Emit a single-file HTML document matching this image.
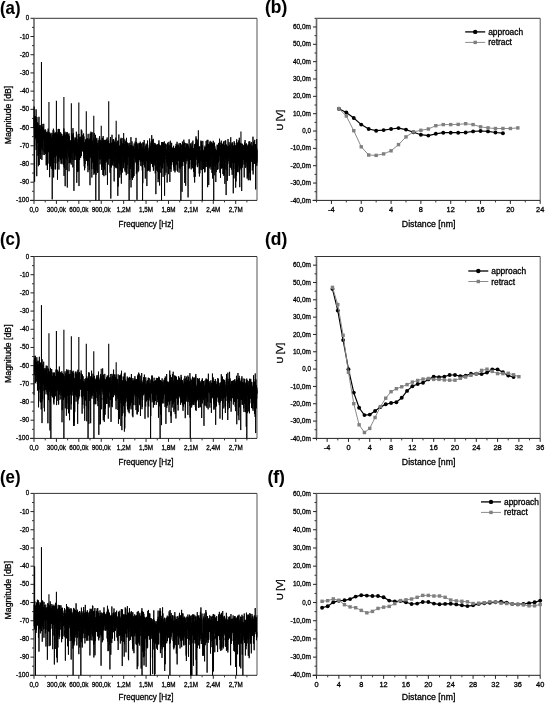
<!DOCTYPE html>
<html><head><meta charset="utf-8"><title>Figure</title>
<style>html,body{margin:0;padding:0;background:#fff;}svg{display:block;}text{fill:#000;stroke:#000;stroke-width:0.3px;}</style>
</head><body>
<svg width="545" height="703" viewBox="0 0 545 703" font-family="'Liberation Sans', Arial, sans-serif">
<rect width="545" height="703" fill="#fff"/>
<line x1="34" y1="18.3" x2="257" y2="18.3" stroke="#333" stroke-width="1"/>
<line x1="257" y1="18.3" x2="257" y2="200.4" stroke="#555" stroke-width="1"/>
<line x1="30" y1="200.4" x2="257" y2="200.4" stroke="#222" stroke-width="1"/>
<line x1="34" y1="18.3" x2="34" y2="200.4" stroke="#666" stroke-width="1.6"/>
<line x1="30.5" y1="200.4" x2="34" y2="200.4" stroke="#222" stroke-width="1"/>
<line x1="32" y1="191.3" x2="34" y2="191.3" stroke="#333" stroke-width="1"/>
<line x1="30.5" y1="182.19" x2="34" y2="182.19" stroke="#222" stroke-width="1"/>
<line x1="32" y1="173.09" x2="34" y2="173.09" stroke="#333" stroke-width="1"/>
<line x1="30.5" y1="163.98" x2="34" y2="163.98" stroke="#222" stroke-width="1"/>
<line x1="32" y1="154.88" x2="34" y2="154.88" stroke="#333" stroke-width="1"/>
<line x1="30.5" y1="145.77" x2="34" y2="145.77" stroke="#222" stroke-width="1"/>
<line x1="32" y1="136.67" x2="34" y2="136.67" stroke="#333" stroke-width="1"/>
<line x1="30.5" y1="127.56" x2="34" y2="127.56" stroke="#222" stroke-width="1"/>
<line x1="32" y1="118.46" x2="34" y2="118.46" stroke="#333" stroke-width="1"/>
<line x1="30.5" y1="109.35" x2="34" y2="109.35" stroke="#222" stroke-width="1"/>
<line x1="32" y1="100.25" x2="34" y2="100.25" stroke="#333" stroke-width="1"/>
<line x1="30.5" y1="91.14" x2="34" y2="91.14" stroke="#222" stroke-width="1"/>
<line x1="32" y1="82.04" x2="34" y2="82.04" stroke="#333" stroke-width="1"/>
<line x1="30.5" y1="72.93" x2="34" y2="72.93" stroke="#222" stroke-width="1"/>
<line x1="32" y1="63.83" x2="34" y2="63.83" stroke="#333" stroke-width="1"/>
<line x1="30.5" y1="54.72" x2="34" y2="54.72" stroke="#222" stroke-width="1"/>
<line x1="32" y1="45.62" x2="34" y2="45.62" stroke="#333" stroke-width="1"/>
<line x1="30.5" y1="36.51" x2="34" y2="36.51" stroke="#222" stroke-width="1"/>
<line x1="32" y1="27.41" x2="34" y2="27.41" stroke="#333" stroke-width="1"/>
<line x1="30.5" y1="18.3" x2="34" y2="18.3" stroke="#222" stroke-width="1"/>
<text x="29.2" y="20.3" font-size="7.2" text-anchor="end" textLength="3.4" lengthAdjust="spacingAndGlyphs">0</text>
<text x="29.2" y="38.51" font-size="7.2" text-anchor="end" textLength="9.4" lengthAdjust="spacingAndGlyphs">-10</text>
<text x="29.2" y="56.72" font-size="7.2" text-anchor="end" textLength="9.4" lengthAdjust="spacingAndGlyphs">-20</text>
<text x="29.2" y="74.93" font-size="7.2" text-anchor="end" textLength="9.4" lengthAdjust="spacingAndGlyphs">-30</text>
<text x="29.2" y="93.14" font-size="7.2" text-anchor="end" textLength="9.4" lengthAdjust="spacingAndGlyphs">-40</text>
<text x="29.2" y="111.35" font-size="7.2" text-anchor="end" textLength="9.4" lengthAdjust="spacingAndGlyphs">-50</text>
<text x="29.2" y="129.56" font-size="7.2" text-anchor="end" textLength="9.4" lengthAdjust="spacingAndGlyphs">-60</text>
<text x="29.2" y="147.77" font-size="7.2" text-anchor="end" textLength="9.4" lengthAdjust="spacingAndGlyphs">-70</text>
<text x="29.2" y="165.98" font-size="7.2" text-anchor="end" textLength="9.4" lengthAdjust="spacingAndGlyphs">-80</text>
<text x="29.2" y="184.19" font-size="7.2" text-anchor="end" textLength="9.4" lengthAdjust="spacingAndGlyphs">-90</text>
<text x="29.2" y="202.4" font-size="7.2" text-anchor="end" textLength="13.2" lengthAdjust="spacingAndGlyphs">-100</text>
<line x1="34" y1="200.4" x2="34" y2="203.9" stroke="#222" stroke-width="1"/>
<line x1="45.21" y1="200.4" x2="45.21" y2="202.4" stroke="#333" stroke-width="1"/>
<line x1="56.41" y1="200.4" x2="56.41" y2="203.9" stroke="#222" stroke-width="1"/>
<line x1="67.62" y1="200.4" x2="67.62" y2="202.4" stroke="#333" stroke-width="1"/>
<line x1="78.82" y1="200.4" x2="78.82" y2="203.9" stroke="#222" stroke-width="1"/>
<line x1="90.03" y1="200.4" x2="90.03" y2="202.4" stroke="#333" stroke-width="1"/>
<line x1="101.24" y1="200.4" x2="101.24" y2="203.9" stroke="#222" stroke-width="1"/>
<line x1="112.44" y1="200.4" x2="112.44" y2="202.4" stroke="#333" stroke-width="1"/>
<line x1="123.65" y1="200.4" x2="123.65" y2="203.9" stroke="#222" stroke-width="1"/>
<line x1="134.85" y1="200.4" x2="134.85" y2="202.4" stroke="#333" stroke-width="1"/>
<line x1="146.06" y1="200.4" x2="146.06" y2="203.9" stroke="#222" stroke-width="1"/>
<line x1="157.27" y1="200.4" x2="157.27" y2="202.4" stroke="#333" stroke-width="1"/>
<line x1="168.47" y1="200.4" x2="168.47" y2="203.9" stroke="#222" stroke-width="1"/>
<line x1="179.68" y1="200.4" x2="179.68" y2="202.4" stroke="#333" stroke-width="1"/>
<line x1="190.88" y1="200.4" x2="190.88" y2="203.9" stroke="#222" stroke-width="1"/>
<line x1="202.09" y1="200.4" x2="202.09" y2="202.4" stroke="#333" stroke-width="1"/>
<line x1="213.3" y1="200.4" x2="213.3" y2="203.9" stroke="#222" stroke-width="1"/>
<line x1="224.5" y1="200.4" x2="224.5" y2="202.4" stroke="#333" stroke-width="1"/>
<line x1="235.71" y1="200.4" x2="235.71" y2="203.9" stroke="#222" stroke-width="1"/>
<line x1="246.91" y1="200.4" x2="246.91" y2="202.4" stroke="#333" stroke-width="1"/>
<text x="34" y="212.2" font-size="7.2" text-anchor="middle" textLength="9" lengthAdjust="spacingAndGlyphs">0,0</text>
<text x="56.41" y="212.2" font-size="7.2" text-anchor="middle" textLength="19.2" lengthAdjust="spacingAndGlyphs">300,0k</text>
<text x="78.82" y="212.2" font-size="7.2" text-anchor="middle" textLength="19.2" lengthAdjust="spacingAndGlyphs">600,0k</text>
<text x="101.24" y="212.2" font-size="7.2" text-anchor="middle" textLength="19.2" lengthAdjust="spacingAndGlyphs">900,0k</text>
<text x="123.65" y="212.2" font-size="7.2" text-anchor="middle" textLength="14" lengthAdjust="spacingAndGlyphs">1,2M</text>
<text x="146.06" y="212.2" font-size="7.2" text-anchor="middle" textLength="14" lengthAdjust="spacingAndGlyphs">1,5M</text>
<text x="168.47" y="212.2" font-size="7.2" text-anchor="middle" textLength="14" lengthAdjust="spacingAndGlyphs">1,8M</text>
<text x="190.88" y="212.2" font-size="7.2" text-anchor="middle" textLength="14" lengthAdjust="spacingAndGlyphs">2,1M</text>
<text x="213.3" y="212.2" font-size="7.2" text-anchor="middle" textLength="14" lengthAdjust="spacingAndGlyphs">2,4M</text>
<text x="235.71" y="212.2" font-size="7.2" text-anchor="middle" textLength="14" lengthAdjust="spacingAndGlyphs">2,7M</text>
<text x="146" y="226.6" font-size="8.7" text-anchor="middle" textLength="55" lengthAdjust="spacingAndGlyphs">Frequency [Hz]</text>
<text x="10.6" y="115" font-size="8.7" text-anchor="middle" textLength="58.5" lengthAdjust="spacingAndGlyphs" transform="rotate(-90 10.6 115)">Magnitude [dB]</text>
<text x="0" y="13.9" font-size="17.8" font-weight="bold" textLength="20.5" lengthAdjust="spacingAndGlyphs" style="stroke-width:0.1px">(a)</text>
<polyline points="34,118.86 34.07,128.23 34.15,106.6 34.22,127.49 34.3,135.98 34.37,115.98 34.45,126.03 34.52,125.55 34.59,181.73 34.67,123.7 34.74,121.51 34.82,132.76 34.89,118.23 34.97,133.98 35.04,124.7 35.12,137.93 35.19,123.92 35.26,129.25 35.34,126.62 35.41,116.3 35.49,123.39 35.56,125.34 35.64,116.48 35.71,119.37 35.78,124 35.86,133.66 35.93,122.84 36.01,139.45 36.08,109.33 36.16,150.02 36.23,119.49 36.31,121.7 36.38,145.01 36.45,122.34 36.53,149.31 36.6,124.8 36.68,125.89 36.75,176.2 36.83,126.73 36.9,117.15 36.97,129.47 37.05,132.13 37.12,131.73 37.2,126.81 37.27,132.93 37.35,137.99 37.42,128.13 37.49,125.55 37.57,130.21 37.64,122.27 37.72,142.83 37.79,136.8 37.87,144.33 37.94,155.82 38.02,132.85 38.09,130.35 38.16,123.52 38.24,133.38 38.31,140.98 38.39,166.18 38.46,151.39 38.54,134.85 38.61,128.27 38.68,151.16 38.76,132.03 38.83,138.91 38.91,123.02 38.98,116.8 39.06,143.76 39.13,133.34 39.21,130.25 39.28,164.97 39.35,150.62 39.43,128.64 39.5,125.65 39.58,133.6 39.65,134.89 39.73,136.62 39.8,134.68 39.87,125.3 39.95,136.46 40.02,130.03 40.1,151.66 40.17,125.35 40.25,154.82 40.32,129.62 40.39,141.22 40.47,148.89 40.54,136.71 40.62,135.16 40.69,158.96 40.77,143.75 40.84,143.87 40.92,136.13 40.99,129.54 41.06,140.9 41.14,132.73 41.21,128.23 41.29,139.81 41.36,147.47 41.44,123.85 41.51,127 41.58,137.38 41.66,134.41 41.73,148.42 41.81,131.18 41.88,159.94 41.96,143.64 42.03,135.39 42.11,123.96 42.18,145.1 42.25,150.49 42.33,150.23 42.4,142.59 42.48,145.7 42.55,142.61 42.63,134.7 42.7,126.7 42.77,138.84 42.85,128.19 42.92,136.92 43,140.94 43.07,154.86 43.15,144.02 43.22,139.62 43.29,137.56 43.37,133.85 43.44,137.65 43.52,127.76 43.59,130.23 43.67,133.15 43.74,123.81 43.82,133.46 43.89,134.05 43.96,140.12 44.04,135.71 44.11,152.31 44.19,130.62 44.26,153.31 44.34,155.01 44.41,135.14 44.48,136.83 44.56,143.11 44.63,135.35 44.71,131.95 44.78,150.36 44.86,129.84 44.93,135.91 45.01,139.29 45.08,135.1 45.15,136.05 45.23,129.37 45.3,137.55 45.38,144.68 45.45,154.06 45.53,131.41 45.6,143.74 45.67,133.38 45.75,130.41 45.82,147.11 45.9,135.7 45.97,150.26 46.05,139.84 46.12,133.11 46.19,165.25 46.27,132.08 46.34,143.92 46.42,139.66 46.49,144.45 46.57,138.56 46.64,143.83 46.72,132.53 46.79,165.16 46.86,145 46.94,138.02 47.01,140.62 47.09,133.95 47.16,144.18 47.24,145.12 47.31,133.59 47.38,169.94 47.46,144.12 47.53,139.44 47.61,139.6 47.68,141.89 47.76,132.74 47.83,139.63 47.9,131.44 47.98,163.67 48.05,150.45 48.13,138.47 48.2,128.62 48.28,149.81 48.35,152.01 48.43,148.74 48.5,137.58 48.57,139.97 48.65,136.65 48.72,138.98 48.8,132.08 48.87,140.64 48.95,148.87 49.02,137.52 49.09,146.63 49.17,152.55 49.24,134.04 49.32,144.86 49.39,143.52 49.47,142.98 49.54,147.2 49.62,177.19 49.69,146.43 49.76,132.51 49.84,145.14 49.91,165.14 49.99,134.05 50.06,156.67 50.14,162.71 50.21,151.45 50.28,134.03 50.36,137.93 50.43,156.94 50.51,166.38 50.58,150.58 50.66,138.7 50.73,135.47 50.8,133.34 50.88,142.98 50.95,140.38 51.03,141.31 51.1,145.93 51.18,141.73 51.25,140.29 51.33,168.84 51.4,153.57 51.47,139.75 51.55,161.77 51.62,137.15 51.7,145.82 51.77,138.45 51.85,145.44 51.92,154.56 51.99,132.78 52.07,143.8 52.14,145.33 52.22,199.34 52.29,140.45 52.37,134.9 52.44,147.9 52.52,141.39 52.59,169.82 52.66,153.25 52.74,165 52.81,143.84 52.89,139.52 52.96,140.8 53.04,163.14 53.11,158.86 53.18,130 53.26,170.67 53.33,159.5 53.41,128.69 53.48,137.36 53.56,135.78 53.63,177.5 53.7,158.22 53.78,130.49 53.85,135.07 53.93,163.01 54,132.65 54.08,136.25 54.15,151.14 54.23,151.16 54.3,143.68 54.37,150.49 54.45,133.33 54.52,150.08 54.6,157.38 54.67,140.56 54.75,144.14 54.82,138.55 54.89,138.58 54.97,144.83 55.04,149.61 55.12,169.26 55.19,158.81 55.27,137.05 55.34,146.1 55.42,133.88 55.49,148.06 55.56,132.41 55.64,169.35 55.71,150.31 55.79,151.01 55.86,137.81 55.94,144.15 56.01,136.62 56.08,136.67 56.16,138.43 56.23,134.69 56.31,155.67 56.38,135.73 56.46,151.2 56.53,138.94 56.6,134.72 56.68,139.23 56.75,142.68 56.83,154.45 56.9,147.72 56.98,131.99 57.05,149.91 57.13,163.36 57.2,150.88 57.27,156.5 57.35,153.41 57.42,133.71 57.5,179.68 57.57,149.9 57.65,160.72 57.72,138.02 57.79,152.34 57.87,158.3 57.94,154.37 58.02,148 58.09,137.9 58.17,129.06 58.24,148.1 58.32,137.56 58.39,149.53 58.46,142.57 58.54,156.45 58.61,142.14 58.69,128.87 58.76,161.81 58.84,140.83 58.91,169.57 58.98,150.65 59.06,153.44 59.13,137.08 59.21,139.91 59.28,144.33 59.36,140.31 59.43,129.25 59.5,146.44 59.58,146.93 59.65,146.25 59.73,137.56 59.8,151.52 59.88,158.45 59.95,146.34 60.03,137.52 60.1,138.23 60.17,157.93 60.25,141.75 60.32,157.89 60.4,151.08 60.47,135.11 60.55,149.51 60.62,132.24 60.69,159.95 60.77,142.07 60.84,144.41 60.92,147.93 60.99,163.82 61.07,138.23 61.14,153.02 61.22,151.22 61.29,141.02 61.36,138.5 61.44,162.49 61.51,133.74 61.59,137.65 61.66,137.05 61.74,145.99 61.81,134.08 61.88,142.47 61.96,150.8 62.03,164.25 62.11,143.81 62.18,135.88 62.26,145.82 62.33,158.46 62.4,149.75 62.48,146.44 62.55,137.32 62.63,136.51 62.7,146.47 62.78,137.85 62.85,151.47 62.93,142.71 63,149.16 63.07,154.29 63.15,135.7 63.22,142.27 63.3,136.31 63.37,163.06 63.45,146.53 63.52,165.01 63.59,136.18 63.67,133.95 63.74,141.03 63.82,139.73 63.89,128.47 63.97,146.31 64.04,175.9 64.12,161.92 64.19,166.81 64.26,142.06 64.34,135.89 64.41,167.95 64.49,136.74 64.56,142.39 64.64,146.36 64.71,133.29 64.78,145.29 64.86,138.32 64.93,148.73 65.01,131.72 65.08,149.85 65.16,186.19 65.23,159 65.3,145.84 65.38,146.76 65.45,136.44 65.53,135.55 65.6,146.01 65.68,137.6 65.75,148.05 65.83,153.65 65.9,148.39 65.97,158.06 66.05,143.15 66.12,157.76 66.2,169.94 66.27,132.47 66.35,146.87 66.42,141.65 66.49,135 66.57,151.89 66.64,159.49 66.72,145.83 66.79,133.98 66.87,152.77 66.94,135.7 67.02,149.46 67.09,139.9 67.16,136.78 67.24,131.96 67.31,187.52 67.39,149 67.46,133.59 67.54,146.34 67.61,147.28 67.68,146.54 67.76,144.43 67.83,139.08 67.91,146.72 67.98,144.04 68.06,138.87 68.13,136.2 68.2,137.31 68.28,143.23 68.35,140.4 68.43,147.38 68.5,144.21 68.58,134.74 68.65,137.37 68.73,157.22 68.8,143.45 68.87,134.07 68.95,133.38 69.02,171.28 69.1,147.47 69.17,163.05 69.25,142.41 69.32,136.19 69.39,160.5 69.47,162.75 69.54,156.29 69.62,149.07 69.69,144.57 69.77,145.04 69.84,145.55 69.91,140.83 69.99,147.81 70.06,144.05 70.14,140.46 70.21,156.05 70.29,141.92 70.36,162.32 70.44,163.2 70.51,162.71 70.58,140.73 70.66,158.94 70.73,143.48 70.81,152.81 70.88,141.54 70.96,148.3 71.03,157.41 71.1,152.63 71.18,147.36 71.25,164.59 71.33,144.33 71.4,140.44 71.48,145.69 71.55,133.27 71.63,137.89 71.7,135.32 71.77,142.64 71.85,149.77 71.92,141.05 72,146.03 72.07,147.47 72.15,159.78 72.22,140.08 72.29,148.7 72.37,139.72 72.44,147.93 72.52,141.36 72.59,145.46 72.67,140.63 72.74,134.33 72.81,167.36 72.89,141.59 72.96,128.15 73.04,143.35 73.11,139.66 73.19,147.26 73.26,152.49 73.34,138.71 73.41,132.91 73.48,144.98 73.56,135.38 73.63,152.38 73.71,142.51 73.78,143.37 73.86,163.36 73.93,190.82 74,137.63 74.08,137.45 74.15,160.12 74.23,159.31 74.3,145.44 74.38,142.15 74.45,143.07 74.53,158.25 74.6,156.56 74.67,155.28 74.75,154.39 74.82,159.9 74.9,139.68 74.97,142.88 75.05,159.95 75.12,157.66 75.19,154.25 75.27,140.29 75.34,150.09 75.42,154.8 75.49,138.06 75.57,140.72 75.64,146.53 75.71,137.64 75.79,149.13 75.86,154.41 75.94,143.31 76.01,145.23 76.09,137.67 76.16,147.42 76.24,156.19 76.31,142.54 76.38,131.75 76.46,141.74 76.53,148.06 76.61,139.01 76.68,146.58 76.76,182.82 76.83,146.34 76.9,142.04 76.98,147.07 77.05,139.08 77.13,170.38 77.2,144.97 77.28,159.44 77.35,154.7 77.43,162.38 77.5,146.46 77.57,144.58 77.65,172.08 77.72,154.17 77.8,145.67 77.87,153.34 77.95,145.44 78.02,144.33 78.09,149.42 78.17,134.23 78.24,149.73 78.32,135.82 78.39,139.82 78.47,137.76 78.54,142.45 78.61,171.32 78.69,154.06 78.76,133.87 78.84,134.89 78.91,134.05 78.99,186.06 79.06,161.65 79.14,136.81 79.21,151.99 79.28,159.72 79.36,147.7 79.43,147.53 79.51,145.31 79.58,159.88 79.66,139.53 79.73,142.18 79.8,152.46 79.88,150.36 79.95,137.23 80.03,149.7 80.1,153.31 80.18,155.98 80.25,145.5 80.33,143.23 80.4,146.89 80.47,139.34 80.55,149.12 80.62,158.04 80.7,141.91 80.77,136.64 80.85,140.36 80.92,144.42 80.99,151.75 81.07,145.22 81.14,156.14 81.22,152.29 81.29,129.55 81.37,156.05 81.44,146.44 81.51,140.64 81.59,151.33 81.66,141.84 81.74,148.59 81.81,130.63 81.89,146.03 81.96,135.34 82.04,138.44 82.11,148.39 82.18,150.72 82.26,139.53 82.33,137.86 82.41,151.45 82.48,147.33 82.56,149.98 82.63,147.59 82.7,144.8 82.78,149.3 82.85,146.62 82.93,143.47 83,141.05 83.08,134.85 83.15,141.76 83.23,140.43 83.3,148.38 83.37,143.59 83.45,141.87 83.52,153.62 83.6,133.44 83.67,144.04 83.75,142.65 83.82,144.65 83.89,158.37 83.97,136.47 84.04,148.78 84.12,152.52 84.19,166.31 84.27,144.74 84.34,161.17 84.41,154.97 84.49,162.85 84.56,170.22 84.64,166.7 84.71,142.52 84.79,167.18 84.86,168.16 84.94,155.42 85.01,142.83 85.08,164.03 85.16,156.34 85.23,148.43 85.31,142.86 85.38,141.23 85.46,139.41 85.53,147.63 85.6,155.28 85.68,151.62 85.75,157.84 85.83,142.16 85.9,140.45 85.98,144.07 86.05,159.16 86.13,140.88 86.2,156.99 86.27,141.45 86.35,145.16 86.42,152.12 86.5,158.08 86.57,138.89 86.65,161.03 86.72,152.55 86.79,144.59 86.87,144.39 86.94,160.34 87.02,150.74 87.09,155.62 87.17,148.77 87.24,151.35 87.31,144.12 87.39,138.22 87.46,144.7 87.54,163.85 87.61,144.21 87.69,149.47 87.76,165.93 87.84,138.88 87.91,143.21 87.98,172.16 88.06,137.87 88.13,133.87 88.21,161.21 88.28,143.02 88.36,152.75 88.43,153.16 88.5,148.42 88.58,153.33 88.65,141.8 88.73,156.33 88.8,151.27 88.88,148.75 88.95,147.62 89.03,140.01 89.1,149.34 89.17,145.78 89.25,170.04 89.32,151.32 89.4,139.61 89.47,139.72 89.55,155.61 89.62,138.59 89.69,147.73 89.77,141.69 89.84,142.59 89.92,160.21 89.99,185.21 90.07,143.08 90.14,133.55 90.21,152.1 90.29,157.73 90.36,152.47 90.44,141.27 90.51,140.03 90.59,153.23 90.66,137.35 90.74,140.37 90.81,152.53 90.88,150.07 90.96,131.68 91.03,141.95 91.11,146.54 91.18,133.09 91.26,140.97 91.33,157.46 91.4,144.17 91.48,143.69 91.55,168.66 91.63,144.45 91.7,133.11 91.78,146.56 91.85,177.52 91.92,142.45 92,146.86 92.07,132.13 92.15,146.37 92.22,155.97 92.3,140.64 92.37,147.37 92.45,142.33 92.52,161.27 92.59,144.24 92.67,152.12 92.74,152.88 92.82,154.4 92.89,145.93 92.97,163.06 93.04,149.7 93.11,146.18 93.19,162.35 93.26,169.31 93.34,144.14 93.41,146 93.49,148.54 93.56,149.92 93.64,151.58 93.71,146.63 93.78,149.04 93.86,174.74 93.93,138.15 94.01,142.42 94.08,142.26 94.16,151.9 94.23,132.97 94.3,144.83 94.38,153.8 94.45,140.35 94.53,173.39 94.6,153.92 94.68,153.49 94.75,167.59 94.82,158.84 94.9,158.96 94.97,151.82 95.05,157.33 95.12,151.02 95.2,143.66 95.27,147.05 95.35,146.53 95.42,152.59 95.49,134.85 95.57,170.55 95.64,147.47 95.72,156.85 95.79,200.4 95.87,159.61 95.94,153.5 96.01,174.84 96.09,144.4 96.16,160.91 96.24,165.33 96.31,164.92 96.39,155.77 96.46,161.21 96.54,145.04 96.61,139.14 96.68,154.81 96.76,137.85 96.83,147.28 96.91,158.71 96.98,170.61 97.06,149.33 97.13,156.88 97.2,149.9 97.28,154.67 97.35,148.46 97.43,143.49 97.5,143.83 97.58,172.82 97.65,150.89 97.72,159.07 97.8,142.68 97.87,172.3 97.95,166.61 98.02,153.08 98.1,149.66 98.17,140.23 98.25,144.39 98.32,145.59 98.39,144.94 98.47,149.35 98.54,148.46 98.62,150.1 98.69,146.39 98.77,150.36 98.84,151.76 98.91,170.18 98.99,200.4 99.06,151.89 99.14,149.5 99.21,138.22 99.29,158.53 99.36,157.84 99.44,137.55 99.51,142.93 99.58,136.12 99.66,137.83 99.73,153.57 99.81,153.33 99.88,159.68 99.96,143.94 100.03,148.33 100.1,164.36 100.18,142 100.25,157 100.33,139.89 100.4,156.75 100.48,150.92 100.55,143.76 100.62,156.86 100.7,149.73 100.77,151.99 100.85,159.37 100.92,145.1 101,149.68 101.07,149.83 101.15,141.15 101.22,141.64 101.29,149.14 101.37,152.74 101.44,149.22 101.52,152.41 101.59,153.71 101.67,169.93 101.74,143.45 101.81,148.39 101.89,140.71 101.96,149.61 102.04,155.74 102.11,154.23 102.19,138.52 102.26,167.17 102.34,153.8 102.41,145.7 102.48,151.66 102.56,137.89 102.63,153.32 102.71,146.96 102.78,151.22 102.86,151.53 102.93,174.93 103,155.5 103.08,151.76 103.15,136.04 103.23,143.78 103.3,145.3 103.38,174.88 103.45,140.14 103.52,159.11 103.6,153.06 103.67,146.79 103.75,145.48 103.82,144.79 103.9,140.03 103.97,176.2 104.05,151.64 104.12,162.81 104.19,150.15 104.27,149.5 104.34,143.54 104.42,143.81 104.49,169.67 104.57,147.85 104.64,149.57 104.71,153.93 104.79,151.8 104.86,140.41 104.94,150.62 105.01,139.76 105.09,151.53 105.16,154.53 105.24,142.29 105.31,162.51 105.38,149.32 105.46,156.39 105.53,156.33 105.61,157.87 105.68,139.97 105.76,175.23 105.83,143.47 105.9,145.05 105.98,145.42 106.05,145.46 106.13,142.12 106.2,152.7 106.28,160.53 106.35,149.39 106.42,148.97 106.5,148.93 106.57,139.25 106.65,151.81 106.72,155.4 106.8,148.3 106.87,162.38 106.95,144.68 107.02,158.92 107.09,159.92 107.17,137.52 107.24,144.11 107.32,155.72 107.39,157.48 107.47,184.9 107.54,152 107.61,147.08 107.69,156.19 107.76,140.9 107.84,151.64 107.91,146.96 107.99,155.97 108.06,145.35 108.14,159.11 108.21,143.11 108.28,164.64 108.36,152.95 108.43,140.44 108.51,142.12 108.58,141.01 108.66,143.59 108.73,154.86 108.8,148.67 108.88,144.5 108.95,152.57 109.03,147.05 109.1,150.39 109.18,146.73 109.25,159.12 109.32,151.07 109.4,143.72 109.47,149.06 109.55,144.23 109.62,144.86 109.7,154.66 109.77,143.33 109.85,145.2 109.92,146.57 109.99,171.49 110.07,172.74 110.14,145.58 110.22,166.1 110.29,155.55 110.37,139.4 110.44,148.92 110.51,136.99 110.59,146.83 110.66,164 110.74,168.47 110.81,198.57 110.89,174.79 110.96,153.36 111.04,145.42 111.11,157.25 111.18,153.56 111.26,142.98 111.33,142.79 111.41,167.47 111.48,154.5 111.56,150.82 111.63,145.26 111.7,147.69 111.78,162.45 111.85,155.42 111.93,150.13 112,134.79 112.08,150.54 112.15,151.13 112.22,145.51 112.3,142.1 112.37,150.52 112.45,164.72 112.52,146.54 112.6,163.68 112.67,149.67 112.75,151.1 112.82,148.77 112.89,139.44 112.97,140.87 113.04,155.93 113.12,165.89 113.19,152.15 113.27,144.22 113.34,147.69 113.41,148.27 113.49,143.38 113.56,151.79 113.64,139.03 113.71,141.76 113.79,139.92 113.86,150.02 113.93,147.38 114.01,161.91 114.08,147.37 114.16,181.42 114.23,141.53 114.31,152.01 114.38,160.96 114.46,151.27 114.53,166.38 114.6,154.66 114.68,158.6 114.75,141.83 114.83,144.26 114.9,156.42 114.98,149.43 115.05,151.61 115.12,144.81 115.2,144.3 115.27,158.62 115.35,159.6 115.42,165.48 115.5,167.5 115.57,144.21 115.65,145.67 115.72,150.73 115.79,137.69 115.87,157.26 115.94,149.84 116.02,148.26 116.09,154.84 116.17,147.45 116.24,142.62 116.31,168.25 116.39,151.76 116.46,151.52 116.54,152.48 116.61,161.65 116.69,154.26 116.76,146.63 116.83,165.72 116.91,156.56 116.98,147.98 117.06,152.59 117.13,161.4 117.21,151.32 117.28,163.76 117.36,167.53 117.43,147.67 117.5,140.76 117.58,151.73 117.65,147.31 117.73,165.91 117.8,195.83 117.88,151.23 117.95,149.86 118.02,146.14 118.1,169.11 118.17,186.47 118.25,152.31 118.32,151.98 118.4,150.74 118.47,147.32 118.55,140.49 118.62,150.49 118.69,145.08 118.77,162.51 118.84,134.5 118.92,139.44 118.99,162.02 119.07,149.23 119.14,145.99 119.21,163.84 119.29,147.8 119.36,155.92 119.44,147.02 119.51,148.42 119.59,160.23 119.66,159.64 119.73,177.56 119.81,149.13 119.88,154.48 119.96,147.24 120.03,146.55 120.11,152.61 120.18,165.01 120.26,145.36 120.33,170.74 120.4,145.66 120.48,148.12 120.55,145.8 120.63,145.68 120.7,152.22 120.78,138.85 120.85,143.15 120.92,161.49 121,174.57 121.07,168.8 121.15,137.82 121.22,152.82 121.3,163.08 121.37,183.64 121.45,140.98 121.52,165.36 121.59,158.34 121.67,153.25 121.74,148.4 121.82,144.08 121.89,151.9 121.97,144.42 122.04,143.2 122.11,146.75 122.19,154.62 122.26,152.75 122.34,172.57 122.41,143.71 122.49,154.8 122.56,151.22 122.63,145.61 122.71,148.2 122.78,145.05 122.86,152.94 122.93,138.09 123.01,149.32 123.08,151.27 123.16,155.06 123.23,164.04 123.3,152.66 123.38,168.19 123.45,147.27 123.53,165.3 123.6,145.6 123.68,157.18 123.75,138.49 123.82,152.67 123.9,148.2 123.97,150.07 124.05,152.98 124.12,155.8 124.2,144.14 124.27,157.97 124.35,148.47 124.42,162.61 124.49,152.88 124.57,157.28 124.64,152.85 124.72,159.06 124.79,147.77 124.87,139.61 124.94,154.66 125.01,171.47 125.09,161 125.16,154.1 125.24,169.89 125.31,153.66 125.39,161.2 125.46,142.88 125.53,141.38 125.61,157.02 125.68,152.03 125.76,155.1 125.83,149.08 125.91,149.28 125.98,169.38 126.06,172.49 126.13,168.52 126.2,156.8 126.28,175.17 126.35,158.03 126.43,152.69 126.5,137.87 126.58,145.63 126.65,155.21 126.72,157.85 126.8,162.57 126.87,168.54 126.95,155.14 127.02,150.64 127.1,143.74 127.17,153.07 127.25,154.58 127.32,158.49 127.39,142.55 127.47,145.97 127.54,154 127.62,147.41 127.69,152.95 127.77,164.89 127.84,151.45 127.91,149.35 127.99,173.89 128.06,145.29 128.14,154.4 128.21,151.08 128.29,153.48 128.36,146.77 128.43,151.6 128.51,146.24 128.58,156.93 128.66,157.1 128.73,155.65 128.81,143.18 128.88,148.56 128.96,147.54 129.03,153.57 129.1,200.4 129.18,163.27 129.25,150.38 129.33,150.26 129.4,147.9 129.48,150.61 129.55,152.53 129.62,152.67 129.7,179.99 129.77,146.5 129.85,142.77 129.92,150.12 130,151.44 130.07,153.21 130.15,149.39 130.22,145.45 130.29,148 130.37,169.01 130.44,167.03 130.52,151.01 130.59,145.68 130.67,154.19 130.74,148.35 130.81,149.83 130.89,153.1 130.96,137.18 131.04,187.42 131.11,148.25 131.19,158.6 131.26,153.9 131.33,145.59 131.41,145.01 131.48,155.68 131.56,153.11 131.63,155.78 131.71,151.6 131.78,169.38 131.86,171.84 131.93,178.06 132,141.4 132.08,166.25 132.15,153.01 132.23,155.18 132.3,153.03 132.38,152.24 132.45,156.94 132.52,180.03 132.6,156.86 132.67,147.05 132.75,149.51 132.82,145.65 132.9,173.22 132.97,154.32 133.05,150.25 133.12,151.28 133.19,150.17 133.27,146.01 133.34,160.43 133.42,177.56 133.49,152.92 133.57,164.72 133.64,168.72 133.71,158.91 133.79,164.42 133.86,148.1 133.94,148.52 134.01,152.45 134.09,175.98 134.16,143.46 134.23,146.58 134.31,147.47 134.38,148.2 134.46,156.2 134.53,149.73 134.61,156.06 134.68,154.39 134.76,151.75 134.83,150.08 134.9,149.98 134.98,159.3 135.05,158.54 135.13,148.72 135.2,141.54 135.28,157.54 135.35,156.32 135.42,150.83 135.5,154.08 135.57,161.26 135.65,145.45 135.72,151.41 135.8,158.21 135.87,149.49 135.94,162.73 136.02,137.87 136.09,155.04 136.17,143.94 136.24,160.32 136.32,153.28 136.39,173.85 136.47,144.76 136.54,142.1 136.61,158.38 136.69,158.63 136.76,159.5 136.84,163.27 136.91,152.62 136.99,199.84 137.06,146.24 137.13,163.22 137.21,149.35 137.28,144.25 137.36,163.39 137.43,145.18 137.51,154.38 137.58,151.42 137.66,154.93 137.73,153.43 137.8,153.58 137.88,159.05 137.95,172.23 138.03,142.85 138.1,164.82 138.18,154.18 138.25,150.27 138.32,159.97 138.4,151.9 138.47,157.35 138.55,149.04 138.62,158.03 138.7,170.61 138.77,157.71 138.84,151.34 138.92,150.44 138.99,148.81 139.07,144.12 139.14,154.37 139.22,148.68 139.29,155.16 139.37,154.95 139.44,159.84 139.51,144.23 139.59,147.38 139.66,146.95 139.74,143.17 139.81,145.76 139.89,143.16 139.96,156.22 140.03,154.85 140.11,147.78 140.18,161.55 140.26,141.74 140.33,150.75 140.41,152.99 140.48,156.68 140.56,159.38 140.63,156.91 140.7,144.52 140.78,165.9 140.85,148.73 140.93,149.97 141,149.46 141.08,152.26 141.15,150.81 141.22,152.57 141.3,148.02 141.37,161.32 141.45,154.13 141.52,146.65 141.6,143.46 141.67,147.61 141.74,149.59 141.82,146.8 141.89,163.86 141.97,165.46 142.04,166.7 142.12,166.63 142.19,153.48 142.27,170.48 142.34,147.92 142.41,147.77 142.49,151.88 142.56,200.4 142.64,162.79 142.71,162.26 142.79,183.17 142.86,162.88 142.93,142.36 143.01,162.22 143.08,150.34 143.16,164.85 143.23,142.52 143.31,146.11 143.38,152.45 143.46,150.91 143.53,151.86 143.6,153.14 143.68,150.87 143.75,149.65 143.83,150.89 143.9,161.67 143.98,153.15 144.05,151.88 144.12,156.16 144.2,140.04 144.27,158.81 144.35,161.02 144.42,153.09 144.5,159.82 144.57,149.04 144.64,166.61 144.72,150.73 144.79,153.45 144.87,156.33 144.94,161.24 145.02,167.16 145.09,167.73 145.17,146.75 145.24,159.22 145.31,178.55 145.39,150.3 145.46,154.18 145.54,155.74 145.61,153 145.69,149.02 145.76,145.67 145.83,156.69 145.91,150.41 145.98,151.79 146.06,148.26 146.13,143.63 146.21,154.28 146.28,156.25 146.36,149.84 146.43,160.03 146.5,150.73 146.58,161.18 146.65,149.3 146.73,152.36 146.8,156 146.88,186.06 146.95,157.13 147.02,144.97 147.1,144.62 147.17,153.14 147.25,144.41 147.32,153.88 147.4,171.15 147.47,155.31 147.54,140.53 147.62,152.97 147.69,144.8 147.77,148.52 147.84,162.63 147.92,148.29 147.99,154.23 148.07,160.05 148.14,151.44 148.21,157.77 148.29,156.43 148.36,165.5 148.44,170.67 148.51,153.3 148.59,170.03 148.66,157.58 148.73,155.21 148.81,157.68 148.88,150.58 148.96,159.3 149.03,152.99 149.11,156.38 149.18,147.38 149.26,158.12 149.33,161.4 149.4,155.38 149.48,151.12 149.55,157.55 149.63,138.49 149.7,148.79 149.78,170.32 149.85,157.3 149.92,152.2 150,171.77 150.07,169.01 150.15,166.01 150.22,154.56 150.3,160.32 150.37,157.65 150.44,145.8 150.52,157.37 150.59,153.56 150.67,147.18 150.74,146.92 150.82,146.78 150.89,162.5 150.97,143.28 151.04,148.59 151.11,151.02 151.19,141.53 151.26,155.95 151.34,153.72 151.41,164.06 151.49,146.06 151.56,152.7 151.63,157.24 151.71,135.17 151.78,137 151.86,151.23 151.93,141.28 152.01,160.5 152.08,153.66 152.16,150.27 152.23,140.43 152.3,160.92 152.38,148.03 152.45,154.05 152.53,159.11 152.6,139.67 152.68,167.09 152.75,141.52 152.82,165.3 152.9,147.5 152.97,156.17 153.05,156.39 153.12,151.34 153.2,154.41 153.27,138.84 153.34,162.31 153.42,170.77 153.49,148.4 153.57,153.77 153.64,169.78 153.72,154.13 153.79,155.32 153.87,148 153.94,150.89 154.01,153.73 154.09,145.24 154.16,165.44 154.24,152.27 154.31,156.94 154.39,159.58 154.46,155.6 154.53,155.45 154.61,150.08 154.68,142.93 154.76,163.66 154.83,159.67 154.91,149.31 154.98,150.19 155.06,147.82 155.13,143.44 155.2,163.86 155.28,173.42 155.35,146.52 155.43,160.66 155.5,144.69 155.58,163.13 155.65,152.53 155.72,150.65 155.8,156.3 155.87,194.15 155.95,152.71 156.02,151.26 156.1,149.02 156.17,144.81 156.24,153.44 156.32,160.25 156.39,149.15 156.47,155.2 156.54,144.74 156.62,153.89 156.69,151.79 156.77,150.23 156.84,150.82 156.91,170.48 156.99,159.94 157.06,165.26 157.14,170.29 157.21,152.12 157.29,157.45 157.36,158.54 157.43,153.29 157.51,171.54 157.58,144.19 157.66,163.55 157.73,153.4 157.81,159.79 157.88,158.28 157.95,157.62 158.03,147.02 158.1,182.15 158.18,147.39 158.25,157.03 158.33,148.03 158.4,156.64 158.48,178.74 158.55,157.13 158.62,143.41 158.7,153.2 158.77,151.09 158.85,150.13 158.92,140.38 159,150.64 159.07,156.39 159.14,147.27 159.22,147.46 159.29,146.85 159.37,149.4 159.44,144.75 159.52,163.48 159.59,185.49 159.67,149.61 159.74,151.53 159.81,152.78 159.89,166.13 159.96,146.23 160.04,152.76 160.11,146.73 160.19,153.43 160.26,158.2 160.33,155.65 160.41,158.59 160.48,164.4 160.56,147.78 160.63,151.9 160.71,145.3 160.78,172.73 160.85,164.05 160.93,165.95 161,150.6 161.08,149.22 161.15,155.93 161.23,157.36 161.3,158.75 161.38,150.34 161.45,144.41 161.52,200.4 161.6,142.04 161.67,149.41 161.75,163.36 161.82,155.01 161.9,157.1 161.97,154.09 162.04,156.66 162.12,154.28 162.19,145.99 162.27,152.61 162.34,157.26 162.42,167.47 162.49,142.48 162.57,147.25 162.64,142.55 162.71,168.36 162.79,158.22 162.86,156.75 162.94,143.53 163.01,146.53 163.09,176.86 163.16,142.1 163.23,156.16 163.31,154.96 163.38,150.19 163.46,143.53 163.53,160.44 163.61,149 163.68,149.95 163.75,162.5 163.83,152.99 163.9,154.85 163.98,163.92 164.05,153.78 164.13,156.05 164.2,162.54 164.28,146.12 164.35,141.38 164.42,151.28 164.5,149.87 164.57,195.67 164.65,148.68 164.72,155.99 164.8,144.36 164.87,158.22 164.94,175.19 165.02,168.03 165.09,163.11 165.17,153.19 165.24,146.02 165.32,151.2 165.39,148.2 165.47,155.2 165.54,151.27 165.61,143.55 165.69,148.01 165.76,153.79 165.84,158.86 165.91,157.05 165.99,163.05 166.06,172.66 166.13,152.36 166.21,144.45 166.28,147.3 166.36,155.68 166.43,150.51 166.51,154.4 166.58,155.71 166.65,162.62 166.73,150.1 166.8,151.76 166.88,160.26 166.95,155.15 167.03,155.75 167.1,158.16 167.18,182.51 167.25,149.04 167.32,165.4 167.4,153.59 167.47,157.03 167.55,142.73 167.62,149.39 167.7,143.64 167.77,148.21 167.84,165.3 167.92,161.28 167.99,164.86 168.07,161.14 168.14,166.84 168.22,148.16 168.29,159.96 168.37,164.54 168.44,147.22 168.51,174.17 168.59,145.94 168.66,145.74 168.74,158.45 168.81,152.88 168.89,141.86 168.96,146.27 169.03,158.54 169.11,155.48 169.18,144.82 169.26,168.89 169.33,149.06 169.41,161.41 169.48,151.96 169.55,157.59 169.63,149.68 169.7,148.87 169.78,156.55 169.85,181.92 169.93,156.81 170,155.92 170.08,155.88 170.15,148.6 170.22,160.32 170.3,158.35 170.37,140.75 170.45,157.57 170.52,163.52 170.6,150.95 170.67,150.24 170.74,150.03 170.82,169.21 170.89,152.18 170.97,146.03 171.04,171.89 171.12,150.98 171.19,149.02 171.27,154.85 171.34,145.45 171.41,148.94 171.49,155.79 171.56,149.66 171.64,142.82 171.71,164.99 171.79,151.43 171.86,160.32 171.93,149.33 172.01,157.38 172.08,160.1 172.16,150.01 172.23,156.48 172.31,151.45 172.38,147.57 172.45,155.82 172.53,153.61 172.6,158.34 172.68,162.15 172.75,154.47 172.83,153.45 172.9,153.73 172.98,156.96 173.05,148.74 173.12,152.25 173.2,149.42 173.27,151.71 173.35,156.41 173.42,161.87 173.5,165.86 173.57,145.8 173.64,167.11 173.72,151.12 173.79,148.55 173.87,163.87 173.94,165.24 174.02,156.86 174.09,171.02 174.17,156.4 174.24,169.45 174.31,153.35 174.39,163.76 174.46,162.5 174.54,148.18 174.61,152.94 174.69,152.04 174.76,151.61 174.83,168.02 174.91,169.94 174.98,172.41 175.06,153.81 175.13,153.59 175.21,150.51 175.28,161.11 175.35,146.82 175.43,147 175.5,150.27 175.58,156.62 175.65,157.41 175.73,151.3 175.8,146.32 175.88,170.51 175.95,159.41 176.02,165.21 176.1,143.87 176.17,148.31 176.25,155.9 176.32,152.9 176.4,149.32 176.47,160.15 176.54,157.01 176.62,145.4 176.69,155.68 176.77,158.3 176.84,157.78 176.92,163.98 176.99,159.71 177.07,141.8 177.14,159.67 177.21,152.04 177.29,157.56 177.36,153.48 177.44,145.09 177.51,171.56 177.59,163.51 177.66,167.78 177.73,146.56 177.81,144.95 177.88,155.41 177.96,160.79 178.03,160.23 178.11,145.81 178.18,144.55 178.25,160.98 178.33,150.44 178.4,150.15 178.48,158 178.55,147.98 178.63,153.32 178.7,154.66 178.78,149.35 178.85,148.75 178.92,146.68 179,167.6 179.07,172.58 179.15,143.37 179.22,143.04 179.3,148.31 179.37,159.57 179.44,153.78 179.52,153.12 179.59,167.57 179.67,158.51 179.74,156.92 179.82,148.09 179.89,153.63 179.96,149.43 180.04,154.71 180.11,153.94 180.19,168.94 180.26,150.65 180.34,147.75 180.41,148.44 180.49,142.99 180.56,167.86 180.63,148.79 180.71,167.03 180.78,144.43 180.86,200.4 180.93,144.27 181.01,156.74 181.08,155.52 181.15,152.98 181.23,166.43 181.3,161.48 181.38,157.01 181.45,161.83 181.53,161.53 181.6,158.67 181.68,162.75 181.75,157.48 181.82,160.45 181.9,145.01 181.97,151.42 182.05,191.79 182.12,157.34 182.2,165.56 182.27,149.66 182.34,159.47 182.42,141.56 182.49,150.34 182.57,156.87 182.64,161.19 182.72,163.12 182.79,165.99 182.86,160.48 182.94,149.66 183.01,150.44 183.09,147.8 183.16,159.95 183.24,157.82 183.31,152.08 183.39,143.91 183.46,157.04 183.53,161.69 183.61,161.86 183.68,157.67 183.76,152.02 183.83,139.72 183.91,157.66 183.98,154.94 184.05,159.17 184.13,147.69 184.2,156.89 184.28,146.01 184.35,142.3 184.43,148.21 184.5,163 184.58,155.27 184.65,155.37 184.72,182.95 184.8,162.29 184.87,153.65 184.95,159.17 185.02,154.14 185.1,159.94 185.17,154.65 185.24,142.99 185.32,172.26 185.39,151.46 185.47,153.4 185.54,147.04 185.62,153 185.69,185.77 185.76,149.26 185.84,153.83 185.91,163.89 185.99,150.78 186.06,156.01 186.14,160.7 186.21,153.81 186.29,157.55 186.36,156.17 186.43,154.38 186.51,154.21 186.58,152.03 186.66,143.58 186.73,146.64 186.81,145.08 186.88,144.6 186.95,149.88 187.03,146.99 187.1,161.2 187.18,143.55 187.25,143.66 187.33,158.76 187.4,152.96 187.48,155.81 187.55,144.88 187.62,158.34 187.7,151.39 187.77,157 187.85,144.04 187.92,153.06 188,152.86 188.07,197.39 188.14,166.1 188.22,152.97 188.29,155.14 188.37,160.18 188.44,145.84 188.52,154.19 188.59,160 188.66,156.75 188.74,169.08 188.81,147.52 188.89,156.92 188.96,160.28 189.04,153.37 189.11,139.3 189.19,143.21 189.26,168.09 189.33,162.52 189.41,156.75 189.48,160.98 189.56,163.41 189.63,164.08 189.71,148.51 189.78,155.37 189.85,159.18 189.93,155.83 190,148.9 190.08,150.06 190.15,150.97 190.23,157.57 190.3,149.02 190.38,159.91 190.45,156.32 190.52,143.51 190.6,148.13 190.67,159.68 190.75,146.6 190.82,154.61 190.9,149.45 190.97,157.05 191.04,152.63 191.12,159.46 191.19,169.37 191.27,152.54 191.34,167.39 191.42,162.82 191.49,155.62 191.56,146.8 191.64,151.96 191.71,158.16 191.79,150.09 191.86,150.4 191.94,142.5 192.01,159.38 192.09,153.96 192.16,144.49 192.23,149.68 192.31,156.71 192.38,154.25 192.46,164.77 192.53,151.21 192.61,168.26 192.68,154.16 192.75,156.05 192.83,150.15 192.9,140.64 192.98,145.49 193.05,152.4 193.13,162.79 193.2,148.06 193.28,148.79 193.35,155.63 193.42,157.99 193.5,161.71 193.57,155.86 193.65,171.85 193.72,160.91 193.8,171.87 193.87,150.08 193.94,157.38 194.02,166.56 194.09,161.72 194.17,177.16 194.24,148.46 194.32,149.48 194.39,155.8 194.46,157.29 194.54,145.27 194.61,182.54 194.69,144.06 194.76,147.49 194.84,155.92 194.91,160.9 194.99,155.07 195.06,165.28 195.13,149.73 195.21,176.75 195.28,155.41 195.36,166.32 195.43,158.81 195.51,148.78 195.58,154.28 195.65,148.3 195.73,149.78 195.8,143.05 195.88,165.23 195.95,152.42 196.03,136.34 196.1,151 196.18,150.48 196.25,138.57 196.32,148.26 196.4,146.93 196.47,146.15 196.55,144.18 196.62,149.84 196.7,159.66 196.77,158.9 196.84,152.97 196.92,155.77 196.99,154.81 197.07,145.54 197.14,152.99 197.22,139.55 197.29,151.67 197.36,167.16 197.44,154.94 197.51,164.91 197.59,152.79 197.66,142.15 197.74,152.05 197.81,166.58 197.89,146.21 197.96,158.69 198.03,153.01 198.11,148.6 198.18,146.71 198.26,163.01 198.33,153.59 198.41,154.01 198.48,155.18 198.55,154.3 198.63,150.86 198.7,163.36 198.78,149.18 198.85,153.34 198.93,148.62 199,162.15 199.08,160.93 199.15,153.79 199.22,173.51 199.3,155.36 199.37,147.72 199.45,176.44 199.52,146.38 199.6,154.33 199.67,154.09 199.74,147.12 199.82,154.35 199.89,173.32 199.97,155.94 200.04,154.87 200.12,151.79 200.19,169.58 200.26,163.7 200.34,156.91 200.41,152.09 200.49,157.09 200.56,154.7 200.64,155.84 200.71,154.39 200.79,150.28 200.86,160.08 200.93,140.61 201.01,147.58 201.08,146.44 201.16,156.83 201.23,160.88 201.31,155.35 201.38,141.47 201.45,161.36 201.53,148.39 201.6,144.97 201.68,156.39 201.75,170.11 201.83,153.98 201.9,146.17 201.97,155.26 202.05,160.45 202.12,155.72 202.2,161.95 202.27,158.7 202.35,200.4 202.42,145.38 202.5,153.04 202.57,145.79 202.64,157.92 202.72,152.28 202.79,140.9 202.87,144.47 202.94,161.47 203.02,151.34 203.09,164.01 203.16,150.06 203.24,159.83 203.31,150.95 203.39,158.57 203.46,169.14 203.54,155.49 203.61,164.01 203.69,152.86 203.76,155.02 203.83,167.13 203.91,167.02 203.98,162.88 204.06,155.54 204.13,153.26 204.21,154.85 204.28,149.79 204.35,164.75 204.43,154.54 204.5,150.27 204.58,155.95 204.65,172.41 204.73,151.12 204.8,147.62 204.87,153.31 204.95,171.83 205.02,145.67 205.1,161.23 205.17,147.04 205.25,156.81 205.32,149.93 205.4,150.77 205.47,149.99 205.54,149.56 205.62,151.23 205.69,167.15 205.77,161.51 205.84,150.81 205.92,155.25 205.99,149.33 206.06,156.38 206.14,140.99 206.21,147.66 206.29,151.88 206.36,161.42 206.44,146.91 206.51,149.52 206.59,147.64 206.66,156.24 206.73,144.28 206.81,166.97 206.88,155.07 206.96,145.5 207.03,149.92 207.11,139.91 207.18,149.02 207.25,161.78 207.33,161.07 207.4,164.78 207.48,156.03 207.55,144.17 207.63,187.18 207.7,163.93 207.77,156.4 207.85,159.05 207.92,139.82 208,147.56 208.07,145.91 208.15,165.74 208.22,144.3 208.3,150.7 208.37,149.74 208.44,150.73 208.52,161.31 208.59,153.27 208.67,145.48 208.74,184.96 208.82,144.17 208.89,146.42 208.96,160.16 209.04,148.6 209.11,150.06 209.19,149.42 209.26,168.31 209.34,159.44 209.41,155.63 209.49,147.11 209.56,152.05 209.63,158.24 209.71,145.19 209.78,150.97 209.86,142.32 209.93,165.87 210.01,154.96 210.08,151.38 210.15,155.78 210.23,140.88 210.3,155.55 210.38,145.39 210.45,143.56 210.53,162.65 210.6,167.07 210.67,145.37 210.75,149.19 210.82,165.04 210.9,148.51 210.97,169.53 211.05,156.22 211.12,151.7 211.2,154.19 211.27,156.63 211.34,146.34 211.42,144.71 211.49,150.93 211.57,148.93 211.64,141.84 211.72,157.59 211.79,149.29 211.86,156.08 211.94,154.36 212.01,164.24 212.09,173.05 212.16,150.71 212.24,156.68 212.31,172.46 212.39,144.36 212.46,153.95 212.53,153.1 212.61,178.49 212.68,154.06 212.76,143.52 212.83,156.73 212.91,163.87 212.98,142.92 213.05,156.92 213.13,159.31 213.2,150.29 213.28,140.81 213.35,169.52 213.43,161.46 213.5,153.4 213.57,154.14 213.65,163.03 213.72,200.4 213.8,150.78 213.87,162.94 213.95,145.74 214.02,152.57 214.1,145.5 214.17,158.7 214.24,161.05 214.32,156.43 214.39,152.59 214.47,163.45 214.54,142.65 214.62,146.9 214.69,155.64 214.76,175.28 214.84,146.09 214.91,148.02 214.99,166.34 215.06,148.47 215.14,148.88 215.21,155.04 215.29,150.16 215.36,151.57 215.43,157.15 215.51,166.78 215.58,152.65 215.66,153.38 215.73,149.36 215.81,182.03 215.88,173.13 215.95,160.41 216.03,153.74 216.1,162.21 216.18,172 216.25,150.55 216.33,163.42 216.4,150.53 216.47,160.92 216.55,154.33 216.62,152.32 216.7,158.99 216.77,158.06 216.85,151.06 216.92,155 217,152.49 217.07,164.87 217.14,144.62 217.22,154.17 217.29,150.59 217.37,169.87 217.44,146.5 217.52,150.13 217.59,159.94 217.66,153.32 217.74,145.37 217.81,152.5 217.89,145.57 217.96,148.6 218.04,169.22 218.11,163.22 218.19,156.88 218.26,154.47 218.33,155.56 218.41,155.92 218.48,162.43 218.56,143.16 218.63,145.87 218.71,155.58 218.78,156.86 218.85,146.16 218.93,160.65 219,149.85 219.08,142.76 219.15,147.03 219.23,147.87 219.3,147.1 219.37,145.72 219.45,154.52 219.52,138.71 219.6,141.44 219.67,155.61 219.75,145.89 219.82,158.45 219.9,172.76 219.97,164.5 220.04,165.1 220.12,145.59 220.19,142.55 220.27,148.16 220.34,148.61 220.42,149.19 220.49,177.89 220.56,146.27 220.64,156 220.71,165.11 220.79,154.98 220.86,156.75 220.94,153.88 221.01,165.36 221.09,145.13 221.16,155.99 221.23,154.88 221.31,140.66 221.38,162.59 221.46,168.54 221.53,158.59 221.61,159.98 221.68,157.67 221.75,143.03 221.83,155.07 221.9,159.34 221.98,144.46 222.05,154.33 222.13,155.49 222.2,168.36 222.27,149.77 222.35,167.93 222.42,157.7 222.5,149.05 222.57,158.29 222.65,144.29 222.72,149.2 222.8,157.22 222.87,168.36 222.94,174.1 223.02,149.88 223.09,158.52 223.17,158.7 223.24,159.05 223.32,160.62 223.39,149.71 223.46,142.19 223.54,149.43 223.61,159.15 223.69,151.06 223.76,148.19 223.84,175.88 223.91,148.19 223.98,141.06 224.06,154.28 224.13,174.72 224.21,170.5 224.28,158.58 224.36,161.54 224.43,150.36 224.51,150.12 224.58,145.13 224.65,157.66 224.73,153.79 224.8,149.62 224.88,183.86 224.95,154.12 225.03,162.4 225.1,169.35 225.17,151.49 225.25,140.51 225.32,144.09 225.4,155.7 225.47,153.38 225.55,149.12 225.62,157.55 225.7,140.57 225.77,152.44 225.84,150.28 225.92,151.04 225.99,153.71 226.07,160.48 226.14,195.05 226.22,147.74 226.29,158.65 226.36,158.53 226.44,150.86 226.51,144.64 226.59,148.59 226.66,159.41 226.74,145.44 226.81,145.55 226.88,170.22 226.96,165.49 227.03,160.75 227.11,155.76 227.18,147.04 227.26,151.33 227.33,180.79 227.41,150.79 227.48,155.82 227.55,146.17 227.63,154.52 227.7,153.35 227.78,147.87 227.85,163.79 227.93,159.42 228,139.03 228.07,141.15 228.15,148.46 228.22,160.38 228.3,161.23 228.37,158.45 228.45,151.86 228.52,151.87 228.6,153.87 228.67,146.28 228.74,156.58 228.82,146.76 228.89,153.69 228.97,158.18 229.04,150.89 229.12,142.25 229.19,168.72 229.26,175.84 229.34,160.84 229.41,147.2 229.49,150.92 229.56,148.46 229.64,151.55 229.71,147.59 229.78,144.8 229.86,157.58 229.93,149.91 230.01,150.61 230.08,165.02 230.16,167.79 230.23,148.68 230.31,150.41 230.38,166.98 230.45,148.89 230.53,147.53 230.6,153.61 230.68,138.2 230.75,137.26 230.83,161.09 230.9,154.94 230.97,157.61 231.05,155.16 231.12,162.19 231.2,152.13 231.27,167.66 231.35,154.15 231.42,169.58 231.5,159.71 231.57,150.74 231.64,152.32 231.72,152.9 231.79,154.39 231.87,154.89 231.94,144.22 232.02,153.19 232.09,142.75 232.16,174.83 232.24,142.3 232.31,160.19 232.39,155.41 232.46,162.96 232.54,151.79 232.61,145.89 232.68,152.23 232.76,155.47 232.83,158.67 232.91,158.68 232.98,162.01 233.06,153.13 233.13,152.17 233.21,147.04 233.28,193.3 233.35,153.77 233.43,153.6 233.5,145.63 233.58,152.17 233.65,163.63 233.73,156.44 233.8,168.83 233.87,152.34 233.95,155.73 234.02,178.33 234.1,153.5 234.17,141.23 234.25,151.72 234.32,152.41 234.4,142.63 234.47,160.97 234.54,162.33 234.62,145.97 234.69,154.56 234.77,143.1 234.84,154.6 234.92,156.17 234.99,153.08 235.06,160.26 235.14,163.01 235.21,154.94 235.29,146.77 235.36,149.32 235.44,169.61 235.51,159.6 235.58,152.88 235.66,187.64 235.73,157.15 235.81,145.02 235.88,160.39 235.96,153.39 236.03,181.47 236.11,158.48 236.18,158.6 236.25,147.71 236.33,148.29 236.4,146.17 236.48,154.62 236.55,175.52 236.63,150.67 236.7,139.28 236.77,159.46 236.85,164.96 236.92,152.3 237,142.92 237.07,146.54 237.15,158.97 237.22,169.6 237.3,146.62 237.37,171.93 237.44,159.85 237.52,146 237.59,154.69 237.67,171.04 237.74,142.51 237.82,157.31 237.89,148.12 237.96,160.04 238.04,148.87 238.11,172.27 238.19,171.43 238.26,145.52 238.34,154.37 238.41,159.73 238.48,153.32 238.56,158.71 238.63,140.49 238.71,153.93 238.78,144.16 238.86,147.49 238.93,166.57 239.01,142 239.08,161.12 239.15,162.33 239.23,156.75 239.3,137.78 239.38,144.78 239.45,160.82 239.53,174.43 239.6,160.67 239.67,164.01 239.75,187.17 239.82,156.02 239.9,161.91 239.97,142.65 240.05,152.72 240.12,158.96 240.2,143.04 240.27,163.29 240.34,153.08 240.42,165.63 240.49,168.36 240.57,143.55 240.64,158.72 240.72,157.64 240.79,155.68 240.86,153.65 240.94,144.16 241.01,153.7 241.09,143.4 241.16,149.19 241.24,170.11 241.31,151.01 241.38,145.6 241.46,160.55 241.53,149.19 241.61,146.17 241.68,191.02 241.76,159.89 241.83,157.79 241.91,151.72 241.98,147.6 242.05,162.99 242.13,151.2 242.2,162.01 242.28,152.86 242.35,156.24 242.43,143.78 242.5,151.74 242.57,167.57 242.65,150.57 242.72,154.09 242.8,153 242.87,148.48 242.95,153.7 243.02,158.07 243.1,149.32 243.17,150.34 243.24,149.47 243.32,151.35 243.39,157.05 243.47,160.09 243.54,146.46 243.62,159.14 243.69,152.72 243.76,144.9 243.84,158.95 243.91,156.11 243.99,164.66 244.06,156.43 244.14,155.26 244.21,177.41 244.28,165.74 244.36,164.11 244.43,148.21 244.51,142.49 244.58,153.06 244.66,155.41 244.73,162.21 244.81,150.99 244.88,153.81 244.95,163.13 245.03,158.57 245.1,140 245.18,154.04 245.25,146.08 245.33,148.97 245.4,151.37 245.47,161.62 245.55,147.34 245.62,167.84 245.7,144.02 245.77,152.38 245.85,161.42 245.92,151.28 245.99,162.58 246.07,160.56 246.14,153.63 246.22,147.78 246.29,151.16 246.37,155.41 246.44,143.38 246.52,157.46 246.59,144.66 246.66,151.23 246.74,147.01 246.81,157.86 246.89,145.04 246.96,147.06 247.04,166.52 247.11,155.17 247.18,178.64 247.26,158.99 247.33,168.91 247.41,159.43 247.48,170.87 247.56,146.32 247.63,148.09 247.71,158.15 247.78,156.21 247.85,176.78 247.93,157.32 248,163.96 248.08,151 248.15,156.57 248.23,144.28 248.3,180.27 248.37,148.3 248.45,146.65 248.52,152.42 248.6,151.64 248.67,162 248.75,156.98 248.82,159.84 248.89,141.53 248.97,159.44 249.04,161.26 249.12,156.69 249.19,158.84 249.27,145.23 249.34,172.99 249.42,164.85 249.49,157.44 249.56,172.18 249.64,146.79 249.71,141.13 249.79,149.69 249.86,153.38 249.94,179.82 250.01,166.54 250.08,148.56 250.16,148.3 250.23,155.54 250.31,180.38 250.38,157.07 250.46,148.61 250.53,165.74 250.61,151.29 250.68,143.52 250.75,155.37 250.83,156.88 250.9,153.45 250.98,154.79 251.05,158.8 251.13,149.29 251.2,144.76 251.27,141.98 251.35,147.5 251.42,148.11 251.5,146.28 251.57,149.77 251.65,158.36 251.72,161.97 251.79,149.02 251.87,151.73 251.94,154.42 252.02,152.94 252.09,146.88 252.17,158.84 252.24,146.86 252.32,170.47 252.39,149.47 252.46,151.24 252.54,157.41 252.61,145.36 252.69,146.63 252.76,150.68 252.84,167.27 252.91,155.71 252.98,136.71 253.06,151.35 253.13,174.44 253.21,150.13 253.28,155.78 253.36,143.2 253.43,143.78 253.51,158.13 253.58,159.33 253.65,156.89 253.73,146.09 253.8,141.51 253.88,156.28 253.95,153.76 254.03,163.77 254.1,152.71 254.17,151.33 254.25,150.33 254.32,159.14 254.4,157.68 254.47,159.6 254.55,157.69 254.62,163.64 254.69,139.83 254.77,153.34 254.84,156.92 254.92,158.57 254.99,150.37 255.07,153.64 255.14,148.75 255.22,144.97 255.29,163.01 255.36,154.85 255.44,156.42 255.51,144.08 255.59,157.48 255.66,189.42 255.74,152.42 255.81,151.14 255.88,164.41 255.96,146.67 256.03,149.98 256.11,151.03 256.18,162.49 256.26,149.21 256.33,152.86 256.41,154.51 256.48,161.27 256.55,147.12 256.63,157.32 256.7,139.11 256.78,165.88 256.85,150.5 256.93,162.53 257,149.17" fill="none" stroke="#000" stroke-width="0.9" stroke-linejoin="miter"/>
<line x1="41.47" y1="62" x2="41.47" y2="145.77" stroke="#000" stroke-width="1.1"/>
<line x1="48.94" y1="102.07" x2="48.94" y2="149.41" stroke="#000" stroke-width="1.1"/>
<line x1="56.41" y1="100.79" x2="56.41" y2="149.41" stroke="#000" stroke-width="1.1"/>
<line x1="63.88" y1="96.97" x2="63.88" y2="149.41" stroke="#000" stroke-width="1.1"/>
<line x1="71.35" y1="103.16" x2="71.35" y2="149.41" stroke="#000" stroke-width="1.1"/>
<line x1="78.82" y1="102.43" x2="78.82" y2="149.41" stroke="#000" stroke-width="1.1"/>
<line x1="86.29" y1="111.17" x2="86.29" y2="149.41" stroke="#000" stroke-width="1.1"/>
<line x1="93.77" y1="115.72" x2="93.77" y2="149.41" stroke="#000" stroke-width="1.1"/>
<line x1="101.24" y1="125.74" x2="101.24" y2="149.41" stroke="#000" stroke-width="1.1"/>
<line x1="108.71" y1="101.16" x2="108.71" y2="149.41" stroke="#000" stroke-width="1.1"/>
<line x1="116.18" y1="120.82" x2="116.18" y2="149.41" stroke="#000" stroke-width="1.1"/>
<line x1="123.65" y1="133.02" x2="123.65" y2="149.41" stroke="#000" stroke-width="1.1"/>
<line x1="198.36" y1="130.29" x2="198.36" y2="149.41" stroke="#000" stroke-width="1.1"/>
<line x1="240.94" y1="131.57" x2="240.94" y2="149.41" stroke="#000" stroke-width="1.1"/>
<line x1="34" y1="256.5" x2="257" y2="256.5" stroke="#333" stroke-width="1"/>
<line x1="257" y1="256.5" x2="257" y2="438.4" stroke="#555" stroke-width="1"/>
<line x1="30" y1="438.4" x2="257" y2="438.4" stroke="#222" stroke-width="1"/>
<line x1="34" y1="256.5" x2="34" y2="438.4" stroke="#666" stroke-width="1.6"/>
<line x1="30.5" y1="438.4" x2="34" y2="438.4" stroke="#222" stroke-width="1"/>
<line x1="32" y1="429.3" x2="34" y2="429.3" stroke="#333" stroke-width="1"/>
<line x1="30.5" y1="420.21" x2="34" y2="420.21" stroke="#222" stroke-width="1"/>
<line x1="32" y1="411.12" x2="34" y2="411.12" stroke="#333" stroke-width="1"/>
<line x1="30.5" y1="402.02" x2="34" y2="402.02" stroke="#222" stroke-width="1"/>
<line x1="32" y1="392.92" x2="34" y2="392.92" stroke="#333" stroke-width="1"/>
<line x1="30.5" y1="383.83" x2="34" y2="383.83" stroke="#222" stroke-width="1"/>
<line x1="32" y1="374.74" x2="34" y2="374.74" stroke="#333" stroke-width="1"/>
<line x1="30.5" y1="365.64" x2="34" y2="365.64" stroke="#222" stroke-width="1"/>
<line x1="32" y1="356.54" x2="34" y2="356.54" stroke="#333" stroke-width="1"/>
<line x1="30.5" y1="347.45" x2="34" y2="347.45" stroke="#222" stroke-width="1"/>
<line x1="32" y1="338.35" x2="34" y2="338.35" stroke="#333" stroke-width="1"/>
<line x1="30.5" y1="329.26" x2="34" y2="329.26" stroke="#222" stroke-width="1"/>
<line x1="32" y1="320.16" x2="34" y2="320.16" stroke="#333" stroke-width="1"/>
<line x1="30.5" y1="311.07" x2="34" y2="311.07" stroke="#222" stroke-width="1"/>
<line x1="32" y1="301.98" x2="34" y2="301.98" stroke="#333" stroke-width="1"/>
<line x1="30.5" y1="292.88" x2="34" y2="292.88" stroke="#222" stroke-width="1"/>
<line x1="32" y1="283.78" x2="34" y2="283.78" stroke="#333" stroke-width="1"/>
<line x1="30.5" y1="274.69" x2="34" y2="274.69" stroke="#222" stroke-width="1"/>
<line x1="32" y1="265.6" x2="34" y2="265.6" stroke="#333" stroke-width="1"/>
<line x1="30.5" y1="256.5" x2="34" y2="256.5" stroke="#222" stroke-width="1"/>
<text x="29.2" y="258.5" font-size="7.2" text-anchor="end" textLength="3.4" lengthAdjust="spacingAndGlyphs">0</text>
<text x="29.2" y="276.69" font-size="7.2" text-anchor="end" textLength="9.4" lengthAdjust="spacingAndGlyphs">-10</text>
<text x="29.2" y="294.88" font-size="7.2" text-anchor="end" textLength="9.4" lengthAdjust="spacingAndGlyphs">-20</text>
<text x="29.2" y="313.07" font-size="7.2" text-anchor="end" textLength="9.4" lengthAdjust="spacingAndGlyphs">-30</text>
<text x="29.2" y="331.26" font-size="7.2" text-anchor="end" textLength="9.4" lengthAdjust="spacingAndGlyphs">-40</text>
<text x="29.2" y="349.45" font-size="7.2" text-anchor="end" textLength="9.4" lengthAdjust="spacingAndGlyphs">-50</text>
<text x="29.2" y="367.64" font-size="7.2" text-anchor="end" textLength="9.4" lengthAdjust="spacingAndGlyphs">-60</text>
<text x="29.2" y="385.83" font-size="7.2" text-anchor="end" textLength="9.4" lengthAdjust="spacingAndGlyphs">-70</text>
<text x="29.2" y="404.02" font-size="7.2" text-anchor="end" textLength="9.4" lengthAdjust="spacingAndGlyphs">-80</text>
<text x="29.2" y="422.21" font-size="7.2" text-anchor="end" textLength="9.4" lengthAdjust="spacingAndGlyphs">-90</text>
<text x="29.2" y="440.4" font-size="7.2" text-anchor="end" textLength="13.2" lengthAdjust="spacingAndGlyphs">-100</text>
<line x1="34" y1="438.4" x2="34" y2="441.9" stroke="#222" stroke-width="1"/>
<line x1="45.21" y1="438.4" x2="45.21" y2="440.4" stroke="#333" stroke-width="1"/>
<line x1="56.41" y1="438.4" x2="56.41" y2="441.9" stroke="#222" stroke-width="1"/>
<line x1="67.62" y1="438.4" x2="67.62" y2="440.4" stroke="#333" stroke-width="1"/>
<line x1="78.82" y1="438.4" x2="78.82" y2="441.9" stroke="#222" stroke-width="1"/>
<line x1="90.03" y1="438.4" x2="90.03" y2="440.4" stroke="#333" stroke-width="1"/>
<line x1="101.24" y1="438.4" x2="101.24" y2="441.9" stroke="#222" stroke-width="1"/>
<line x1="112.44" y1="438.4" x2="112.44" y2="440.4" stroke="#333" stroke-width="1"/>
<line x1="123.65" y1="438.4" x2="123.65" y2="441.9" stroke="#222" stroke-width="1"/>
<line x1="134.85" y1="438.4" x2="134.85" y2="440.4" stroke="#333" stroke-width="1"/>
<line x1="146.06" y1="438.4" x2="146.06" y2="441.9" stroke="#222" stroke-width="1"/>
<line x1="157.27" y1="438.4" x2="157.27" y2="440.4" stroke="#333" stroke-width="1"/>
<line x1="168.47" y1="438.4" x2="168.47" y2="441.9" stroke="#222" stroke-width="1"/>
<line x1="179.68" y1="438.4" x2="179.68" y2="440.4" stroke="#333" stroke-width="1"/>
<line x1="190.88" y1="438.4" x2="190.88" y2="441.9" stroke="#222" stroke-width="1"/>
<line x1="202.09" y1="438.4" x2="202.09" y2="440.4" stroke="#333" stroke-width="1"/>
<line x1="213.3" y1="438.4" x2="213.3" y2="441.9" stroke="#222" stroke-width="1"/>
<line x1="224.5" y1="438.4" x2="224.5" y2="440.4" stroke="#333" stroke-width="1"/>
<line x1="235.71" y1="438.4" x2="235.71" y2="441.9" stroke="#222" stroke-width="1"/>
<line x1="246.91" y1="438.4" x2="246.91" y2="440.4" stroke="#333" stroke-width="1"/>
<text x="34" y="450.2" font-size="7.2" text-anchor="middle" textLength="9" lengthAdjust="spacingAndGlyphs">0,0</text>
<text x="56.41" y="450.2" font-size="7.2" text-anchor="middle" textLength="19.2" lengthAdjust="spacingAndGlyphs">300,0k</text>
<text x="78.82" y="450.2" font-size="7.2" text-anchor="middle" textLength="19.2" lengthAdjust="spacingAndGlyphs">600,0k</text>
<text x="101.24" y="450.2" font-size="7.2" text-anchor="middle" textLength="19.2" lengthAdjust="spacingAndGlyphs">900,0k</text>
<text x="123.65" y="450.2" font-size="7.2" text-anchor="middle" textLength="14" lengthAdjust="spacingAndGlyphs">1,2M</text>
<text x="146.06" y="450.2" font-size="7.2" text-anchor="middle" textLength="14" lengthAdjust="spacingAndGlyphs">1,5M</text>
<text x="168.47" y="450.2" font-size="7.2" text-anchor="middle" textLength="14" lengthAdjust="spacingAndGlyphs">1,8M</text>
<text x="190.88" y="450.2" font-size="7.2" text-anchor="middle" textLength="14" lengthAdjust="spacingAndGlyphs">2,1M</text>
<text x="213.3" y="450.2" font-size="7.2" text-anchor="middle" textLength="14" lengthAdjust="spacingAndGlyphs">2,4M</text>
<text x="235.71" y="450.2" font-size="7.2" text-anchor="middle" textLength="14" lengthAdjust="spacingAndGlyphs">2,7M</text>
<text x="146" y="464.6" font-size="8.7" text-anchor="middle" textLength="55" lengthAdjust="spacingAndGlyphs">Frequency [Hz]</text>
<text x="10.6" y="353.7" font-size="8.7" text-anchor="middle" textLength="58.5" lengthAdjust="spacingAndGlyphs" transform="rotate(-90 10.6 353.7)">Magnitude [dB]</text>
<text x="0" y="245.1" font-size="17.8" font-weight="bold" textLength="20.5" lengthAdjust="spacingAndGlyphs" style="stroke-width:0.1px">(c)</text>
<polyline points="34,394.99 34.07,372.33 34.15,366.44 34.22,364.34 34.3,360.34 34.37,359.74 34.45,372.38 34.52,375.06 34.59,367.65 34.67,366.91 34.74,358.1 34.82,370.69 34.89,363.91 34.97,362.97 35.04,369.7 35.12,355.76 35.19,360.07 35.26,356 35.34,383.24 35.41,378.21 35.49,382.43 35.56,368.53 35.64,360.3 35.71,361.93 35.78,367.4 35.86,364.87 35.93,366.07 36.01,364.93 36.08,370.63 36.16,371.49 36.23,377.76 36.31,381.65 36.38,364.12 36.45,368.09 36.53,361.77 36.6,369.51 36.68,374.37 36.75,366.67 36.83,357.27 36.9,367.67 36.97,367.06 37.05,376.43 37.12,371.64 37.2,362.2 37.27,378.93 37.35,383.99 37.42,366.41 37.49,390.51 37.57,377.96 37.64,386.57 37.72,369.88 37.79,370.73 37.87,369.21 37.94,360.62 38.02,375.4 38.09,364.04 38.16,376.54 38.24,365.29 38.31,378.36 38.39,374.8 38.46,377.2 38.54,407.33 38.61,371.01 38.68,373.05 38.76,392.58 38.83,366.34 38.91,375.94 38.98,361 39.06,367.57 39.13,382.39 39.21,373.29 39.28,368.3 39.35,356.81 39.43,363.19 39.5,373.99 39.58,372.47 39.65,363.43 39.73,371.17 39.8,363.21 39.87,389.61 39.95,386.16 40.02,385.23 40.1,368.01 40.17,362.57 40.25,401 40.32,376.65 40.39,402.41 40.47,374.63 40.54,388.01 40.62,383.33 40.69,362.79 40.77,374.67 40.84,378.32 40.92,391.03 40.99,370.47 41.06,382.44 41.14,374.9 41.21,409.35 41.29,372.96 41.36,373.48 41.44,371.95 41.51,368.54 41.58,363.72 41.66,375.82 41.73,380.81 41.81,367.91 41.88,402.17 41.96,388.35 42.03,423.07 42.11,359.27 42.18,383.8 42.25,378.35 42.33,370.06 42.4,371.98 42.48,372.69 42.55,370.34 42.63,364.85 42.7,399.24 42.77,370.56 42.85,382.77 42.92,383.79 43,379.22 43.07,370.91 43.15,384.38 43.22,383.47 43.29,374.05 43.37,370.22 43.44,371.19 43.52,372.25 43.59,373.35 43.67,361.73 43.74,381.57 43.82,368.64 43.89,391.01 43.96,368.09 44.04,373.65 44.11,371.38 44.19,407.86 44.26,374.02 44.34,380.9 44.41,396.12 44.48,411.39 44.56,373.67 44.63,378.14 44.71,380.28 44.78,379.26 44.86,378.4 44.93,372 45.01,379.34 45.08,370.66 45.15,368.31 45.23,384.52 45.3,370.87 45.38,374.51 45.45,374 45.53,389.9 45.6,370.03 45.67,369 45.75,384.25 45.82,376.02 45.9,381.85 45.97,386.53 46.05,394.31 46.12,376.86 46.19,365.62 46.27,369.45 46.34,382.33 46.42,370.56 46.49,367.81 46.57,387.8 46.64,386.85 46.72,377.02 46.79,391.56 46.86,390.69 46.94,373.3 47.01,390.16 47.09,375.68 47.16,365.85 47.24,373.52 47.31,376.06 47.38,379.73 47.46,382.71 47.53,382.3 47.61,395.02 47.68,392.99 47.76,379.78 47.83,374.3 47.9,423.29 47.98,368.27 48.05,370.13 48.13,382.09 48.2,380.28 48.28,395.29 48.35,383.94 48.43,393.33 48.5,375.17 48.57,400.08 48.65,369.12 48.72,377.76 48.8,373.53 48.87,373.38 48.95,391.5 49.02,382.17 49.09,382.02 49.17,390.62 49.24,387.09 49.32,385.59 49.39,371.96 49.47,372.68 49.54,387.27 49.62,378.77 49.69,378.38 49.76,374.63 49.84,371.26 49.91,429.54 49.99,430.47 50.06,380.32 50.14,377.74 50.21,383.38 50.28,402.19 50.36,382.22 50.43,380.93 50.51,367.92 50.58,388.92 50.66,385.7 50.73,378.39 50.8,404.91 50.88,438.4 50.95,388.52 51.03,387 51.1,395.94 51.18,388.77 51.25,390.97 51.33,371.58 51.4,384.77 51.47,393.02 51.55,372.94 51.62,374.81 51.7,369.01 51.77,373.6 51.85,378.4 51.92,381.56 51.99,383.61 52.07,379.15 52.14,378.5 52.22,391.04 52.29,396.07 52.37,392.69 52.44,397.38 52.52,388.69 52.59,380.55 52.66,376.46 52.74,390.04 52.81,390.12 52.89,385.87 52.96,372.44 53.04,396.47 53.11,376.11 53.18,389.46 53.26,376.21 53.33,378.96 53.41,390.17 53.48,388.85 53.56,402.38 53.63,373.76 53.7,379.24 53.78,399.41 53.85,386.85 53.93,404.5 54,383.71 54.08,376.54 54.15,372.35 54.23,382.94 54.3,372.99 54.37,398.41 54.45,392.41 54.52,399.01 54.6,388.88 54.67,389.83 54.75,380.77 54.82,378.58 54.89,375.98 54.97,390.54 55.04,380.29 55.12,380.87 55.19,391.7 55.27,382.21 55.34,376.2 55.42,396.25 55.49,385.04 55.56,381.62 55.64,384.9 55.71,386.81 55.79,385.56 55.86,384.38 55.94,389.13 56.01,369.59 56.08,386.23 56.16,391.05 56.23,376.33 56.31,378.02 56.38,383.23 56.46,379.99 56.53,373.6 56.6,405.08 56.68,386.8 56.75,374.59 56.83,389.27 56.9,382.92 56.98,387.65 57.05,380.48 57.13,379.88 57.2,387.06 57.27,383.81 57.35,379.19 57.42,390.89 57.5,372.18 57.57,370.71 57.65,369.76 57.72,388.68 57.79,379.89 57.87,391.07 57.94,400.92 58.02,382.61 58.09,372.53 58.17,380.69 58.24,377.09 58.32,373.42 58.39,377.73 58.46,379.05 58.54,378.5 58.61,404.62 58.69,371.55 58.76,382.99 58.84,395.22 58.91,382.24 58.98,399.96 59.06,371.84 59.13,389.7 59.21,393.62 59.28,394.18 59.36,366.51 59.43,380.75 59.5,390.37 59.58,381.1 59.65,382.56 59.73,384.35 59.8,388.32 59.88,374.23 59.95,388.11 60.03,382.61 60.1,379.55 60.17,371.89 60.25,390.68 60.32,385.85 60.4,373.78 60.47,379.23 60.55,392.21 60.62,374.87 60.69,374.48 60.77,375.98 60.84,399.43 60.92,375.33 60.99,372.74 61.07,395.22 61.14,381.29 61.22,378.82 61.29,386.2 61.36,387.57 61.44,379.26 61.51,375.38 61.59,376.45 61.66,373.78 61.74,386.03 61.81,371.29 61.88,374.37 61.96,379.37 62.03,422.23 62.11,382.36 62.18,410.1 62.26,378.42 62.33,393.21 62.4,387 62.48,373.11 62.55,383.38 62.63,384.55 62.7,381.91 62.78,380.58 62.85,396.15 62.93,375.33 63,385.47 63.07,385.7 63.15,386.79 63.22,381.96 63.3,389.27 63.37,374.27 63.45,399.66 63.52,385.45 63.59,390.28 63.67,392.96 63.74,389.23 63.82,380.37 63.89,438.4 63.97,403.43 64.04,390.26 64.12,385.56 64.19,379.1 64.26,375.84 64.34,390.11 64.41,396.48 64.49,381.29 64.56,391.29 64.64,397.46 64.71,394.91 64.78,380.47 64.86,384.89 64.93,391.48 65.01,390.04 65.08,371.4 65.16,380.51 65.23,388.04 65.3,408.33 65.38,379.29 65.45,373.55 65.53,373.71 65.6,394.06 65.68,397.04 65.75,381.38 65.83,378.08 65.9,376.04 65.97,388.9 66.05,399.11 66.12,385.08 66.2,404.41 66.27,397.21 66.35,383.37 66.42,415.75 66.49,376.68 66.57,383.45 66.64,383.54 66.72,369.33 66.79,377.8 66.87,382.64 66.94,378.5 67.02,370.47 67.09,375.44 67.16,377.77 67.24,376.34 67.31,394.97 67.39,381.99 67.46,378.6 67.54,381.94 67.61,375.95 67.68,396.03 67.76,384.76 67.83,381.28 67.91,371.12 67.98,409.16 68.06,377.08 68.13,369.71 68.2,403.2 68.28,402.45 68.35,377.57 68.43,375.14 68.5,413.28 68.58,379.49 68.65,381.75 68.73,385.56 68.8,387.57 68.87,386.78 68.95,376.23 69.02,373.81 69.1,384.18 69.17,375.66 69.25,374.29 69.32,390.47 69.39,385.57 69.47,377.77 69.54,420.23 69.62,377.6 69.69,390.87 69.77,391.64 69.84,374.32 69.91,376.93 69.99,374.12 70.06,395.18 70.14,370.03 70.21,378.48 70.29,394.62 70.36,380.85 70.44,377.21 70.51,390.33 70.58,379.8 70.66,384.45 70.73,392.98 70.81,380.44 70.88,376.5 70.96,396.65 71.03,409.58 71.1,395.81 71.18,385.6 71.25,373.78 71.33,404.17 71.4,391.18 71.48,384.24 71.55,393.13 71.63,384.41 71.7,382.46 71.77,395.61 71.85,371.13 71.92,388.33 72,377.11 72.07,395.34 72.15,376.01 72.22,377.23 72.29,379.95 72.37,391.41 72.44,388.9 72.52,387.04 72.59,383.84 72.67,372.17 72.74,390.94 72.81,373.49 72.89,379.54 72.96,384.58 73.04,385.75 73.11,370.76 73.19,371.61 73.26,374.59 73.34,380.31 73.41,382.79 73.48,387.96 73.56,375.51 73.63,425.97 73.71,384.99 73.78,373.36 73.86,388.77 73.93,380.25 74,388.68 74.08,422.06 74.15,382.14 74.23,425.8 74.3,378.01 74.38,396.14 74.45,382.55 74.53,385.76 74.6,389.25 74.67,386.66 74.75,411.93 74.82,387.01 74.9,383.17 74.97,394.73 75.05,381.9 75.12,385.54 75.19,395.17 75.27,376.82 75.34,371.55 75.42,380.6 75.49,387.97 75.57,381.07 75.64,391.29 75.71,378.5 75.79,372.03 75.86,378.3 75.94,384.35 76.01,379.92 76.09,401.59 76.16,374.15 76.24,396.41 76.31,395.29 76.38,379.48 76.46,391.38 76.53,396.43 76.61,383.85 76.68,373.4 76.76,394.33 76.83,374.86 76.9,386.97 76.98,396.87 77.05,384.4 77.13,382.08 77.2,371.42 77.28,396.26 77.35,382.7 77.43,385.99 77.5,386.01 77.57,381.84 77.65,423.85 77.72,388.77 77.8,404.04 77.87,387.8 77.95,369.66 78.02,373.67 78.09,391.08 78.17,400.31 78.24,379.68 78.32,375.85 78.39,377.52 78.47,376.84 78.54,373.41 78.61,375.67 78.69,382.85 78.76,388.85 78.84,398.47 78.91,390.32 78.99,382.18 79.06,386.23 79.14,386.42 79.21,377.73 79.28,383.24 79.36,386.22 79.43,372.02 79.51,382.85 79.58,376.15 79.66,396.33 79.73,373.28 79.8,386.1 79.88,381.58 79.95,379.82 80.03,380.01 80.1,379.77 80.18,379.32 80.25,388.52 80.33,384.09 80.4,389.6 80.47,384.07 80.55,379.9 80.62,386.99 80.7,383.38 80.77,382.7 80.85,381.1 80.92,389.61 80.99,382.18 81.07,379.74 81.14,370.47 81.22,383.27 81.29,382.14 81.37,373.13 81.44,373.77 81.51,383.24 81.59,379.51 81.66,382.26 81.74,396.22 81.81,377.41 81.89,397.34 81.96,374.94 82.04,384.03 82.11,413.62 82.18,386.93 82.26,396.66 82.33,384.73 82.41,374.4 82.48,380.78 82.56,385.58 82.63,379.26 82.7,393.01 82.78,404.85 82.85,386.54 82.93,393.18 83,389.86 83.08,377.84 83.15,376.29 83.23,396.59 83.3,393.16 83.37,392.43 83.45,381.34 83.52,383.78 83.6,392.95 83.67,393.04 83.75,392.83 83.82,383.44 83.89,382.3 83.97,381.1 84.04,397.84 84.12,399.14 84.19,398.05 84.27,408.56 84.34,383.25 84.41,386.37 84.49,394.11 84.56,385.78 84.64,389.58 84.71,420.69 84.79,395.6 84.86,378.92 84.94,400.25 85.01,386.98 85.08,386.51 85.16,391.09 85.23,392.87 85.31,383.11 85.38,395.65 85.46,398.85 85.53,393.5 85.6,400.34 85.68,379.07 85.75,378.3 85.83,385.67 85.9,399.56 85.98,391.58 86.05,384.66 86.13,380.97 86.2,385.41 86.27,406.12 86.35,389.43 86.42,393.98 86.5,387.12 86.57,384.33 86.65,377.69 86.72,381.96 86.79,421.3 86.87,376.34 86.94,385.19 87.02,389.97 87.09,378.73 87.17,378.63 87.24,389.91 87.31,383.31 87.39,382.23 87.46,389.42 87.54,390.85 87.61,385.98 87.69,382 87.76,381.13 87.84,389.39 87.91,378.39 87.98,386.62 88.06,438.4 88.13,389.21 88.21,387.69 88.28,391.4 88.36,409.46 88.43,389.56 88.5,377.19 88.58,409.85 88.65,386.45 88.73,372.22 88.8,383.12 88.88,423.8 88.95,384.58 89.03,391.01 89.1,389.35 89.17,393.73 89.25,372.82 89.32,378.49 89.4,388.18 89.47,385.74 89.55,380.72 89.62,388.12 89.69,382.75 89.77,400.9 89.84,396.02 89.92,391.44 89.99,379.23 90.07,379.66 90.14,391.11 90.21,381.15 90.29,388.4 90.36,385.96 90.44,378.44 90.51,384.84 90.59,393.98 90.66,423.2 90.74,376.4 90.81,390.32 90.88,396.76 90.96,386.22 91.03,380.08 91.11,376.44 91.18,386.81 91.26,379.09 91.33,393.41 91.4,396.46 91.48,383.21 91.55,370.69 91.63,378.49 91.7,386.12 91.78,382.24 91.85,387.63 91.92,398.68 92,379.55 92.07,376.72 92.15,387.93 92.22,382.44 92.3,395.11 92.37,391.43 92.45,385.36 92.52,391.84 92.59,378.35 92.67,382.66 92.74,381.04 92.82,395.75 92.89,393.23 92.97,373.67 93.04,377.55 93.11,392.63 93.19,390.25 93.26,380.19 93.34,389.3 93.41,380.41 93.49,378.26 93.56,383.88 93.64,380.11 93.71,391.68 93.78,385.74 93.86,417.14 93.93,438.4 94.01,394.07 94.08,383.29 94.16,382.91 94.23,404.29 94.3,375.82 94.38,389.9 94.45,385.63 94.53,382.86 94.6,384.56 94.68,398.32 94.75,379.61 94.82,385.67 94.9,387.8 94.97,385.19 95.05,378.81 95.12,385.62 95.2,387.58 95.27,379.86 95.35,381.77 95.42,388.61 95.49,380.34 95.57,403.6 95.64,391.15 95.72,391.87 95.79,404.29 95.87,388.09 95.94,387.12 96.01,381.27 96.09,384.34 96.16,381.6 96.24,384.07 96.31,380.67 96.39,377.72 96.46,389.2 96.54,379.99 96.61,392.04 96.68,387.22 96.76,375.38 96.83,387.12 96.91,398.04 96.98,379.26 97.06,385.5 97.13,386.55 97.2,388.11 97.28,381.94 97.35,388.23 97.43,380.64 97.5,389.11 97.58,379.97 97.65,399.42 97.72,400.81 97.8,384.02 97.87,377.15 97.95,406.16 98.02,375.08 98.1,383.02 98.17,388.56 98.25,382.4 98.32,385.84 98.39,383.53 98.47,371.62 98.54,387.2 98.62,382.26 98.69,379.84 98.77,386 98.84,434.84 98.91,381.15 98.99,389.05 99.06,386.1 99.14,380.42 99.21,380.4 99.29,394.65 99.36,390.33 99.44,379.71 99.51,379.59 99.58,388.32 99.66,383.88 99.73,390.09 99.81,381.37 99.88,384.52 99.96,424.47 100.03,388.75 100.1,386.24 100.18,377.51 100.25,389.01 100.33,387.88 100.4,375.11 100.48,423.82 100.55,375.98 100.62,384.81 100.7,379.16 100.77,373.97 100.85,379.83 100.92,381.24 101,387.62 101.07,376.4 101.15,376.95 101.22,376.25 101.29,389.04 101.37,386.91 101.44,383.69 101.52,385.97 101.59,388.35 101.67,409.24 101.74,398.25 101.81,398.17 101.89,399.47 101.96,387.89 102.04,383.85 102.11,381.45 102.19,391.64 102.26,385.98 102.34,380.34 102.41,383.41 102.48,388.03 102.56,388.27 102.63,368.4 102.71,383.86 102.78,382.39 102.86,379.53 102.93,385.7 103,377.98 103.08,394.48 103.15,388.24 103.23,391.11 103.3,420.19 103.38,383.59 103.45,378.07 103.52,374.64 103.6,393.57 103.67,386.84 103.75,388.77 103.82,382.51 103.9,401.36 103.97,378.05 104.05,383.85 104.12,378.93 104.19,390.75 104.27,421.85 104.34,393.14 104.42,416.88 104.49,399.74 104.57,383.47 104.64,382.9 104.71,399.8 104.79,373.89 104.86,384.19 104.94,382.57 105.01,383.33 105.09,414.77 105.16,408.13 105.24,384.76 105.31,408.57 105.38,379.36 105.46,389.72 105.53,390.67 105.61,400.11 105.68,380.76 105.76,398.52 105.83,401.97 105.9,379.81 105.98,382.38 106.05,383.79 106.13,386.09 106.2,385.26 106.28,381.41 106.35,394.88 106.42,403.99 106.5,387.66 106.57,392.17 106.65,377.25 106.72,384.41 106.8,378.44 106.87,380.36 106.95,381.72 107.02,386.04 107.09,383.22 107.17,403.84 107.24,375.51 107.32,393.34 107.39,382.4 107.47,385.43 107.54,376.62 107.61,392.92 107.69,396.29 107.76,392.41 107.84,390.41 107.91,390.91 107.99,380.15 108.06,398.31 108.14,386.15 108.21,385.05 108.28,418.68 108.36,377.77 108.43,384.78 108.51,394.21 108.58,374.8 108.66,388.76 108.73,390.94 108.8,388.42 108.88,387.96 108.95,405.86 109.03,396.9 109.1,396.78 109.18,407.38 109.25,383.35 109.32,392.65 109.4,385.61 109.47,390.92 109.55,382.36 109.62,378.04 109.7,380.33 109.77,383.19 109.85,379.14 109.92,383.67 109.99,377.16 110.07,382.26 110.14,388.21 110.22,391.21 110.29,399.24 110.37,384.35 110.44,398.72 110.51,399.9 110.59,398.03 110.66,387.52 110.74,398.9 110.81,374.01 110.89,383.34 110.96,382.43 111.04,421.9 111.11,380.52 111.18,389.17 111.26,395.3 111.33,381.55 111.41,406.34 111.48,385.98 111.56,393.57 111.63,388.87 111.7,392.96 111.78,393.59 111.85,393.83 111.93,387.21 112,373.87 112.08,402.75 112.15,377.35 112.22,407.2 112.3,390.83 112.37,384.47 112.45,387.76 112.52,386.42 112.6,380.73 112.67,389 112.75,375.98 112.82,375.55 112.89,389.77 112.97,381.35 113.04,386.77 113.12,386.97 113.19,392.61 113.27,386.22 113.34,382.62 113.41,397.17 113.49,389.44 113.56,369.62 113.64,384.28 113.71,386.76 113.79,390.58 113.86,391.72 113.93,375.03 114.01,384.58 114.08,395.09 114.16,378.16 114.23,383.07 114.31,390.23 114.38,374.39 114.46,393.57 114.53,378.86 114.6,392.1 114.68,388.91 114.75,388.71 114.83,378.03 114.9,385.16 114.98,380.13 115.05,386.52 115.12,390.27 115.2,395.55 115.27,379.17 115.35,377.19 115.42,390.18 115.5,381.26 115.57,381.05 115.65,388.13 115.72,393.57 115.79,388.98 115.87,388.18 115.94,400.8 116.02,374.29 116.09,409.21 116.17,383.37 116.24,377.71 116.31,386.42 116.39,377.89 116.46,392.45 116.54,385.74 116.61,382.88 116.69,388.3 116.76,378.83 116.83,394.21 116.91,391.2 116.98,395.6 117.06,392.33 117.13,391.02 117.21,384.26 117.28,398.7 117.36,383.81 117.43,379.37 117.5,383.49 117.58,384.52 117.65,385.73 117.73,379.35 117.8,380.24 117.88,380.07 117.95,410.01 118.02,384.52 118.1,379.76 118.17,374.44 118.25,378.32 118.32,381.58 118.4,393 118.47,423.8 118.55,394.64 118.62,390.99 118.69,396.06 118.77,394.59 118.84,393.36 118.92,391.1 118.99,391.26 119.07,383.8 119.14,390.66 119.21,396.51 119.29,387.83 119.36,380.45 119.44,375.67 119.51,419.13 119.59,382.34 119.66,391.04 119.73,380.84 119.81,375.33 119.88,388.8 119.96,403.33 120.03,380.46 120.11,400.39 120.18,375.77 120.26,396.99 120.33,393.33 120.4,381.24 120.48,386.89 120.55,390.59 120.63,397.14 120.7,375.19 120.78,384.53 120.85,386.92 120.92,425.96 121,398.74 121.07,377.23 121.15,373.58 121.22,383.44 121.3,378.01 121.37,407.83 121.45,391.5 121.52,370.74 121.59,382.61 121.67,381.68 121.74,376.37 121.82,389.97 121.89,430.13 121.97,388.51 122.04,415.96 122.11,395.47 122.19,380.88 122.26,399.67 122.34,389.16 122.41,385.4 122.49,391.04 122.56,384.56 122.63,391.73 122.71,385.01 122.78,383.67 122.86,380.24 122.93,413.27 123.01,388.39 123.08,384.21 123.16,388.39 123.23,402.69 123.3,385.32 123.38,376.58 123.45,382.21 123.53,397.3 123.6,383.43 123.68,406.1 123.75,402.19 123.82,380.9 123.9,394.16 123.97,385.69 124.05,389.09 124.12,391.96 124.2,391.24 124.27,373.55 124.35,376.3 124.42,431.6 124.49,403.7 124.57,386.38 124.64,384.72 124.72,391.01 124.79,428.48 124.87,389.94 124.94,416.52 125.01,372.62 125.09,373.09 125.16,388.03 125.24,385 125.31,396.24 125.39,403.06 125.46,398.18 125.53,390.33 125.61,379.64 125.68,398.74 125.76,383.22 125.83,389.47 125.91,381.48 125.98,395.01 126.06,397.49 126.13,383.35 126.2,381.52 126.28,392.53 126.35,392.68 126.43,397.75 126.5,393.62 126.58,394.5 126.65,384.91 126.72,384.6 126.8,389.53 126.87,393.45 126.95,401.63 127.02,381.54 127.1,398.45 127.17,381.74 127.25,376.54 127.32,406.33 127.39,397.29 127.47,409.41 127.54,388.62 127.62,383.32 127.69,388.69 127.77,378 127.84,388.68 127.91,386.69 127.99,379.2 128.06,400.2 128.14,382.48 128.21,396.14 128.29,411.72 128.36,383.27 128.43,379.92 128.51,388.1 128.58,386.67 128.66,379.18 128.73,394.31 128.81,377.7 128.88,393.14 128.96,409.16 129.03,384.79 129.1,379.11 129.18,413.31 129.25,390.43 129.33,394.3 129.4,402.89 129.48,396.48 129.55,390.61 129.62,376.92 129.7,407.62 129.77,382.96 129.85,382.81 129.92,383.21 130,382.04 130.07,393.17 130.15,383.34 130.22,405.51 130.29,384.86 130.37,387.59 130.44,404.99 130.52,396.65 130.59,382.21 130.67,382.79 130.74,378.26 130.81,384.43 130.89,380.24 130.96,377.69 131.04,409.34 131.11,390.28 131.19,398.06 131.26,378.06 131.33,385.8 131.41,374.06 131.48,388.86 131.56,402.85 131.63,396.01 131.71,394.27 131.78,378.16 131.86,383.39 131.93,388.46 132,383.77 132.08,386.01 132.15,395.08 132.23,398.61 132.3,401.04 132.38,415.63 132.45,392.38 132.52,398.39 132.6,381.77 132.67,392.29 132.75,380.39 132.82,391.58 132.9,417.21 132.97,378.22 133.05,387.42 133.12,399.84 133.19,385.48 133.27,383.99 133.34,385.22 133.42,396.36 133.49,392.76 133.57,387.79 133.64,380.93 133.71,405.1 133.79,385.89 133.86,396.58 133.94,392.02 134.01,384.43 134.09,380.03 134.16,387.1 134.23,394.54 134.31,381.95 134.38,384.78 134.46,379.86 134.53,392.33 134.61,388.4 134.68,391.13 134.76,382.64 134.83,388.28 134.9,376.17 134.98,386.38 135.05,378.65 135.13,387.2 135.2,405.22 135.28,388.18 135.35,389.59 135.42,380.13 135.5,383.67 135.57,383.65 135.65,380.02 135.72,394.2 135.8,382.22 135.87,384.07 135.94,382.93 136.02,410.08 136.09,393.04 136.17,389.51 136.24,396.83 136.32,383.95 136.39,380.12 136.47,383.09 136.54,379.35 136.61,381.75 136.69,391.13 136.76,383.61 136.84,380.6 136.91,393.84 136.99,379.07 137.06,383.13 137.13,414.52 137.21,380.18 137.28,413.74 137.36,399.15 137.43,381.13 137.51,398.32 137.58,386.87 137.66,398.11 137.73,376.21 137.8,387.81 137.88,399.13 137.95,374.61 138.03,382.61 138.1,403.8 138.18,411.93 138.25,411.64 138.32,375.8 138.4,395.59 138.47,396.5 138.55,382.93 138.62,396.61 138.7,372.61 138.77,383.25 138.84,386.63 138.92,384.43 138.99,381.78 139.07,382.33 139.14,373.9 139.22,376.21 139.29,392.04 139.37,388.71 139.44,391.38 139.51,393.9 139.59,404.48 139.66,380.99 139.74,397.27 139.81,394.29 139.89,393.87 139.96,395.17 140.03,405.21 140.11,382.07 140.18,375.68 140.26,378.8 140.33,380.15 140.41,386.86 140.48,415.97 140.56,384.88 140.63,394.88 140.7,400.29 140.78,388.63 140.85,385.14 140.93,395.1 141,380.3 141.08,383.72 141.15,386.34 141.22,390.14 141.3,387.91 141.37,391.64 141.45,391.57 141.52,393.61 141.6,393.81 141.67,373.02 141.74,382.44 141.82,390.66 141.89,392.36 141.97,409.23 142.04,383.16 142.12,398.55 142.19,391.07 142.27,403.04 142.34,406.76 142.41,397.93 142.49,396.16 142.56,387.6 142.64,399.97 142.71,385.06 142.79,387.95 142.86,383.34 142.93,381.73 143.01,389.06 143.08,393.53 143.16,391.45 143.23,380.36 143.31,383.34 143.38,395.28 143.46,392.74 143.53,389.44 143.6,377.24 143.68,393.44 143.75,391.36 143.83,392.6 143.9,390.82 143.98,383.56 144.05,382.99 144.12,391.12 144.2,387.53 144.27,385.61 144.35,393.68 144.42,374.63 144.5,389.56 144.57,389.78 144.64,388.49 144.72,379.22 144.79,378.69 144.87,384.47 144.94,415.13 145.02,418.78 145.09,403.5 145.17,386.61 145.24,394.37 145.31,395.27 145.39,391.36 145.46,390.9 145.54,398.53 145.61,386.9 145.69,406.54 145.76,377.35 145.83,379.28 145.91,395.89 145.98,401.81 146.06,396.94 146.13,383.73 146.21,392.66 146.28,383.9 146.36,385.55 146.43,389.44 146.5,400.6 146.58,384.84 146.65,393.13 146.73,386.81 146.8,399.09 146.88,383.9 146.95,386.13 147.02,382.99 147.1,381.14 147.17,388.98 147.25,400.17 147.32,380.76 147.4,386.57 147.47,390.37 147.54,383.7 147.62,395.16 147.69,390.06 147.77,380.21 147.84,393.55 147.92,388.53 147.99,401.86 148.07,417.45 148.14,385.85 148.21,394.98 148.29,377.66 148.36,405.51 148.44,405.62 148.51,383.48 148.59,395.05 148.66,388.87 148.73,406.59 148.81,385.95 148.88,386.66 148.96,382.66 149.03,387.5 149.11,393.72 149.18,387.62 149.26,378.07 149.33,381.91 149.4,389.61 149.48,390.05 149.55,397.72 149.63,388.87 149.7,385.43 149.78,390.77 149.85,390.08 149.92,394.66 150,400.53 150.07,390.4 150.15,388.27 150.22,388.56 150.3,384.16 150.37,397.22 150.44,385.38 150.52,393.31 150.59,438.4 150.67,383.64 150.74,415.95 150.82,393.3 150.89,385.36 150.97,379.4 151.04,388 151.11,384.16 151.19,380.4 151.26,393.81 151.34,381.35 151.41,389.48 151.49,390.81 151.56,386.9 151.63,379.06 151.71,390.76 151.78,375.58 151.86,387.84 151.93,390.89 152.01,387.08 152.08,384.46 152.16,402.26 152.23,389.63 152.3,375.62 152.38,388.6 152.45,380.3 152.53,387.19 152.6,382.27 152.68,388.31 152.75,399.54 152.82,386.59 152.9,391.51 152.97,395.69 153.05,384.64 153.12,389.15 153.2,399.63 153.27,385.54 153.34,407.54 153.42,404.15 153.49,400.03 153.57,399.66 153.64,381.67 153.72,384.9 153.79,387.32 153.87,398.03 153.94,387 154.01,387.57 154.09,377.71 154.16,399.67 154.24,380.91 154.31,404.95 154.39,400.01 154.46,383.95 154.53,401.82 154.61,396.66 154.68,386.07 154.76,391.65 154.83,393.33 154.91,381.49 154.98,392.94 155.06,392.07 155.13,391.75 155.2,387.22 155.28,392.41 155.35,388.81 155.43,396.78 155.5,400.98 155.58,391.85 155.65,395.63 155.72,383.24 155.8,380.22 155.87,391.44 155.95,380.7 156.02,389.15 156.1,381.14 156.17,396.64 156.24,404.91 156.32,401.14 156.39,377.9 156.47,383.62 156.54,391.76 156.62,394.19 156.69,394.56 156.77,388.64 156.84,386.88 156.91,383.11 156.99,383.62 157.06,388.51 157.14,383.4 157.21,392.91 157.29,382.94 157.36,386.72 157.43,392.09 157.51,399.88 157.58,378.07 157.66,394.4 157.73,388.93 157.81,402.16 157.88,390.45 157.95,388.11 158.03,393.22 158.1,390.9 158.18,390.13 158.25,384.55 158.33,378.74 158.4,382.55 158.48,417.66 158.55,404.85 158.62,381.15 158.7,389.32 158.77,376.63 158.85,386.68 158.92,386.49 159,397.22 159.07,378.42 159.14,385.74 159.22,379.12 159.29,379.87 159.37,380.38 159.44,377.54 159.52,403.49 159.59,402.01 159.67,390.13 159.74,395.21 159.81,406.27 159.89,385.7 159.96,389.03 160.04,392.47 160.11,438.4 160.19,380.62 160.26,390.94 160.33,397.63 160.41,406.69 160.48,387.35 160.56,414.61 160.63,380.04 160.71,387.66 160.78,396.51 160.85,405.59 160.93,386.82 161,387.5 161.08,399.7 161.15,388.56 161.23,385.6 161.3,382.16 161.38,381.54 161.45,388.76 161.52,425.12 161.6,397.18 161.67,382.76 161.75,380.89 161.82,391.44 161.9,394.25 161.97,383.6 162.04,381.95 162.12,378.39 162.19,385.71 162.27,385.78 162.34,391.31 162.42,388.22 162.49,392.13 162.57,403.38 162.64,382.06 162.71,393.11 162.79,390.38 162.86,391.09 162.94,382 163.01,397.68 163.09,388.28 163.16,398.73 163.23,396.87 163.31,394.16 163.38,388.57 163.46,390.45 163.53,388.96 163.61,389.03 163.68,386.05 163.75,394.89 163.83,403.35 163.9,387.94 163.98,379.73 164.05,388.86 164.13,392.93 164.2,380.76 164.28,394.5 164.35,387.24 164.42,390.77 164.5,393.42 164.57,387.79 164.65,385.07 164.72,388.04 164.8,386.91 164.87,378.12 164.94,388.93 165.02,391.79 165.09,406.99 165.17,397.33 165.24,391.87 165.32,376.54 165.39,390.31 165.47,393.62 165.54,380.82 165.61,382.49 165.69,381.75 165.76,404.1 165.84,388.87 165.91,423.87 165.99,381.31 166.06,380.96 166.13,396.93 166.21,392.61 166.28,394.32 166.36,400.32 166.43,402.85 166.51,384.4 166.58,395.4 166.65,374.05 166.73,381.81 166.8,407.8 166.88,395.27 166.95,381.48 167.03,390.43 167.1,392.18 167.18,387.49 167.25,383.44 167.32,387.71 167.4,405.6 167.47,391.65 167.55,381.73 167.62,398.21 167.7,391.71 167.77,393.83 167.84,401.34 167.92,395.3 167.99,392.1 168.07,383.44 168.14,396.28 168.22,383.18 168.29,389.78 168.37,391.92 168.44,398.76 168.51,390.36 168.59,396.18 168.66,401.77 168.74,399.83 168.81,383.44 168.89,387.83 168.96,381.8 169.03,412.13 169.11,397.4 169.18,381.66 169.26,397.11 169.33,384.97 169.41,387.78 169.48,390.45 169.55,399.84 169.63,404.56 169.7,394.18 169.78,370.53 169.85,383.91 169.93,394.03 170,396.93 170.08,396.4 170.15,397.32 170.22,378.5 170.3,382.88 170.37,374.9 170.45,391.82 170.52,383.17 170.6,401.08 170.67,386.13 170.74,389.48 170.82,384.25 170.89,377.31 170.97,416.22 171.04,411.23 171.12,423.01 171.19,381.61 171.27,392.12 171.34,386.57 171.41,395.06 171.49,394.88 171.56,388.55 171.64,377.36 171.71,387.6 171.79,384.3 171.86,400.07 171.93,398.17 172.01,383.55 172.08,387.37 172.16,407.53 172.23,382.39 172.31,389.89 172.38,393.87 172.45,374.05 172.53,392.11 172.6,404.34 172.68,393.85 172.75,404.02 172.83,381.41 172.9,386.4 172.98,390.69 173.05,389.78 173.12,386.46 173.2,371.72 173.27,385.11 173.35,392.89 173.42,397.27 173.5,386.69 173.57,402.6 173.64,385.56 173.72,389.49 173.79,404.94 173.87,411.82 173.94,385.41 174.02,388.48 174.09,380.72 174.17,388.03 174.24,386.51 174.31,386.36 174.39,392.2 174.46,383.56 174.54,399.58 174.61,385.63 174.69,392.18 174.76,375.32 174.83,401.91 174.91,378.86 174.98,376.28 175.06,409.27 175.13,399.62 175.21,414.12 175.28,385.81 175.35,390.37 175.43,392.86 175.5,388.14 175.58,397.99 175.65,376.01 175.73,393.67 175.8,398.03 175.88,396.35 175.95,418.45 176.02,385.8 176.1,397.81 176.17,382.16 176.25,398.61 176.32,389.05 176.4,389.6 176.47,376.82 176.54,391.18 176.62,387.83 176.69,387.21 176.77,395.75 176.84,391.98 176.92,385.33 176.99,389.38 177.07,397.51 177.14,386.64 177.21,383.73 177.29,379.83 177.36,393.41 177.44,385.41 177.51,387.85 177.59,388.09 177.66,384.59 177.73,404.84 177.81,385.51 177.88,398.86 177.96,402.94 178.03,380.56 178.11,410.53 178.18,405.57 178.25,394.81 178.33,386.1 178.4,380.02 178.48,378.94 178.55,389.98 178.63,376.18 178.7,396.28 178.78,380.84 178.85,386.81 178.92,394.92 179,380.46 179.07,383.09 179.15,384.45 179.22,396.41 179.3,389.38 179.37,381.83 179.44,387.69 179.52,395.62 179.59,377.72 179.67,385.31 179.74,383.31 179.82,393.11 179.89,384.65 179.96,383.32 180.04,396.26 180.11,398.28 180.19,383.82 180.26,396.18 180.34,386.07 180.41,388.4 180.49,389.75 180.56,399.73 180.63,404.87 180.71,379.71 180.78,383.59 180.86,397.04 180.93,382.87 181.01,384.87 181.08,374.86 181.15,383.5 181.23,397.14 181.3,393.55 181.38,389.6 181.45,377.17 181.53,397.43 181.6,402.31 181.68,392.61 181.75,399.19 181.82,386.15 181.9,395.11 181.97,402.73 182.05,389.91 182.12,391.29 182.2,390.21 182.27,392.88 182.34,385.57 182.42,391.94 182.49,380.19 182.57,387.11 182.64,386.23 182.72,381.27 182.79,404.64 182.86,391.31 182.94,401.39 183.01,410.75 183.09,395.29 183.16,383.35 183.24,395.72 183.31,398.68 183.39,406.65 183.46,401.65 183.53,390.79 183.61,399.26 183.68,385.23 183.76,390.83 183.83,393.79 183.91,401.49 183.98,382.61 184.05,378.69 184.13,381.95 184.2,386.23 184.28,393.82 184.35,381.31 184.43,404.22 184.5,397.76 184.58,385.59 184.65,390.38 184.72,384.12 184.8,393.43 184.87,375.9 184.95,387.47 185.02,393.3 185.1,397.04 185.17,390.97 185.24,418.16 185.32,407.86 185.39,382.29 185.47,407.58 185.54,389.22 185.62,393.87 185.69,395.79 185.76,378.41 185.84,389.76 185.91,388.76 185.99,392.97 186.06,400.54 186.14,382.07 186.21,386.95 186.29,382.08 186.36,395.39 186.43,376.62 186.51,396.38 186.58,395.55 186.66,390.96 186.73,393.7 186.81,389.56 186.88,401.67 186.95,380.17 187.03,392.06 187.1,383.63 187.18,387.09 187.25,381.34 187.33,379.83 187.4,384.15 187.48,387.18 187.55,386.62 187.62,394.98 187.7,393.49 187.77,395.78 187.85,414.91 187.92,375.58 188,383.27 188.07,396.52 188.14,383.49 188.22,389.61 188.29,401.92 188.37,389.75 188.44,396.14 188.52,386.45 188.59,377 188.66,399.85 188.74,387.88 188.81,388.97 188.89,394.98 188.96,394.67 189.04,384.57 189.11,397.13 189.19,398.08 189.26,386.2 189.33,382.09 189.41,387.75 189.48,394.57 189.56,380.98 189.63,397.55 189.71,384.11 189.78,386.02 189.85,405.67 189.93,373.13 190,386.33 190.08,417.61 190.15,383.89 190.23,412.81 190.3,438.4 190.38,393.79 190.45,395.4 190.52,382.48 190.6,389.13 190.67,390.86 190.75,400.87 190.82,378.52 190.9,385.15 190.97,395.21 191.04,386.05 191.12,404.08 191.19,391.62 191.27,394.09 191.34,379.86 191.42,383.59 191.49,385.56 191.56,386.46 191.64,407.52 191.71,394.99 191.79,405.77 191.86,387.96 191.94,390.41 192.01,397.7 192.09,396.22 192.16,392.06 192.23,390.69 192.31,404.53 192.38,393.83 192.46,395.08 192.53,376.71 192.61,393.08 192.68,382.42 192.75,386.26 192.83,401.46 192.9,388.34 192.98,386.77 193.05,401.27 193.13,392.1 193.2,382.24 193.28,385.28 193.35,377.74 193.42,388.44 193.5,404.94 193.57,381.79 193.65,389.12 193.72,380.96 193.8,399.79 193.87,383.61 193.94,383.57 194.02,382.33 194.09,404.94 194.17,391.83 194.24,377.45 194.32,399.43 194.39,384.33 194.46,380.36 194.54,394.25 194.61,401.8 194.69,379.01 194.76,393.08 194.84,379.6 194.91,400.54 194.99,391.25 195.06,378.61 195.13,402.9 195.21,378.3 195.28,389.79 195.36,407.06 195.43,394.41 195.51,381.39 195.58,410.07 195.65,376.04 195.73,390.26 195.8,373.98 195.88,386.95 195.95,387.55 196.03,387.41 196.1,394.28 196.18,410.83 196.25,389.26 196.32,391.38 196.4,396.34 196.47,401.47 196.55,389.69 196.62,386.32 196.7,389.35 196.77,401.23 196.84,396.23 196.92,396.91 196.99,396.8 197.07,390.61 197.14,384.71 197.22,389.42 197.29,400.05 197.36,399.34 197.44,378.04 197.51,387.11 197.59,398.49 197.66,382.12 197.74,392.06 197.81,382.3 197.89,392.36 197.96,398.21 198.03,390.92 198.11,385.96 198.18,391.27 198.26,386.76 198.33,386.19 198.41,388.23 198.48,407.81 198.55,379.1 198.63,382.24 198.7,396.95 198.78,389.43 198.85,380.61 198.93,385.59 199,390.77 199.08,390.35 199.15,399.8 199.22,378.02 199.3,382.28 199.37,395.76 199.45,389.74 199.52,383.69 199.6,388.76 199.67,389.81 199.74,387.01 199.82,396.72 199.89,407.52 199.97,381.16 200.04,397.48 200.12,394.16 200.19,388.27 200.26,383.24 200.34,406.79 200.41,403.62 200.49,388.52 200.56,390.95 200.64,399.24 200.71,388.8 200.79,387.81 200.86,391.94 200.93,381.78 201.01,401.41 201.08,396.52 201.16,385.6 201.23,385.66 201.31,390.07 201.38,395.87 201.45,387.32 201.53,396.68 201.6,382.91 201.68,417.95 201.75,386.5 201.83,379.82 201.9,391.33 201.97,388.83 202.05,393.46 202.12,387.89 202.2,390.66 202.27,395.09 202.35,378.32 202.42,403.4 202.5,379.22 202.57,384.7 202.64,397.73 202.72,387.2 202.79,391.64 202.87,390.7 202.94,381.07 203.02,386.01 203.09,381.14 203.16,389.97 203.24,393.84 203.31,388.7 203.39,382.69 203.46,381.39 203.54,385.56 203.61,393.72 203.69,395.74 203.76,400.14 203.83,385.35 203.91,381.22 203.98,425.85 204.06,395.96 204.13,397.21 204.21,389.41 204.28,395.01 204.35,393.38 204.43,397.35 204.5,393.42 204.58,403.72 204.65,394.47 204.73,394.14 204.8,405.95 204.87,386.48 204.95,385.03 205.02,405.02 205.1,380.22 205.17,392.83 205.25,386.21 205.32,397.35 205.4,388.46 205.47,384.17 205.54,397.9 205.62,394.76 205.69,387.75 205.77,384.99 205.84,386.41 205.92,391.26 205.99,392.53 206.06,389.94 206.14,378.46 206.21,406.45 206.29,378.99 206.36,383.29 206.44,391.68 206.51,379 206.59,389.55 206.66,397.14 206.73,386.31 206.81,379.06 206.88,398.36 206.96,385.97 207.03,407.96 207.11,401.8 207.18,384.73 207.25,382.78 207.33,394.81 207.4,382.91 207.48,382.29 207.55,382.23 207.63,379.71 207.7,401.95 207.77,380.36 207.85,389.53 207.92,390.83 208,387.91 208.07,386.89 208.15,409.36 208.22,391.29 208.3,381.66 208.37,373.72 208.44,378.97 208.52,387.38 208.59,387.56 208.67,391.55 208.74,388.72 208.82,382.13 208.89,391.67 208.96,387.14 209.04,392.6 209.11,389.18 209.19,383.04 209.26,389.17 209.34,383.7 209.41,385.27 209.49,385.14 209.56,390.89 209.63,392.36 209.71,391.11 209.78,393.71 209.86,407.63 209.93,381.05 210.01,388.68 210.08,394.37 210.15,385.46 210.23,387.71 210.3,386.62 210.38,402.87 210.45,399.55 210.53,389.7 210.6,395.26 210.67,393.77 210.75,396.26 210.82,395.15 210.9,380.29 210.97,388.5 211.05,396.67 211.12,395.51 211.2,388.24 211.27,396.15 211.34,398.92 211.42,412.89 211.49,390.48 211.57,386.46 211.64,383.43 211.72,382.91 211.79,384.48 211.86,393.15 211.94,396.7 212.01,392.79 212.09,384.93 212.16,391.47 212.24,398.25 212.31,382.21 212.39,387.66 212.46,373.54 212.53,391.33 212.61,379.82 212.68,391.73 212.76,388.11 212.83,384.84 212.91,396.52 212.98,385.05 213.05,391.79 213.13,397.32 213.2,396.5 213.28,377.47 213.35,394.64 213.43,383.01 213.5,394.42 213.57,383.91 213.65,391.16 213.72,387.52 213.8,403.55 213.87,388.39 213.95,409.81 214.02,398.27 214.1,381.25 214.17,405.37 214.24,408.63 214.32,389.33 214.39,394.77 214.47,394.85 214.54,381.2 214.62,387.65 214.69,402.6 214.76,382.67 214.84,391.64 214.91,400.33 214.99,404.68 215.06,383.79 215.14,390.04 215.21,386.5 215.29,379.09 215.36,385.91 215.43,385.56 215.51,387.99 215.58,389.47 215.66,424.83 215.73,399.49 215.81,387.28 215.88,406.45 215.95,389.14 216.03,381.28 216.1,387.96 216.18,395.51 216.25,384.07 216.33,392.71 216.4,386.33 216.47,406.29 216.55,396.22 216.62,394.89 216.7,385.88 216.77,391.31 216.85,393.83 216.92,385.64 217,391.72 217.07,386.78 217.14,384.37 217.22,390.77 217.29,383.67 217.37,389.44 217.44,394.42 217.52,384.44 217.59,397.57 217.66,383.47 217.74,390.17 217.81,378.1 217.89,395.68 217.96,394.12 218.04,396.11 218.11,382.13 218.19,401.77 218.26,378.82 218.33,379.09 218.41,389.97 218.48,384.09 218.56,394.51 218.63,385.31 218.71,391.89 218.78,386.53 218.85,390.86 218.93,398.7 219,386.95 219.08,403.14 219.15,382.7 219.23,384.97 219.3,405.2 219.37,394.82 219.45,392.31 219.52,385.6 219.6,390.78 219.67,393.71 219.75,397.76 219.82,389.1 219.9,394.74 219.97,418.56 220.04,397.44 220.12,402.59 220.19,391.15 220.27,401.97 220.34,399.81 220.42,385.03 220.49,394.15 220.56,392.16 220.64,397.1 220.71,382.42 220.79,386.34 220.86,384.13 220.94,389.42 221.01,392.21 221.09,384.96 221.16,387.88 221.23,385.04 221.31,374.24 221.38,381.17 221.46,381.52 221.53,394.91 221.61,385.84 221.68,386.3 221.75,389.91 221.83,400.98 221.9,390.31 221.98,398.88 222.05,377.01 222.13,387.38 222.2,381.65 222.27,376.44 222.35,395.88 222.42,419.68 222.5,393.71 222.57,398.71 222.65,393.05 222.72,395.93 222.8,381.82 222.87,403.1 222.94,397.28 223.02,398.09 223.09,393.11 223.17,390.52 223.24,390.22 223.32,395.9 223.39,382.96 223.46,379.33 223.54,390.03 223.61,390.85 223.69,382.58 223.76,381.65 223.84,408.45 223.91,388.11 223.98,394.96 224.06,387.89 224.13,385.86 224.21,398.11 224.28,385.9 224.36,380.46 224.43,396.61 224.51,393.01 224.58,388.34 224.65,381.92 224.73,379.91 224.8,387.45 224.88,384.52 224.95,388.03 225.03,390.09 225.1,406.29 225.17,406.64 225.25,392.23 225.32,399.92 225.4,413.03 225.47,389.47 225.55,390.01 225.62,394.48 225.7,395.51 225.77,385.03 225.84,385.63 225.92,387.07 225.99,390.12 226.07,387.83 226.14,382 226.22,390.66 226.29,379.2 226.36,378.16 226.44,390.97 226.51,373.96 226.59,392.09 226.66,383.28 226.74,382.01 226.81,395.97 226.88,396.64 226.96,389.96 227.03,400.87 227.11,397.89 227.18,391.65 227.26,385.71 227.33,386.97 227.41,406.5 227.48,399.59 227.55,401.44 227.63,386.95 227.7,395.75 227.78,420 227.85,372.64 227.93,409.3 228,385.26 228.07,378.78 228.15,397.96 228.22,396.81 228.3,399.81 228.37,387.85 228.45,397.31 228.52,385.92 228.6,385.69 228.67,387.22 228.74,381.33 228.82,403.55 228.89,396.16 228.97,383.69 229.04,381.05 229.12,386.37 229.19,381.03 229.26,383.05 229.34,392.55 229.41,380.78 229.49,407.96 229.56,371.82 229.64,379.59 229.71,383.69 229.78,379.3 229.86,379.81 229.93,395.46 230.01,379.65 230.08,378.36 230.16,400.81 230.23,391 230.31,384.07 230.38,393.48 230.45,386.95 230.53,397.54 230.6,391.32 230.68,389.25 230.75,393.72 230.83,397.64 230.9,392.72 230.97,385.4 231.05,389.69 231.12,411.68 231.2,388.32 231.27,383.52 231.35,388.81 231.42,385.15 231.5,401.55 231.57,381.17 231.64,391.32 231.72,389.95 231.79,386.08 231.87,388.04 231.94,388.49 232.02,389.49 232.09,380.91 232.16,386.62 232.24,389.76 232.31,388.29 232.39,383.99 232.46,398.17 232.54,381.14 232.61,388.35 232.68,386.91 232.76,387.68 232.83,381.74 232.91,396.32 232.98,390.51 233.06,387.89 233.13,381.21 233.21,380.39 233.28,391.62 233.35,404.59 233.43,391.28 233.5,398.08 233.58,389.63 233.65,393.73 233.73,384.06 233.8,387.52 233.87,391.72 233.95,401.76 234.02,380.15 234.1,384.84 234.17,397.2 234.25,387.68 234.32,387.29 234.4,385.27 234.47,385.84 234.54,380.48 234.62,398.89 234.69,401.82 234.77,386.27 234.84,379.15 234.92,381.11 234.99,387.15 235.06,384.38 235.14,390.92 235.21,406.65 235.29,381.25 235.36,391 235.44,392.93 235.51,402.25 235.58,393.54 235.66,411.11 235.73,385.17 235.81,390.04 235.88,402.48 235.96,383.22 236.03,383.93 236.11,391.55 236.18,394.55 236.25,397.48 236.33,400.37 236.4,384.99 236.48,375.76 236.55,388.54 236.63,387.46 236.7,387.56 236.77,424.24 236.85,382.25 236.92,393.23 237,396.29 237.07,382.58 237.15,379.76 237.22,386.66 237.3,390.91 237.37,398.85 237.44,383.46 237.52,386.48 237.59,387.46 237.67,384.5 237.74,388.72 237.82,379.95 237.89,397.41 237.96,372.99 238.04,398.71 238.11,392.9 238.19,393.09 238.26,415.4 238.34,379.15 238.41,381.56 238.48,388.85 238.56,378.2 238.63,405.04 238.71,391.06 238.78,393.6 238.86,385.27 238.93,420.18 239.01,398.99 239.08,388.55 239.15,375.83 239.23,388.58 239.3,383.83 239.38,394.2 239.45,407.28 239.53,394.21 239.6,380.96 239.67,378.2 239.75,391.34 239.82,387.44 239.9,383.39 239.97,395.41 240.05,392.06 240.12,399.43 240.2,389.1 240.27,395.32 240.34,390.13 240.42,382.67 240.49,388.51 240.57,382.84 240.64,392.58 240.72,430.06 240.79,380.85 240.86,386.83 240.94,389.84 241.01,388.67 241.09,384.31 241.16,386.44 241.24,395.43 241.31,379.59 241.38,391.16 241.46,400 241.53,394.47 241.61,396.3 241.68,382.97 241.76,378.4 241.83,393.45 241.91,376.24 241.98,393.22 242.05,404.65 242.13,387.42 242.2,393.07 242.28,394.7 242.35,385.48 242.43,397.48 242.5,391.13 242.57,394.28 242.65,404.61 242.72,381.95 242.8,386.48 242.87,400.27 242.95,382.29 243.02,395.73 243.1,395.85 243.17,391.7 243.24,389.51 243.32,382.32 243.39,387.01 243.47,384.53 243.54,390.68 243.62,392.88 243.69,391.97 243.76,408.29 243.84,382.44 243.91,378.51 243.99,411.96 244.06,395.09 244.14,385.78 244.21,387.88 244.28,387.4 244.36,388.16 244.43,384.06 244.51,397.11 244.58,403.7 244.66,387.64 244.73,378.98 244.81,398.68 244.88,396.89 244.95,389.59 245.03,397.16 245.1,384.8 245.18,382.61 245.25,401.03 245.33,393.7 245.4,412.21 245.47,395.71 245.55,394.98 245.62,401.17 245.7,397.52 245.77,393.66 245.85,394.69 245.92,383.47 245.99,397.62 246.07,396.87 246.14,387.57 246.22,390.72 246.29,426.72 246.37,389.7 246.44,397.29 246.52,381.13 246.59,401.59 246.66,379.13 246.74,378.57 246.81,438.4 246.89,388.94 246.96,392.73 247.04,386.59 247.11,379.9 247.18,394.41 247.26,398.85 247.33,413.15 247.41,391.7 247.48,389.3 247.56,388.86 247.63,393.41 247.71,393.08 247.78,394.37 247.85,383.35 247.93,395.98 248,394.44 248.08,386.41 248.15,380.92 248.23,392.25 248.3,385.6 248.37,394.76 248.45,390.47 248.52,396.08 248.6,404.72 248.67,392.26 248.75,411.46 248.82,393.66 248.89,386.86 248.97,386.79 249.04,388.91 249.12,396.12 249.19,381.93 249.27,410.01 249.34,392.02 249.42,413.35 249.49,398.82 249.56,378.77 249.64,381.53 249.71,382.55 249.79,398.72 249.86,403.18 249.94,401.52 250.01,381.6 250.08,379.69 250.16,382.21 250.23,382.3 250.31,382.35 250.38,389.69 250.46,388.17 250.53,398.41 250.61,393.95 250.68,397 250.75,378.86 250.83,395.64 250.9,398.41 250.98,396.87 251.05,386.4 251.13,385.01 251.2,387.3 251.27,384.67 251.35,398.2 251.42,392.5 251.5,408.08 251.57,392.85 251.65,381.86 251.72,399.15 251.79,382.19 251.87,383.48 251.94,384.77 252.02,385.82 252.09,391.62 252.17,390.1 252.24,385.87 252.32,386.91 252.39,389.98 252.46,407.45 252.54,393.99 252.61,407.7 252.69,403.3 252.76,397.81 252.84,408.95 252.91,388.99 252.98,400.18 253.06,410.75 253.13,392.14 253.21,394.34 253.28,393.57 253.36,388.74 253.43,392.83 253.51,375.32 253.58,390.04 253.65,403.56 253.73,378.95 253.8,394.85 253.88,398.28 253.95,381.41 254.03,387.12 254.1,390.31 254.17,384.74 254.25,386.68 254.32,395.77 254.4,382.23 254.47,414 254.55,386.62 254.62,392.36 254.69,386.8 254.77,381.9 254.84,390.88 254.92,389.27 254.99,387.9 255.07,393.76 255.14,416.87 255.22,373.45 255.29,387.48 255.36,382.25 255.44,387.82 255.51,389.71 255.59,391.13 255.66,433.07 255.74,394.34 255.81,385.42 255.88,395.17 255.96,379.38 256.03,394.33 256.11,384.94 256.18,403.46 256.26,395.43 256.33,408.45 256.41,386.51 256.48,393.41 256.55,393 256.63,388.72 256.7,398.69 256.78,395.43 256.85,390.09 256.93,393.83 257,387.43" fill="none" stroke="#000" stroke-width="0.9" stroke-linejoin="miter"/>
<line x1="41.47" y1="305.07" x2="41.47" y2="383.83" stroke="#000" stroke-width="1.1"/>
<line x1="48.94" y1="333.26" x2="48.94" y2="387.47" stroke="#000" stroke-width="1.1"/>
<line x1="56.41" y1="331.08" x2="56.41" y2="387.47" stroke="#000" stroke-width="1.1"/>
<line x1="63.88" y1="329.81" x2="63.88" y2="387.47" stroke="#000" stroke-width="1.1"/>
<line x1="71.35" y1="336.35" x2="71.35" y2="387.47" stroke="#000" stroke-width="1.1"/>
<line x1="78.82" y1="337.08" x2="78.82" y2="387.47" stroke="#000" stroke-width="1.1"/>
<line x1="86.29" y1="343.63" x2="86.29" y2="387.47" stroke="#000" stroke-width="1.1"/>
<line x1="93.77" y1="351.27" x2="93.77" y2="387.47" stroke="#000" stroke-width="1.1"/>
<line x1="101.24" y1="368.73" x2="101.24" y2="387.47" stroke="#000" stroke-width="1.1"/>
<line x1="108.71" y1="343.63" x2="108.71" y2="387.47" stroke="#000" stroke-width="1.1"/>
<line x1="116.18" y1="362.37" x2="116.18" y2="387.47" stroke="#000" stroke-width="1.1"/>
<line x1="34" y1="493.4" x2="257" y2="493.4" stroke="#333" stroke-width="1"/>
<line x1="257" y1="493.4" x2="257" y2="675.3" stroke="#555" stroke-width="1"/>
<line x1="30" y1="675.3" x2="257" y2="675.3" stroke="#222" stroke-width="1"/>
<line x1="34" y1="493.4" x2="34" y2="675.3" stroke="#666" stroke-width="1.6"/>
<line x1="30.5" y1="675.3" x2="34" y2="675.3" stroke="#222" stroke-width="1"/>
<line x1="32" y1="666.2" x2="34" y2="666.2" stroke="#333" stroke-width="1"/>
<line x1="30.5" y1="657.11" x2="34" y2="657.11" stroke="#222" stroke-width="1"/>
<line x1="32" y1="648.01" x2="34" y2="648.01" stroke="#333" stroke-width="1"/>
<line x1="30.5" y1="638.92" x2="34" y2="638.92" stroke="#222" stroke-width="1"/>
<line x1="32" y1="629.82" x2="34" y2="629.82" stroke="#333" stroke-width="1"/>
<line x1="30.5" y1="620.73" x2="34" y2="620.73" stroke="#222" stroke-width="1"/>
<line x1="32" y1="611.63" x2="34" y2="611.63" stroke="#333" stroke-width="1"/>
<line x1="30.5" y1="602.54" x2="34" y2="602.54" stroke="#222" stroke-width="1"/>
<line x1="32" y1="593.44" x2="34" y2="593.44" stroke="#333" stroke-width="1"/>
<line x1="30.5" y1="584.35" x2="34" y2="584.35" stroke="#222" stroke-width="1"/>
<line x1="32" y1="575.25" x2="34" y2="575.25" stroke="#333" stroke-width="1"/>
<line x1="30.5" y1="566.16" x2="34" y2="566.16" stroke="#222" stroke-width="1"/>
<line x1="32" y1="557.06" x2="34" y2="557.06" stroke="#333" stroke-width="1"/>
<line x1="30.5" y1="547.97" x2="34" y2="547.97" stroke="#222" stroke-width="1"/>
<line x1="32" y1="538.88" x2="34" y2="538.88" stroke="#333" stroke-width="1"/>
<line x1="30.5" y1="529.78" x2="34" y2="529.78" stroke="#222" stroke-width="1"/>
<line x1="32" y1="520.68" x2="34" y2="520.68" stroke="#333" stroke-width="1"/>
<line x1="30.5" y1="511.59" x2="34" y2="511.59" stroke="#222" stroke-width="1"/>
<line x1="32" y1="502.5" x2="34" y2="502.5" stroke="#333" stroke-width="1"/>
<line x1="30.5" y1="493.4" x2="34" y2="493.4" stroke="#222" stroke-width="1"/>
<text x="29.2" y="495.4" font-size="7.2" text-anchor="end" textLength="3.4" lengthAdjust="spacingAndGlyphs">0</text>
<text x="29.2" y="513.59" font-size="7.2" text-anchor="end" textLength="9.4" lengthAdjust="spacingAndGlyphs">-10</text>
<text x="29.2" y="531.78" font-size="7.2" text-anchor="end" textLength="9.4" lengthAdjust="spacingAndGlyphs">-20</text>
<text x="29.2" y="549.97" font-size="7.2" text-anchor="end" textLength="9.4" lengthAdjust="spacingAndGlyphs">-30</text>
<text x="29.2" y="568.16" font-size="7.2" text-anchor="end" textLength="9.4" lengthAdjust="spacingAndGlyphs">-40</text>
<text x="29.2" y="586.35" font-size="7.2" text-anchor="end" textLength="9.4" lengthAdjust="spacingAndGlyphs">-50</text>
<text x="29.2" y="604.54" font-size="7.2" text-anchor="end" textLength="9.4" lengthAdjust="spacingAndGlyphs">-60</text>
<text x="29.2" y="622.73" font-size="7.2" text-anchor="end" textLength="9.4" lengthAdjust="spacingAndGlyphs">-70</text>
<text x="29.2" y="640.92" font-size="7.2" text-anchor="end" textLength="9.4" lengthAdjust="spacingAndGlyphs">-80</text>
<text x="29.2" y="659.11" font-size="7.2" text-anchor="end" textLength="9.4" lengthAdjust="spacingAndGlyphs">-90</text>
<text x="29.2" y="677.3" font-size="7.2" text-anchor="end" textLength="13.2" lengthAdjust="spacingAndGlyphs">-100</text>
<line x1="34" y1="675.3" x2="34" y2="678.8" stroke="#222" stroke-width="1"/>
<line x1="45.21" y1="675.3" x2="45.21" y2="677.3" stroke="#333" stroke-width="1"/>
<line x1="56.41" y1="675.3" x2="56.41" y2="678.8" stroke="#222" stroke-width="1"/>
<line x1="67.62" y1="675.3" x2="67.62" y2="677.3" stroke="#333" stroke-width="1"/>
<line x1="78.82" y1="675.3" x2="78.82" y2="678.8" stroke="#222" stroke-width="1"/>
<line x1="90.03" y1="675.3" x2="90.03" y2="677.3" stroke="#333" stroke-width="1"/>
<line x1="101.24" y1="675.3" x2="101.24" y2="678.8" stroke="#222" stroke-width="1"/>
<line x1="112.44" y1="675.3" x2="112.44" y2="677.3" stroke="#333" stroke-width="1"/>
<line x1="123.65" y1="675.3" x2="123.65" y2="678.8" stroke="#222" stroke-width="1"/>
<line x1="134.85" y1="675.3" x2="134.85" y2="677.3" stroke="#333" stroke-width="1"/>
<line x1="146.06" y1="675.3" x2="146.06" y2="678.8" stroke="#222" stroke-width="1"/>
<line x1="157.27" y1="675.3" x2="157.27" y2="677.3" stroke="#333" stroke-width="1"/>
<line x1="168.47" y1="675.3" x2="168.47" y2="678.8" stroke="#222" stroke-width="1"/>
<line x1="179.68" y1="675.3" x2="179.68" y2="677.3" stroke="#333" stroke-width="1"/>
<line x1="190.88" y1="675.3" x2="190.88" y2="678.8" stroke="#222" stroke-width="1"/>
<line x1="202.09" y1="675.3" x2="202.09" y2="677.3" stroke="#333" stroke-width="1"/>
<line x1="213.3" y1="675.3" x2="213.3" y2="678.8" stroke="#222" stroke-width="1"/>
<line x1="224.5" y1="675.3" x2="224.5" y2="677.3" stroke="#333" stroke-width="1"/>
<line x1="235.71" y1="675.3" x2="235.71" y2="678.8" stroke="#222" stroke-width="1"/>
<line x1="246.91" y1="675.3" x2="246.91" y2="677.3" stroke="#333" stroke-width="1"/>
<text x="34" y="687.1" font-size="7.2" text-anchor="middle" textLength="9" lengthAdjust="spacingAndGlyphs">0,0</text>
<text x="56.41" y="687.1" font-size="7.2" text-anchor="middle" textLength="19.2" lengthAdjust="spacingAndGlyphs">300,0k</text>
<text x="78.82" y="687.1" font-size="7.2" text-anchor="middle" textLength="19.2" lengthAdjust="spacingAndGlyphs">600,0k</text>
<text x="101.24" y="687.1" font-size="7.2" text-anchor="middle" textLength="19.2" lengthAdjust="spacingAndGlyphs">900,0k</text>
<text x="123.65" y="687.1" font-size="7.2" text-anchor="middle" textLength="14" lengthAdjust="spacingAndGlyphs">1,2M</text>
<text x="146.06" y="687.1" font-size="7.2" text-anchor="middle" textLength="14" lengthAdjust="spacingAndGlyphs">1,5M</text>
<text x="168.47" y="687.1" font-size="7.2" text-anchor="middle" textLength="14" lengthAdjust="spacingAndGlyphs">1,8M</text>
<text x="190.88" y="687.1" font-size="7.2" text-anchor="middle" textLength="14" lengthAdjust="spacingAndGlyphs">2,1M</text>
<text x="213.3" y="687.1" font-size="7.2" text-anchor="middle" textLength="14" lengthAdjust="spacingAndGlyphs">2,4M</text>
<text x="235.71" y="687.1" font-size="7.2" text-anchor="middle" textLength="14" lengthAdjust="spacingAndGlyphs">2,7M</text>
<text x="146" y="700.4" font-size="8.7" text-anchor="middle" textLength="55" lengthAdjust="spacingAndGlyphs">Frequency [Hz]</text>
<text x="10.6" y="590.2" font-size="8.7" text-anchor="middle" textLength="58.5" lengthAdjust="spacingAndGlyphs" transform="rotate(-90 10.6 590.2)">Magnitude [dB]</text>
<text x="0" y="483" font-size="17.8" font-weight="bold" textLength="20.5" lengthAdjust="spacingAndGlyphs" style="stroke-width:0.1px">(e)</text>
<polyline points="34,625.89 34.07,624.42 34.15,608.15 34.22,604.59 34.3,618.3 34.37,620.25 34.45,616.76 34.52,626.46 34.59,610.89 34.67,629.42 34.74,616.56 34.82,601.4 34.89,620.13 34.97,608.99 35.04,619.9 35.12,605.39 35.19,611.78 35.26,607.91 35.34,619.67 35.41,622.96 35.49,675.3 35.56,609.89 35.64,611.99 35.71,609.58 35.78,614.29 35.86,615.17 35.93,615.01 36.01,615.09 36.08,632.88 36.16,605.14 36.23,608.49 36.31,629.83 36.38,608.28 36.45,602.44 36.53,622.2 36.6,613.31 36.68,625.41 36.75,609.7 36.83,605.39 36.9,612.14 36.97,608.98 37.05,610.24 37.12,613.56 37.2,606.91 37.27,625.11 37.35,605.82 37.42,599.69 37.49,622.7 37.57,604.65 37.64,614.98 37.72,616.25 37.79,622.5 37.87,602.55 37.94,625.81 38.02,608.57 38.09,615.19 38.16,604.33 38.24,610.48 38.31,600.21 38.39,622.58 38.46,637.66 38.54,607.05 38.61,617.54 38.68,603.76 38.76,610.9 38.83,616.08 38.91,602.15 38.98,651.64 39.06,611.11 39.13,613.57 39.21,629.25 39.28,624.73 39.35,625.94 39.43,619.65 39.5,620.03 39.58,619.36 39.65,616.01 39.73,623.12 39.8,604.93 39.87,611.7 39.95,607.8 40.02,606.39 40.1,628.8 40.17,612.42 40.25,612.35 40.32,633.37 40.39,602.5 40.47,626.02 40.54,612.7 40.62,603.16 40.69,617.98 40.77,616.42 40.84,608.28 40.92,624.24 40.99,614.38 41.06,616.8 41.14,609.27 41.21,611.43 41.29,614 41.36,612.26 41.44,631.12 41.51,606.45 41.58,615.99 41.66,604.19 41.73,611.34 41.81,605.23 41.88,603.73 41.96,610.89 42.03,623.69 42.11,618.66 42.18,616.62 42.25,641.72 42.33,606.64 42.4,601.14 42.48,626.41 42.55,600.51 42.63,611.46 42.7,613.15 42.77,608.29 42.85,601.41 42.92,611.2 43,617.96 43.07,614.15 43.15,611.13 43.22,609.79 43.29,624.27 43.37,621.01 43.44,607.24 43.52,619 43.59,629.43 43.67,619.57 43.74,613.3 43.82,609.03 43.89,624.71 43.96,637.74 44.04,601.97 44.11,616.26 44.19,611.13 44.26,615.17 44.34,618.2 44.41,605.18 44.48,621.11 44.56,620.42 44.63,618.58 44.71,609.49 44.78,612.61 44.86,608.73 44.93,612.38 45.01,626.98 45.08,628.98 45.15,608.41 45.23,619.63 45.3,611.14 45.38,612.45 45.45,633.4 45.53,611.29 45.6,632.71 45.67,607.73 45.75,604.57 45.82,611.47 45.9,633.71 45.97,646.5 46.05,614.77 46.12,612.98 46.19,619.3 46.27,610.76 46.34,607.42 46.42,618.66 46.49,611.33 46.57,620.07 46.64,612.89 46.72,610.77 46.79,613.82 46.86,617.94 46.94,616 47.01,629.78 47.09,609.15 47.16,608.96 47.24,616.38 47.31,611.78 47.38,659.74 47.46,619.24 47.53,607.26 47.61,615.66 47.68,615.48 47.76,608.34 47.83,603.04 47.9,606.55 47.98,611.36 48.05,622.49 48.13,613.4 48.2,618.85 48.28,603.85 48.35,614.76 48.43,607.73 48.5,611.05 48.57,631.47 48.65,609.11 48.72,609.65 48.8,607.67 48.87,612.52 48.95,607.79 49.02,614.77 49.09,616.95 49.17,646.17 49.24,610.83 49.32,608.27 49.39,609.16 49.47,622.45 49.54,631.7 49.62,605.11 49.69,613.55 49.76,613.41 49.84,613.65 49.91,615.18 49.99,629.78 50.06,609.12 50.14,611.31 50.21,601.35 50.28,645.53 50.36,611.94 50.43,624.21 50.51,618.43 50.58,616.56 50.66,619.5 50.73,608.52 50.8,614.72 50.88,614.04 50.95,624.08 51.03,614.6 51.1,603.95 51.18,607.68 51.25,623.94 51.33,618.64 51.4,608.84 51.47,622.37 51.55,619.39 51.62,616.75 51.7,618.89 51.77,622.64 51.85,607.53 51.92,619 51.99,613.1 52.07,628.76 52.14,606.81 52.22,605.98 52.29,609.56 52.37,617.14 52.44,618.67 52.52,607.36 52.59,622.33 52.66,631.15 52.74,649.19 52.81,605.89 52.89,604.47 52.96,624.65 53.04,623.45 53.11,635.57 53.18,611.98 53.26,615.01 53.33,606.12 53.41,625.06 53.48,622.82 53.56,617.84 53.63,613.36 53.7,624.1 53.78,605.48 53.85,619.89 53.93,612.77 54,617.5 54.08,618.97 54.15,610.6 54.23,613.99 54.3,606.01 54.37,664.5 54.45,612.55 54.52,618.11 54.6,642.35 54.67,621.9 54.75,611.41 54.82,613.42 54.89,621.89 54.97,616 55.04,613.35 55.12,621.68 55.19,604.58 55.27,648.97 55.34,621.41 55.42,613.93 55.49,615.74 55.56,616.97 55.64,602.81 55.71,613.19 55.79,605.2 55.86,613.16 55.94,620.68 56.01,628.12 56.08,605.99 56.16,616.85 56.23,616.18 56.31,629.44 56.38,630.21 56.46,618.04 56.53,617.02 56.6,621.98 56.68,657.66 56.75,613.12 56.83,633.82 56.9,609.34 56.98,631.61 57.05,613.51 57.13,630.3 57.2,608.67 57.27,662.41 57.35,622.17 57.42,614.5 57.5,621.57 57.57,611.74 57.65,637.05 57.72,620.3 57.79,613.34 57.87,647.5 57.94,620.18 58.02,634.83 58.09,622.78 58.17,619.7 58.24,604.88 58.32,629.67 58.39,619.94 58.46,619.56 58.54,629.48 58.61,607.95 58.69,618.97 58.76,616.92 58.84,617.78 58.91,620.31 58.98,617.95 59.06,639.13 59.13,620.16 59.21,619.67 59.28,629.14 59.36,618.15 59.43,627.93 59.5,605.49 59.58,617.51 59.65,636.69 59.73,630.72 59.8,621.54 59.88,616.26 59.95,605.32 60.03,608.25 60.1,613.19 60.17,629.64 60.25,618.63 60.32,615.8 60.4,618.6 60.47,613.35 60.55,619.55 60.62,609.07 60.69,616.07 60.77,619.02 60.84,611.9 60.92,621.81 60.99,605.38 61.07,626.81 61.14,628.63 61.22,616.94 61.29,613.24 61.36,621.52 61.44,622.05 61.51,608.59 61.59,642.2 61.66,628.93 61.74,607.85 61.81,609.56 61.88,619.19 61.96,624.95 62.03,615.69 62.11,612.97 62.18,622.33 62.26,613.49 62.33,618.18 62.4,607.78 62.48,622.32 62.55,638.94 62.63,629.85 62.7,625.13 62.78,618.26 62.85,619.98 62.93,619.19 63,634.39 63.07,636.21 63.15,624.63 63.22,615.87 63.3,626.02 63.37,620.69 63.45,622.87 63.52,624.35 63.59,617.29 63.67,622.52 63.74,619.05 63.82,613 63.89,614.45 63.97,625.36 64.04,620.89 64.12,619.17 64.19,610.62 64.26,615.16 64.34,611.59 64.41,613.85 64.49,608.05 64.56,619.24 64.64,619.29 64.71,635.18 64.78,630.57 64.86,637.15 64.93,636.97 65.01,613.71 65.08,627.77 65.16,622.06 65.23,617.84 65.3,622.81 65.38,660.66 65.45,620.92 65.53,613.07 65.6,620.13 65.68,619.71 65.75,615.57 65.83,614.03 65.9,609.5 65.97,630.15 66.05,620.36 66.12,618.83 66.2,619.22 66.27,613.68 66.35,613.19 66.42,612.94 66.49,604.03 66.57,638.36 66.64,621.66 66.72,637.41 66.79,619.02 66.87,606.43 66.94,619.83 67.02,627.04 67.09,629.75 67.16,613.43 67.24,616.92 67.31,609.64 67.39,608.6 67.46,628.86 67.54,646.24 67.61,606.75 67.68,645.25 67.76,621.23 67.83,618.12 67.91,614.09 67.98,609.86 68.06,636.15 68.13,622.07 68.2,624.49 68.28,623.41 68.35,622.94 68.43,654.69 68.5,640.91 68.58,615.65 68.65,627.82 68.73,611.73 68.8,607.32 68.87,621.54 68.95,623.55 69.02,609.58 69.1,623.25 69.17,616.25 69.25,623.73 69.32,615.71 69.39,610.08 69.47,609.03 69.54,612.41 69.62,614.39 69.69,616.67 69.77,625.12 69.84,623.79 69.91,628.27 69.99,621.93 70.06,610.83 70.14,641.06 70.21,608.32 70.29,625.68 70.36,618.63 70.44,612.47 70.51,613.34 70.58,631.87 70.66,617.88 70.73,613.56 70.81,618.83 70.88,613.83 70.96,636.49 71.03,628.71 71.1,632.17 71.18,659.55 71.25,614.2 71.33,608.46 71.4,613.89 71.48,640.72 71.55,623.46 71.63,612.69 71.7,616.44 71.77,639.22 71.85,618.16 71.92,612.62 72,629.8 72.07,618.45 72.15,622.18 72.22,626.49 72.29,613.84 72.37,621.29 72.44,623.28 72.52,629.96 72.59,623.05 72.67,643.22 72.74,621.89 72.81,622.23 72.89,648.55 72.96,615.56 73.04,624.66 73.11,675.3 73.19,611.74 73.26,616.4 73.34,609.64 73.41,612.06 73.48,621.87 73.56,643 73.63,607.93 73.71,628.85 73.78,645.95 73.86,615.11 73.93,644.7 74,614.07 74.08,619.31 74.15,618.11 74.23,610.84 74.3,612.77 74.38,619.38 74.45,608.83 74.53,612.45 74.6,626.12 74.67,641.55 74.75,620.99 74.82,618.14 74.9,634.63 74.97,621.82 75.05,621.14 75.12,619.88 75.19,624.41 75.27,631.68 75.34,610.17 75.42,614.11 75.49,617.37 75.57,613.91 75.64,627.33 75.71,637.49 75.79,614.95 75.86,626.78 75.94,624.81 76.01,619.69 76.09,603.32 76.16,625.33 76.24,619.89 76.31,610.96 76.38,614.96 76.46,623.16 76.53,627.52 76.61,616.52 76.68,633.77 76.76,622.34 76.83,645.44 76.9,622.15 76.98,623.08 77.05,626.68 77.13,637.25 77.2,615.6 77.28,612.48 77.35,609.7 77.43,624.65 77.5,613.87 77.57,637.89 77.65,629.33 77.72,611.61 77.8,613.63 77.87,614.49 77.95,621.51 78.02,615.8 78.09,613.55 78.17,613.89 78.24,622.02 78.32,628 78.39,617.05 78.47,630.8 78.54,622.62 78.61,624.93 78.69,612.19 78.76,644.27 78.84,654.17 78.91,619.82 78.99,625.37 79.06,619.84 79.14,618.54 79.21,616.07 79.28,619.78 79.36,637.07 79.43,613.56 79.51,611 79.58,614.08 79.66,611.16 79.73,619.3 79.8,647.47 79.88,622 79.95,626.2 80.03,613.48 80.1,623.68 80.18,616.4 80.25,639.05 80.33,619.03 80.4,622.34 80.47,618.06 80.55,624.28 80.62,622.76 80.7,615.26 80.77,625.19 80.85,675.3 80.92,617.78 80.99,615.25 81.07,611.64 81.14,613.21 81.22,633.04 81.29,630.56 81.37,642.19 81.44,607.61 81.51,625.49 81.59,625.52 81.66,620.38 81.74,613.62 81.81,618.23 81.89,623.88 81.96,624.57 82.04,628.47 82.11,625.97 82.18,620.29 82.26,647.52 82.33,624.65 82.41,626.55 82.48,617.53 82.56,637.67 82.63,618 82.7,620.2 82.78,613.65 82.85,616.07 82.93,611.41 83,623.7 83.08,624.49 83.15,615.73 83.23,623.04 83.3,623.93 83.37,630.25 83.45,633.36 83.52,616.34 83.6,617.03 83.67,607.09 83.75,621.83 83.82,610.43 83.89,615.85 83.97,621.7 84.04,638.25 84.12,636.75 84.19,615.2 84.27,624.97 84.34,620.92 84.41,623.04 84.49,625.87 84.56,628.23 84.64,628.77 84.71,612.91 84.79,624.98 84.86,630.52 84.94,643.4 85.01,622.37 85.08,616.49 85.16,619.29 85.23,623.17 85.31,604.88 85.38,608.32 85.46,631.43 85.53,624.18 85.6,633.69 85.68,627.92 85.75,611.68 85.83,637.93 85.9,619.68 85.98,620.6 86.05,623.35 86.13,623.31 86.2,622.18 86.27,629.27 86.35,619.54 86.42,621.06 86.5,626.5 86.57,625.17 86.65,636.05 86.72,640.74 86.79,634.46 86.87,612 86.94,623.99 87.02,612.97 87.09,627.34 87.17,614.77 87.24,617.05 87.31,610.28 87.39,640.51 87.46,611.68 87.54,625.52 87.61,623.89 87.69,623.24 87.76,631.44 87.84,619.23 87.91,623.25 87.98,615.04 88.06,634.76 88.13,622.81 88.21,625.52 88.28,635.17 88.36,621.11 88.43,625.42 88.5,635.46 88.58,616.1 88.65,615.63 88.73,612.57 88.8,626.3 88.88,625.14 88.95,617.76 89.03,617.09 89.1,635.75 89.17,640.8 89.25,627.16 89.32,619.05 89.4,622.57 89.47,622.47 89.55,631.61 89.62,611.39 89.69,619.49 89.77,621.15 89.84,617.86 89.92,655.46 89.99,616.2 90.07,613.3 90.14,608.72 90.21,613.9 90.29,639.7 90.36,617.64 90.44,625.86 90.51,629.63 90.59,616.36 90.66,625 90.74,618.97 90.81,627.13 90.88,609.51 90.96,612.54 91.03,616.99 91.11,615.86 91.18,640.32 91.26,620.83 91.33,614.49 91.4,620.85 91.48,619.33 91.55,612.15 91.63,625.02 91.7,624.95 91.78,608.8 91.85,625.87 91.92,616.15 92,633.99 92.07,620.65 92.15,629.15 92.22,635.04 92.3,614.9 92.37,616.23 92.45,614.55 92.52,605.59 92.59,626.62 92.67,636.55 92.74,607.26 92.82,605.98 92.89,615.57 92.97,640.51 93.04,617.76 93.11,613.71 93.19,626.1 93.26,620.58 93.34,615.12 93.41,629.48 93.49,625.69 93.56,611.26 93.64,612.56 93.71,644.6 93.78,621.4 93.86,657.49 93.93,620.83 94.01,615.5 94.08,611.66 94.16,623.74 94.23,614.55 94.3,643.33 94.38,617.72 94.45,610.64 94.53,623.19 94.6,613.39 94.68,619.79 94.75,623.9 94.82,631.35 94.9,608.02 94.97,655.31 95.05,638.62 95.12,627.76 95.2,624.67 95.27,640.98 95.35,617.54 95.42,626.82 95.49,627.79 95.57,618.52 95.64,617.37 95.72,627.72 95.79,622.28 95.87,617.88 95.94,621.26 96.01,621.03 96.09,619.79 96.16,625.6 96.24,614.91 96.31,610.96 96.39,623.37 96.46,631.95 96.54,615.98 96.61,619.44 96.68,613.21 96.76,626.2 96.83,620.94 96.91,611.04 96.98,619.85 97.06,617.89 97.13,608.56 97.2,625.75 97.28,620.36 97.35,621.79 97.43,636.39 97.5,613.69 97.58,620.14 97.65,618.75 97.72,608.05 97.8,617.56 97.87,613.52 97.95,631.48 98.02,614.67 98.1,611.39 98.17,619.47 98.25,627.67 98.32,612.99 98.39,623.19 98.47,639.42 98.54,622.79 98.62,631.79 98.69,626.74 98.77,640.42 98.84,618.63 98.91,619.05 98.99,617.46 99.06,617.87 99.14,626.38 99.21,619.83 99.29,637.78 99.36,616.96 99.44,626.35 99.51,630.96 99.58,623.39 99.66,625.37 99.73,620.79 99.81,615.87 99.88,620.4 99.96,620.92 100.03,610.37 100.1,626.68 100.18,612.92 100.25,623.92 100.33,615.17 100.4,618.9 100.48,630.1 100.55,632.27 100.62,620.31 100.7,625.31 100.77,617.9 100.85,634.82 100.92,622.03 101,635.5 101.07,665.7 101.15,629.13 101.22,636.47 101.29,617.91 101.37,625.18 101.44,623.46 101.52,615.52 101.59,631.85 101.67,612.53 101.74,614.44 101.81,614.82 101.89,616.7 101.96,632.38 102.04,621.32 102.11,620.48 102.19,613.11 102.26,642.27 102.34,620.81 102.41,616.17 102.48,619.27 102.56,632.57 102.63,624.36 102.71,640.52 102.78,617.96 102.86,640.05 102.93,621.26 103,626.7 103.08,622.22 103.15,613.88 103.23,628.9 103.3,622.68 103.38,619.21 103.45,618.47 103.52,614.32 103.6,629.23 103.67,612.13 103.75,626.7 103.82,630.7 103.9,627.51 103.97,607.38 104.05,623.8 104.12,615.76 104.19,624.72 104.27,616.71 104.34,619.15 104.42,612.11 104.49,617.23 104.57,615.5 104.64,619.35 104.71,615.21 104.79,617 104.86,613.59 104.94,626.88 105.01,630.19 105.09,621.29 105.16,627 105.24,614.2 105.31,617.9 105.38,624.93 105.46,617.24 105.53,625.52 105.61,625.93 105.68,618.99 105.76,615.67 105.83,621.21 105.9,630.98 105.98,617.41 106.05,628.43 106.13,614.56 106.2,629.92 106.28,615.12 106.35,624.33 106.42,623.84 106.5,621.43 106.57,622.32 106.65,614.82 106.72,629.18 106.8,612.25 106.87,620.77 106.95,622.58 107.02,623.08 107.09,638.42 107.17,631.94 107.24,624.86 107.32,611.1 107.39,612.77 107.47,605.76 107.54,641.51 107.61,633.29 107.69,634.49 107.76,608.54 107.84,619.58 107.91,622.57 107.99,651.15 108.06,612.54 108.14,629.82 108.21,617.13 108.28,619.76 108.36,609.77 108.43,627.97 108.51,626.71 108.58,624.94 108.66,623.12 108.73,622.13 108.8,650.88 108.88,613.21 108.95,617.22 109.03,616.89 109.1,613.11 109.18,614.31 109.25,621.13 109.32,612.54 109.4,622.96 109.47,613.86 109.55,642.44 109.62,644.77 109.7,635.9 109.77,614.84 109.85,617.42 109.92,669.43 109.99,630.37 110.07,615.81 110.14,625.36 110.22,615.8 110.29,629.8 110.37,642.01 110.44,626.46 110.51,632.71 110.59,618.71 110.66,616.11 110.74,629.85 110.81,654.72 110.89,647.89 110.96,634.41 111.04,617.62 111.11,629.48 111.18,630.3 111.26,626.55 111.33,630.06 111.41,623.35 111.48,614.85 111.56,617.2 111.63,616.08 111.7,618.35 111.78,642.95 111.85,606.47 111.93,624.56 112,616.68 112.08,631.95 112.15,621.1 112.22,625.93 112.3,620.57 112.37,621.17 112.45,638.6 112.52,623.73 112.6,624.55 112.67,622.18 112.75,623.38 112.82,619.76 112.89,613.4 112.97,624.42 113.04,621.39 113.12,615.56 113.19,627.68 113.27,628.6 113.34,632.04 113.41,630.07 113.49,622.6 113.56,613.91 113.64,620.73 113.71,613.91 113.79,612.2 113.86,618.38 113.93,614.39 114.01,608.45 114.08,620.59 114.16,613.49 114.23,628.16 114.31,632.8 114.38,629.41 114.46,615.3 114.53,632.74 114.6,640.79 114.68,625.36 114.75,618.3 114.83,628.22 114.9,626.7 114.98,618.07 115.05,616.14 115.12,615.55 115.2,613.86 115.27,619.42 115.35,616.72 115.42,626.66 115.5,630.78 115.57,622.33 115.65,616.95 115.72,612.12 115.79,616.27 115.87,628.07 115.94,625.96 116.02,617.28 116.09,615.76 116.17,627.49 116.24,621.82 116.31,615.8 116.39,616.76 116.46,612.46 116.54,622.54 116.61,610.68 116.69,619.92 116.76,621.87 116.83,619.85 116.91,637.43 116.98,630.64 117.06,617.07 117.13,617.97 117.21,618.06 117.28,619.51 117.36,635.94 117.43,620.05 117.5,633.67 117.58,623.14 117.65,621.36 117.73,640.78 117.8,616.43 117.88,629.43 117.95,625.53 118.02,623.94 118.1,636.55 118.17,650.01 118.25,628.51 118.32,630.75 118.4,620.62 118.47,611.74 118.55,629.28 118.62,620.83 118.69,618.56 118.77,619.96 118.84,633.91 118.92,612.73 118.99,636 119.07,618.58 119.14,613.85 119.21,628.57 119.29,617.9 119.36,635.52 119.44,617.89 119.51,625.68 119.59,631.23 119.66,629.4 119.73,614.51 119.81,610.79 119.88,613.62 119.96,622.92 120.03,619.53 120.11,620.58 120.18,626.3 120.26,621.44 120.33,643.5 120.4,625.82 120.48,618.66 120.55,617.89 120.63,633.27 120.7,621.94 120.78,621 120.85,635.46 120.92,633.87 121,633.19 121.07,617.97 121.15,616.38 121.22,624.17 121.3,620.83 121.37,609.01 121.45,624.73 121.52,618.65 121.59,616.29 121.67,640.85 121.74,609.63 121.82,632.99 121.89,630.57 121.97,632.04 122.04,615.12 122.11,619.25 122.19,619.1 122.26,666.05 122.34,626.97 122.41,609.51 122.49,617.9 122.56,630.37 122.63,629.03 122.71,637.01 122.78,625.64 122.86,628.16 122.93,629.12 123.01,621.68 123.08,621.42 123.16,618.23 123.23,636.94 123.3,641.92 123.38,632.06 123.45,628.95 123.53,614.79 123.6,636.39 123.68,634.88 123.75,615.71 123.82,634.47 123.9,625.57 123.97,613.94 124.05,627.35 124.12,635.92 124.2,656.67 124.27,627.98 124.35,624.21 124.42,625.92 124.49,640.34 124.57,644.39 124.64,616.13 124.72,618.4 124.79,631.05 124.87,617.61 124.94,614.9 125.01,634.12 125.09,629.78 125.16,625.19 125.24,607.43 125.31,620.82 125.39,614.86 125.46,633.17 125.53,630.02 125.61,622.87 125.68,615.65 125.76,624.18 125.83,608.59 125.91,622.43 125.98,652.34 126.06,642.39 126.13,624.98 126.2,617.49 126.28,614.98 126.35,626.79 126.43,628.38 126.5,625.48 126.58,626.88 126.65,637.05 126.72,619.27 126.8,614.76 126.87,633.35 126.95,622.71 127.02,637.59 127.1,630.94 127.17,616.11 127.25,627.41 127.32,625.09 127.39,606.15 127.47,623.39 127.54,629.01 127.62,618.86 127.69,621.02 127.77,611.83 127.84,625.68 127.91,621.36 127.99,615.74 128.06,619.1 128.14,624.46 128.21,612.86 128.29,612.92 128.36,631.02 128.43,658.74 128.51,621.83 128.58,660.22 128.66,615.62 128.73,621.13 128.81,614.31 128.88,620.42 128.96,613.02 129.03,621.39 129.1,617.96 129.18,623.78 129.25,640.82 129.33,624.54 129.4,628.22 129.48,608.22 129.55,621.35 129.62,623.65 129.7,627.96 129.77,625.98 129.85,627.57 129.92,614.46 130,616.83 130.07,612.22 130.15,632.01 130.22,622.61 130.29,618.59 130.37,614.71 130.44,628.14 130.52,622.74 130.59,639.83 130.67,627.85 130.74,620.76 130.81,613.9 130.89,627.78 130.96,623.12 131.04,624.22 131.11,621.35 131.19,622.98 131.26,626.18 131.33,611.08 131.41,636.48 131.48,624.45 131.56,631.73 131.63,618.78 131.71,632.82 131.78,618.04 131.86,612.3 131.93,613.59 132,628.93 132.08,636 132.15,625.73 132.23,615.13 132.3,623.06 132.38,622.81 132.45,643.27 132.52,620.73 132.6,633.18 132.67,648.85 132.75,646.79 132.82,612.2 132.9,625.26 132.97,628.29 133.05,616.4 133.12,650.75 133.19,631.86 133.27,628.27 133.34,623.27 133.42,622.55 133.49,626.99 133.57,618.16 133.64,625.48 133.71,625.05 133.79,626.04 133.86,621.1 133.94,653.23 134.01,616.15 134.09,625.25 134.16,617.77 134.23,627.21 134.31,635.56 134.38,628.97 134.46,618.08 134.53,617.42 134.61,624.42 134.68,614.35 134.76,622.97 134.83,616.61 134.9,636.22 134.98,621.53 135.05,624.02 135.13,625.56 135.2,632.84 135.28,629.95 135.35,633.27 135.42,625.92 135.5,615.81 135.57,622.06 135.65,630.48 135.72,630.8 135.8,632.32 135.87,631.52 135.94,615.67 136.02,639.14 136.09,643.87 136.17,632.04 136.24,630.13 136.32,644.74 136.39,635.13 136.47,629.57 136.54,615.32 136.61,626.17 136.69,618.02 136.76,625.26 136.84,618.07 136.91,627.14 136.99,644.98 137.06,617.63 137.13,646.66 137.21,669.19 137.28,611.97 137.36,624.82 137.43,611.95 137.51,617.92 137.58,624.15 137.66,619.39 137.73,620.27 137.8,666.34 137.88,618.87 137.95,624.05 138.03,631.86 138.1,630.09 138.18,629.18 138.25,610.96 138.32,642.52 138.4,631.91 138.47,617.99 138.55,625.8 138.62,630.29 138.7,631.46 138.77,632.56 138.84,618.71 138.92,630.31 138.99,638.44 139.07,616.92 139.14,643.29 139.22,643.94 139.29,614.24 139.37,623.35 139.44,617.2 139.51,631.58 139.59,620.9 139.66,626.11 139.74,645.64 139.81,625.31 139.89,612.75 139.96,615.53 140.03,615.59 140.11,633.7 140.18,635.83 140.26,633.68 140.33,628.03 140.41,620.58 140.48,627.67 140.56,627.56 140.63,618.75 140.7,625.66 140.78,628.08 140.85,615.92 140.93,621.13 141,618.16 141.08,616.52 141.15,668.59 141.22,615.36 141.3,623.05 141.37,634.82 141.45,636.29 141.52,625.75 141.6,610.97 141.67,629.91 141.74,632.66 141.82,634 141.89,608.23 141.97,608.98 142.04,675.3 142.12,617.79 142.19,615.93 142.27,646.11 142.34,630.2 142.41,617.41 142.49,611.5 142.56,620.68 142.64,625.74 142.71,651.71 142.79,629.98 142.86,620.58 142.93,637.46 143.01,620.85 143.08,621.18 143.16,628.95 143.23,631.47 143.31,628.76 143.38,657.22 143.46,616.85 143.53,611.91 143.6,621.55 143.68,629.33 143.75,625.94 143.83,630.68 143.9,613.85 143.98,626.32 144.05,665.44 144.12,632.71 144.2,616.7 144.27,656.37 144.35,630.37 144.42,617.46 144.5,637.51 144.57,627.7 144.64,650.64 144.72,624.42 144.79,620.38 144.87,634.16 144.94,620.33 145.02,628.01 145.09,618.09 145.17,639.31 145.24,617.94 145.31,636.6 145.39,620.79 145.46,620.68 145.54,637.37 145.61,624.26 145.69,628.82 145.76,626.84 145.83,637.94 145.91,620.12 145.98,617.43 146.06,662.75 146.13,666.83 146.21,619.49 146.28,633.88 146.36,617.49 146.43,625.91 146.5,624.63 146.58,629.91 146.65,642.84 146.73,619.75 146.8,631.83 146.88,616.72 146.95,647.85 147.02,648.41 147.1,623.45 147.17,625.12 147.25,633.48 147.32,625.57 147.4,622.31 147.47,627.54 147.54,636.04 147.62,647.75 147.69,634.02 147.77,610.97 147.84,615.19 147.92,623.51 147.99,633.85 148.07,625.31 148.14,620.44 148.21,613.36 148.29,636.14 148.36,631.24 148.44,609.94 148.51,623.03 148.59,617.18 148.66,631.7 148.73,619.13 148.81,628.44 148.88,621.48 148.96,615.32 149.03,619.87 149.11,628.44 149.18,634.98 149.26,627.33 149.33,633.72 149.4,639.7 149.48,620.16 149.55,630.97 149.63,613.25 149.7,625.92 149.78,613.72 149.85,629.81 149.92,630.4 150,623.39 150.07,626.7 150.15,631.05 150.22,618.04 150.3,626.14 150.37,621.41 150.44,675.3 150.52,621.6 150.59,629.92 150.67,627.93 150.74,628.57 150.82,622.74 150.89,638.63 150.97,626.7 151.04,621.08 151.11,634.68 151.19,628.19 151.26,619.15 151.34,624.54 151.41,622.36 151.49,618.34 151.56,619.13 151.63,628.88 151.71,626.49 151.78,625.2 151.86,626.1 151.93,621.15 152.01,639.05 152.08,633.78 152.16,637.66 152.23,629.01 152.3,632.95 152.38,622.99 152.45,657.79 152.53,626.32 152.6,625.51 152.68,673.96 152.75,619.63 152.82,620.51 152.9,619.28 152.97,627.98 153.05,621.8 153.12,631.12 153.2,642.31 153.27,629.66 153.34,628.07 153.42,623.73 153.49,640.26 153.57,634.11 153.64,618.37 153.72,641.28 153.79,610.33 153.87,649.43 153.94,637.79 154.01,635.42 154.09,630.84 154.16,625.5 154.24,623.74 154.31,642.31 154.39,621.97 154.46,620.45 154.53,622.35 154.61,675.3 154.68,644.81 154.76,626.1 154.83,624.32 154.91,674.01 154.98,639.19 155.06,634.67 155.13,631.08 155.2,623.17 155.28,628.86 155.35,641.3 155.43,624.55 155.5,625.22 155.58,640.53 155.65,642.64 155.72,638.17 155.8,621.21 155.87,644.12 155.95,630.44 156.02,623.79 156.1,640 156.17,631.75 156.24,625.66 156.32,641.64 156.39,636.31 156.47,624.84 156.54,639.17 156.62,648.56 156.69,644.78 156.77,624.37 156.84,621.49 156.91,621.24 156.99,642.75 157.06,643.52 157.14,629.13 157.21,628.7 157.29,638.23 157.36,630.54 157.43,619.34 157.51,649.95 157.58,628.61 157.66,625.55 157.73,621.09 157.81,627.57 157.88,634.76 157.95,627.44 158.03,619.79 158.1,610.61 158.18,623.59 158.25,616.84 158.33,633.71 158.4,634.15 158.48,644.27 158.55,624.45 158.62,627.74 158.7,624.25 158.77,644.34 158.85,621.96 158.92,618.46 159,633.18 159.07,618.36 159.14,628.62 159.22,626.98 159.29,617.67 159.37,616.77 159.44,629.32 159.52,610.87 159.59,629.61 159.67,630.77 159.74,627.23 159.81,629.97 159.89,616.31 159.96,616.43 160.04,617.91 160.11,608.21 160.19,632.16 160.26,627.06 160.33,642.95 160.41,653.15 160.48,635.32 160.56,614.02 160.63,610.88 160.71,616.78 160.78,626.88 160.85,625.95 160.93,617.96 161,621.14 161.08,622.06 161.15,635.89 161.23,618.64 161.3,620.77 161.38,634.91 161.45,636.59 161.52,635.97 161.6,646.3 161.67,621.93 161.75,629.25 161.82,625.86 161.9,616.01 161.97,657.89 162.04,623.16 162.12,649.21 162.19,619.64 162.27,636.22 162.34,615.22 162.42,619 162.49,620.93 162.57,607.34 162.64,628.67 162.71,638.96 162.79,629.37 162.86,622.27 162.94,613.42 163.01,633.92 163.09,624.78 163.16,627.9 163.23,643.55 163.31,630.79 163.38,647.13 163.46,636.77 163.53,642.3 163.61,634.14 163.68,636.84 163.75,621.93 163.83,621.73 163.9,624.44 163.98,619.16 164.05,635.69 164.13,629.84 164.2,635.58 164.28,618.56 164.35,636.48 164.42,628.39 164.5,618.57 164.57,632.6 164.65,617.67 164.72,670.99 164.8,627.21 164.87,644.2 164.94,633.46 165.02,626.78 165.09,634.11 165.17,636.22 165.24,664.22 165.32,632.98 165.39,650.99 165.47,624.12 165.54,622.94 165.61,636.49 165.69,622.26 165.76,632.78 165.84,636.75 165.91,621.71 165.99,630.04 166.06,618.26 166.13,624.01 166.21,619.38 166.28,634.27 166.36,624.95 166.43,625.97 166.51,635.64 166.58,621.83 166.65,617.6 166.73,643.32 166.8,625.13 166.88,626.3 166.95,620.1 167.03,621.83 167.1,618.65 167.18,628.91 167.25,615.66 167.32,626.93 167.4,618.36 167.47,641.13 167.55,619.3 167.62,625.61 167.7,637.71 167.77,636.97 167.84,635.13 167.92,636.58 167.99,617.03 168.07,619.57 168.14,638.13 168.22,619.84 168.29,620.47 168.37,617.91 168.44,620.05 168.51,624.6 168.59,617.49 168.66,622.43 168.74,628.84 168.81,616.48 168.89,636.86 168.96,623.99 169.03,630.47 169.11,611.45 169.18,613.21 169.26,634.98 169.33,629.28 169.41,623.03 169.48,613.67 169.55,631.05 169.63,625.96 169.7,643.75 169.78,623.21 169.85,626.85 169.93,675.3 170,645.12 170.08,610.03 170.15,624.1 170.22,616.24 170.3,630.97 170.37,642.94 170.45,617.64 170.52,616.66 170.6,639.51 170.67,618.54 170.74,620.67 170.82,639.56 170.89,629.87 170.97,637.26 171.04,633.69 171.12,636.07 171.19,613.06 171.27,622.53 171.34,622.13 171.41,627.5 171.49,625.99 171.56,619.38 171.64,631.25 171.71,623.21 171.79,633.57 171.86,633.23 171.93,628.71 172.01,624.68 172.08,627.35 172.16,623.77 172.23,630.32 172.31,619.77 172.38,616.71 172.45,626.19 172.53,615.23 172.6,619.7 172.68,619.99 172.75,617.95 172.83,623.13 172.9,632.62 172.98,627.27 173.05,641.08 173.12,625.64 173.2,626.72 173.27,620.44 173.35,624.67 173.42,647.24 173.5,625.85 173.57,635.36 173.64,646.98 173.72,623.48 173.79,649.34 173.87,630.29 173.94,615.57 174.02,619.53 174.09,647.84 174.17,622.86 174.24,645.47 174.31,634.1 174.39,628.35 174.46,633.02 174.54,627.85 174.61,630.08 174.69,624.38 174.76,622.41 174.83,612.18 174.91,625.28 174.98,624.62 175.06,621.5 175.13,629.39 175.21,645.11 175.28,640.06 175.35,620.47 175.43,624.27 175.5,621.28 175.58,633.23 175.65,619.73 175.73,625.08 175.8,636.11 175.88,638.72 175.95,616.53 176.02,631.9 176.1,627.61 176.17,639.8 176.25,625.79 176.32,653.56 176.4,629.24 176.47,620.99 176.54,619.15 176.62,634.26 176.69,628.44 176.77,624.68 176.84,622.87 176.92,621.04 176.99,628.74 177.07,625.71 177.14,664.43 177.21,638.37 177.29,621.32 177.36,632.62 177.44,622.74 177.51,621.55 177.59,621.03 177.66,636.08 177.73,622.4 177.81,615.99 177.88,631.71 177.96,631 178.03,632.12 178.11,635.38 178.18,617.59 178.25,636.02 178.33,630.43 178.4,627.8 178.48,644.71 178.55,627.24 178.63,630.41 178.7,630.06 178.78,628.84 178.85,620.62 178.92,628.62 179,621.1 179.07,638.27 179.15,624.37 179.22,634.12 179.3,630.43 179.37,614.64 179.44,634.11 179.52,612.83 179.59,628.27 179.67,635.59 179.74,634.23 179.82,625.57 179.89,632.68 179.96,622.59 180.04,648.45 180.11,637.07 180.19,615.23 180.26,635.35 180.34,619.08 180.41,624.07 180.49,624.9 180.56,627.66 180.63,615.78 180.71,640.85 180.78,620.16 180.86,627.85 180.93,627.65 181.01,618.67 181.08,629.95 181.15,620.13 181.23,619.89 181.3,622.43 181.38,630.45 181.45,635.93 181.53,645.59 181.6,609.85 181.68,647.2 181.75,624.72 181.82,622.21 181.9,631.64 181.97,628.84 182.05,615.3 182.12,613.14 182.2,631 182.27,635.39 182.34,628.18 182.42,629.88 182.49,630.98 182.57,637.74 182.64,623.89 182.72,640.45 182.79,618.66 182.86,627.59 182.94,614.93 183.01,613.52 183.09,619.07 183.16,617.98 183.24,634.94 183.31,637.34 183.39,624.3 183.46,622.29 183.53,628.89 183.61,631 183.68,644.71 183.76,636.26 183.83,628.63 183.91,645.56 183.98,616.74 184.05,620.63 184.13,632.01 184.2,626.17 184.28,619.17 184.35,630.36 184.43,630.85 184.5,619.49 184.58,622.17 184.65,616.72 184.72,622.56 184.8,626.56 184.87,622.25 184.95,637.56 185.02,620.14 185.1,635.49 185.17,626.63 185.24,622.61 185.32,621.33 185.39,644.76 185.47,629.25 185.54,625.56 185.62,636.27 185.69,617.78 185.76,636.97 185.84,628.66 185.91,621.26 185.99,632.24 186.06,628.32 186.14,655.5 186.21,621.9 186.29,628.44 186.36,660.91 186.43,641.35 186.51,626.19 186.58,653.77 186.66,630.57 186.73,623.27 186.81,619 186.88,616.6 186.95,629.95 187.03,633 187.1,638.65 187.18,635.95 187.25,617.33 187.33,617.3 187.4,620.2 187.48,626.09 187.55,624.4 187.62,629.29 187.7,618.33 187.77,628.57 187.85,629.9 187.92,614.53 188,626.68 188.07,628.38 188.14,638.92 188.22,622 188.29,620.42 188.37,621.81 188.44,617.93 188.52,656.79 188.59,618.94 188.66,628.91 188.74,640.24 188.81,627.51 188.89,622.55 188.96,616.57 189.04,621.18 189.11,640.28 189.19,625.79 189.26,618.21 189.33,629.37 189.41,634.78 189.48,626.09 189.56,614.71 189.63,617.66 189.71,621.94 189.78,619.97 189.85,630.63 189.93,624.81 190,644.92 190.08,627.25 190.15,623 190.23,623.24 190.3,623.53 190.38,631.75 190.45,634.95 190.52,675.3 190.6,618.64 190.67,648.08 190.75,616.1 190.82,645.23 190.9,630.51 190.97,635.13 191.04,630.99 191.12,653.39 191.19,616.55 191.27,615.39 191.34,643.98 191.42,675.3 191.49,625.57 191.56,629 191.64,623.16 191.71,630.41 191.79,626.09 191.86,675.3 191.94,635.19 192.01,643.27 192.09,628.49 192.16,632.67 192.23,626.04 192.31,624.7 192.38,625.34 192.46,621.79 192.53,623.4 192.61,614.41 192.68,635.15 192.75,620.29 192.83,624 192.9,633.52 192.98,623.51 193.05,634.37 193.13,635.7 193.2,631.51 193.28,630.86 193.35,620.61 193.42,618.8 193.5,665.65 193.57,621.05 193.65,615.19 193.72,622.67 193.8,614.33 193.87,619.89 193.94,641.32 194.02,643.36 194.09,624.92 194.17,623.21 194.24,634.72 194.32,626.57 194.39,630.76 194.46,639.91 194.54,627.1 194.61,625.73 194.69,623.35 194.76,621.43 194.84,633.16 194.91,615.44 194.99,618.64 195.06,617.45 195.13,622.69 195.21,624.4 195.28,625.84 195.36,623.11 195.43,626.26 195.51,643.53 195.58,629.6 195.65,627.95 195.73,616.82 195.8,623.75 195.88,616.62 195.95,629.53 196.03,635.84 196.1,659.85 196.18,636.56 196.25,623.78 196.32,675.09 196.4,622.26 196.47,623.92 196.55,629.36 196.62,632.26 196.7,621.55 196.77,622.61 196.84,675.3 196.92,620.05 196.99,629.19 197.07,637.31 197.14,616.3 197.22,621.34 197.29,612.11 197.36,648.13 197.44,638.68 197.51,631.62 197.59,636.52 197.66,632.44 197.74,618.63 197.81,620.48 197.89,615.61 197.96,621.87 198.03,624.38 198.11,624.74 198.18,629.55 198.26,625.68 198.33,616.09 198.41,631.15 198.48,621.47 198.55,631.25 198.63,645.37 198.7,623.33 198.78,631.29 198.85,623.69 198.93,615.27 199,633.35 199.08,620.62 199.15,618.38 199.22,624.41 199.3,634.63 199.37,617.81 199.45,631.31 199.52,622.73 199.6,648.63 199.67,628.54 199.74,619.03 199.82,640.88 199.89,633.41 199.97,623.81 200.04,629.26 200.12,624.35 200.19,639.3 200.26,625.29 200.34,630.9 200.41,611.71 200.49,634.68 200.56,627.73 200.64,628.72 200.71,616.16 200.79,621.33 200.86,631.67 200.93,607.45 201.01,623.2 201.08,621.39 201.16,618.69 201.23,624.39 201.31,644.02 201.38,630.23 201.45,618.61 201.53,623.93 201.6,638.38 201.68,620.3 201.75,626.95 201.83,623.46 201.9,626.09 201.97,613.55 202.05,621.31 202.12,620.41 202.2,629.55 202.27,634.92 202.35,632.99 202.42,640.99 202.5,639.16 202.57,642.37 202.64,655.71 202.72,645.55 202.79,644.78 202.87,632.93 202.94,638.47 203.02,626.5 203.09,626.83 203.16,647.2 203.24,620.56 203.31,618.12 203.39,628.89 203.46,633.98 203.54,655.63 203.61,620.78 203.69,623.82 203.76,633.37 203.83,616.49 203.91,625.36 203.98,618.96 204.06,630 204.13,619.43 204.21,613.47 204.28,628.8 204.35,623.49 204.43,625.21 204.5,631.28 204.58,661.39 204.65,630.8 204.73,618.65 204.8,636.31 204.87,628.17 204.95,626.32 205.02,620.63 205.1,637.44 205.17,635.32 205.25,635.15 205.32,645.19 205.4,633.86 205.47,627.38 205.54,637.78 205.62,632.97 205.69,617.16 205.77,626.61 205.84,610.03 205.92,618.81 205.99,625.77 206.06,622.11 206.14,632.2 206.21,612.4 206.29,642.68 206.36,638.47 206.44,638.25 206.51,632.93 206.59,626.91 206.66,626.37 206.73,631.41 206.81,625.62 206.88,627.84 206.96,622.53 207.03,627.73 207.11,672.64 207.18,628.6 207.25,631.92 207.33,622.72 207.4,623.22 207.48,622.68 207.55,615.99 207.63,639.42 207.7,627.26 207.77,639.23 207.85,619.6 207.92,639.53 208,628.27 208.07,631.52 208.15,626.3 208.22,642.8 208.3,625.36 208.37,626.1 208.44,624.56 208.52,631.96 208.59,637.24 208.67,618.49 208.74,628.43 208.82,639.74 208.89,620.22 208.96,625.13 209.04,621.99 209.11,626.99 209.19,618.03 209.26,631.29 209.34,627.12 209.41,632.02 209.49,627.17 209.56,627.2 209.63,622.08 209.71,615.35 209.78,625.81 209.86,626.49 209.93,624.83 210.01,629.34 210.08,626.85 210.15,626.67 210.23,630.86 210.3,620.18 210.38,624.32 210.45,627.72 210.53,653.55 210.6,626.13 210.67,619.95 210.75,621.47 210.82,616.13 210.9,620.85 210.97,629.11 211.05,647.13 211.12,631.29 211.2,620.71 211.27,630.32 211.34,633.95 211.42,625.65 211.49,624.92 211.57,617.06 211.64,633.03 211.72,626.2 211.79,632.72 211.86,625.47 211.94,641.17 212.01,620.64 212.09,630.36 212.16,627.78 212.24,622.11 212.31,615.81 212.39,637.3 212.46,632.87 212.53,675.3 212.61,675.3 212.68,636.42 212.76,622.16 212.83,632 212.91,625.28 212.98,639.89 213.05,629.64 213.13,630.01 213.2,635.83 213.28,613.97 213.35,624.52 213.43,627.5 213.5,671.39 213.57,640.37 213.65,614.12 213.72,619.53 213.8,615.36 213.87,620.74 213.95,624.11 214.02,634.01 214.1,631.61 214.17,629.58 214.24,624.26 214.32,623.42 214.39,628.48 214.47,624.9 214.54,626.01 214.62,620.31 214.69,614.81 214.76,652.22 214.84,640.81 214.91,636.21 214.99,639.25 215.06,617.78 215.14,626.81 215.21,630.15 215.29,628.39 215.36,629.9 215.43,617.76 215.51,625.39 215.58,623.76 215.66,638.07 215.73,623.94 215.81,628.63 215.88,630.92 215.95,629.08 216.03,637.26 216.1,617.21 216.18,617.28 216.25,621.24 216.33,618.8 216.4,645.34 216.47,638.59 216.55,631.37 216.62,637.06 216.7,616.08 216.77,624.84 216.85,627.51 216.92,625.76 217,643.78 217.07,621.07 217.14,623.61 217.22,641.49 217.29,629.88 217.37,626.51 217.44,623.25 217.52,621.32 217.59,652.02 217.66,629.8 217.74,634.42 217.81,633 217.89,627.78 217.96,626.43 218.04,633.26 218.11,623.88 218.19,633.41 218.26,634.34 218.33,626.79 218.41,635.94 218.48,614.44 218.56,625.22 218.63,625.11 218.71,634.55 218.78,624.65 218.85,623.9 218.93,623.42 219,619.41 219.08,619.81 219.15,633.01 219.23,621.78 219.3,636.57 219.37,611.89 219.45,618.32 219.52,616.95 219.6,617.49 219.67,640 219.75,629.44 219.82,629.7 219.9,629.39 219.97,630.25 220.04,617.41 220.12,649.23 220.19,614.65 220.27,626.45 220.34,622.93 220.42,635.81 220.49,618.02 220.56,620.86 220.64,619 220.71,632.76 220.79,650.96 220.86,636.76 220.94,620.96 221.01,620.23 221.09,614.57 221.16,647.9 221.23,643.61 221.31,620.39 221.38,612.86 221.46,625.73 221.53,614.16 221.61,627.93 221.68,630.7 221.75,642.3 221.83,650.1 221.9,623.74 221.98,647.15 222.05,615.06 222.13,618.58 222.2,624.48 222.27,637.2 222.35,627.72 222.42,635.51 222.5,615.59 222.57,627.61 222.65,621.81 222.72,610.99 222.8,633.1 222.87,619.48 222.94,631.74 223.02,628.42 223.09,631.07 223.17,616.51 223.24,648.46 223.32,620.44 223.39,631.04 223.46,624.32 223.54,620.38 223.61,621.6 223.69,646.33 223.76,637.75 223.84,640.15 223.91,620.2 223.98,618.15 224.06,628.48 224.13,629.15 224.21,628.5 224.28,631.88 224.36,631.21 224.43,615.88 224.51,634.32 224.58,629.19 224.65,617.5 224.73,630.18 224.8,617.83 224.88,631.63 224.95,620.13 225.03,629.45 225.1,629.47 225.17,628.54 225.25,636.16 225.32,620.15 225.4,626.69 225.47,636.09 225.55,620.97 225.62,646.84 225.7,619.49 225.77,626.88 225.84,623.42 225.92,623.9 225.99,624.74 226.07,620.73 226.14,634.93 226.22,620.22 226.29,641.18 226.36,612.8 226.44,650.77 226.51,641.63 226.59,641.89 226.66,620.45 226.74,616.06 226.81,622.26 226.88,627.75 226.96,627.26 227.03,632.89 227.11,624.53 227.18,649.52 227.26,624.88 227.33,641.46 227.41,627.24 227.48,624.34 227.55,627.33 227.63,649.89 227.7,623.99 227.78,619.75 227.85,652.5 227.93,633.21 228,619.33 228.07,632.6 228.15,628.09 228.22,635.43 228.3,631.73 228.37,625.36 228.45,640 228.52,620.1 228.6,628.95 228.67,632.68 228.74,633 228.82,624.27 228.89,616.89 228.97,638.75 229.04,621.4 229.12,627.54 229.19,629.36 229.26,617.21 229.34,622.25 229.41,629.64 229.49,637.58 229.56,637.89 229.64,623.34 229.71,616.36 229.78,616.72 229.86,618.65 229.93,626.95 230.01,629.72 230.08,625.86 230.16,622.79 230.23,627.75 230.31,626.88 230.38,623.26 230.45,627.39 230.53,632.21 230.6,665.28 230.68,632.2 230.75,618.93 230.83,628.11 230.9,617.98 230.97,614.08 231.05,641.68 231.12,628.87 231.2,627.34 231.27,643.92 231.35,631 231.42,621.24 231.5,625.13 231.57,629.66 231.64,635.03 231.72,618.79 231.79,637.63 231.87,640.95 231.94,621.06 232.02,628.7 232.09,626.73 232.16,619.92 232.24,629.98 232.31,620.94 232.39,628.89 232.46,625.33 232.54,627.99 232.61,632.81 232.68,630.65 232.76,618.65 232.83,624.69 232.91,631.97 232.98,624.81 233.06,621.34 233.13,615.42 233.21,628.31 233.28,620.9 233.35,624.82 233.43,637.05 233.5,644.39 233.58,627.02 233.65,625.18 233.73,622.79 233.8,629.58 233.87,650.86 233.95,617.55 234.02,645.11 234.1,631.53 234.17,634.04 234.25,629.35 234.32,636.71 234.4,624.86 234.47,651.57 234.54,622.8 234.62,628.96 234.69,617.65 234.77,616.01 234.84,628.32 234.92,616.25 234.99,628.19 235.06,636.32 235.14,629.95 235.21,618.14 235.29,640.7 235.36,627.61 235.44,653.08 235.51,666.99 235.58,637.17 235.66,620.67 235.73,623.25 235.81,632.81 235.88,637.48 235.96,630.37 236.03,626.02 236.11,617.54 236.18,629.23 236.25,618.4 236.33,632.82 236.4,628.21 236.48,625.8 236.55,675.3 236.63,640.51 236.7,624.37 236.77,621.26 236.85,637.76 236.92,621.53 237,621.55 237.07,623.86 237.15,626.22 237.22,631.82 237.3,622.03 237.37,622.74 237.44,616.93 237.52,620.8 237.59,654.29 237.67,632.09 237.74,615.71 237.82,622.52 237.89,638.19 237.96,644.7 238.04,627.77 238.11,624.86 238.19,619.53 238.26,615.75 238.34,623.39 238.41,625.07 238.48,644.14 238.56,637.92 238.63,629.46 238.71,625.26 238.78,625.26 238.86,619.37 238.93,639.63 239.01,614.68 239.08,619.38 239.15,624.16 239.23,626.26 239.3,634.16 239.38,622.29 239.45,630.97 239.53,666.39 239.6,630.86 239.67,627.94 239.75,643.4 239.82,623.16 239.9,632.71 239.97,627.08 240.05,627.64 240.12,624.62 240.2,619.69 240.27,628.84 240.34,633.31 240.42,616.62 240.49,621.46 240.57,625.51 240.64,628.48 240.72,634.74 240.79,668.33 240.86,635.2 240.94,626.67 241.01,629.29 241.09,624.36 241.16,643.78 241.24,621.22 241.31,617.08 241.38,623.53 241.46,642.73 241.53,637.27 241.61,628.39 241.68,625.61 241.76,627.65 241.83,625.6 241.91,629.01 241.98,614.74 242.05,625.79 242.13,621.38 242.2,628.4 242.28,654.67 242.35,644.93 242.43,627.28 242.5,650.37 242.57,637.57 242.65,644 242.72,627.71 242.8,621.91 242.87,675.3 242.95,616.2 243.02,632.69 243.1,622.96 243.17,625.1 243.24,633.15 243.32,630.34 243.39,628.25 243.47,631.11 243.54,631.72 243.62,629.32 243.69,626.65 243.76,637.12 243.84,622.35 243.91,634.35 243.99,640.36 244.06,625.29 244.14,625.44 244.21,619.71 244.28,613.53 244.36,625.49 244.43,622.45 244.51,621.37 244.58,626.29 244.66,643.03 244.73,620.67 244.81,622.68 244.88,619.86 244.95,630.26 245.03,622.27 245.1,619.97 245.18,633.97 245.25,637.82 245.33,636.4 245.4,655.49 245.47,635.19 245.55,635.49 245.62,628.02 245.7,619.89 245.77,629.03 245.85,640.22 245.92,620.35 245.99,620.95 246.07,649.25 246.14,623.3 246.22,624.82 246.29,621.82 246.37,646 246.44,612.67 246.52,624.96 246.59,622.28 246.66,622.1 246.74,629.75 246.81,629.66 246.89,625.16 246.96,626.22 247.04,626.2 247.11,620.67 247.18,643.36 247.26,621.11 247.33,635.25 247.41,621.85 247.48,623.79 247.56,624.58 247.63,639.33 247.71,614.75 247.78,627.69 247.85,636.95 247.93,634.1 248,625.32 248.08,616.97 248.15,619.35 248.23,632.84 248.3,655.82 248.37,614.58 248.45,626.38 248.52,640.31 248.6,625.98 248.67,615.53 248.75,635.4 248.82,619.11 248.89,633.19 248.97,625.02 249.04,620.97 249.12,619.55 249.19,658.2 249.27,629.6 249.34,623.28 249.42,632.51 249.49,616.12 249.56,628.95 249.64,621.16 249.71,619.63 249.79,613.02 249.86,628.98 249.94,621.44 250.01,621.97 250.08,621.68 250.16,638.76 250.23,628.4 250.31,634.42 250.38,620.61 250.46,643.58 250.53,640.17 250.61,633.04 250.68,613.93 250.75,623.83 250.83,620.27 250.9,631.25 250.98,618.17 251.05,628.22 251.13,629.12 251.2,627.2 251.27,638.07 251.35,653.32 251.42,624.06 251.5,639.84 251.57,628.84 251.65,626.28 251.72,631.17 251.79,622.65 251.87,630.56 251.94,630.48 252.02,613.97 252.09,628.46 252.17,625.44 252.24,617.24 252.32,630.15 252.39,625.24 252.46,616.03 252.54,635.78 252.61,630.6 252.69,632.2 252.76,621.7 252.84,619.29 252.91,625.67 252.98,619.13 253.06,621.56 253.13,631.87 253.21,630.1 253.28,619.88 253.36,627.26 253.43,643.62 253.51,624.45 253.58,619.06 253.65,618.94 253.73,635.35 253.8,622.32 253.88,620.39 253.95,623.02 254.03,616.73 254.1,627.77 254.17,650.23 254.25,623.03 254.32,615.37 254.4,625.89 254.47,637.25 254.55,625.46 254.62,631.02 254.69,616.06 254.77,618.01 254.84,620.64 254.92,621.89 254.99,633.19 255.07,634.19 255.14,621.88 255.22,608.06 255.29,623.2 255.36,627.08 255.44,631.77 255.51,624.41 255.59,623.39 255.66,631.01 255.74,624.31 255.81,626.35 255.88,617.6 255.96,617.73 256.03,626.24 256.11,627.87 256.18,617.34 256.26,631.52 256.33,617.72 256.41,622.82 256.48,639.65 256.55,640.19 256.63,637.5 256.7,631.46 256.78,632.93 256.85,637.28 256.93,622.34 257,615.24" fill="none" stroke="#000" stroke-width="0.9" stroke-linejoin="miter"/>
<line x1="34.6" y1="566.16" x2="34.6" y2="606.18" stroke="#000" stroke-width="1.1"/>
<line x1="41.47" y1="547.06" x2="41.47" y2="613.45" stroke="#000" stroke-width="1.1"/>
<line x1="48.94" y1="594.35" x2="48.94" y2="617.09" stroke="#000" stroke-width="1.1"/>
<line x1="56.41" y1="591.63" x2="56.41" y2="617.09" stroke="#000" stroke-width="1.1"/>
<line x1="316.5" y1="18.3" x2="540.2" y2="18.3" stroke="#333" stroke-width="1"/>
<line x1="540.2" y1="18.3" x2="540.2" y2="200.4" stroke="#555" stroke-width="1"/>
<line x1="312.5" y1="200.4" x2="540.2" y2="200.4" stroke="#222" stroke-width="1"/>
<line x1="316.5" y1="18.3" x2="316.5" y2="200.4" stroke="#666" stroke-width="1.6"/>
<line x1="313" y1="200.4" x2="316.5" y2="200.4" stroke="#222" stroke-width="1"/>
<line x1="314.5" y1="191.73" x2="316.5" y2="191.73" stroke="#333" stroke-width="1"/>
<line x1="313" y1="183.06" x2="316.5" y2="183.06" stroke="#222" stroke-width="1"/>
<line x1="314.5" y1="174.39" x2="316.5" y2="174.39" stroke="#333" stroke-width="1"/>
<line x1="313" y1="165.71" x2="316.5" y2="165.71" stroke="#222" stroke-width="1"/>
<line x1="314.5" y1="157.04" x2="316.5" y2="157.04" stroke="#333" stroke-width="1"/>
<line x1="313" y1="148.37" x2="316.5" y2="148.37" stroke="#222" stroke-width="1"/>
<line x1="314.5" y1="139.7" x2="316.5" y2="139.7" stroke="#333" stroke-width="1"/>
<line x1="313" y1="131.03" x2="316.5" y2="131.03" stroke="#222" stroke-width="1"/>
<line x1="314.5" y1="122.36" x2="316.5" y2="122.36" stroke="#333" stroke-width="1"/>
<line x1="313" y1="113.69" x2="316.5" y2="113.69" stroke="#222" stroke-width="1"/>
<line x1="314.5" y1="105.01" x2="316.5" y2="105.01" stroke="#333" stroke-width="1"/>
<line x1="313" y1="96.34" x2="316.5" y2="96.34" stroke="#222" stroke-width="1"/>
<line x1="314.5" y1="87.67" x2="316.5" y2="87.67" stroke="#333" stroke-width="1"/>
<line x1="313" y1="79" x2="316.5" y2="79" stroke="#222" stroke-width="1"/>
<line x1="314.5" y1="70.33" x2="316.5" y2="70.33" stroke="#333" stroke-width="1"/>
<line x1="313" y1="61.66" x2="316.5" y2="61.66" stroke="#222" stroke-width="1"/>
<line x1="314.5" y1="52.99" x2="316.5" y2="52.99" stroke="#333" stroke-width="1"/>
<line x1="313" y1="44.31" x2="316.5" y2="44.31" stroke="#222" stroke-width="1"/>
<line x1="314.5" y1="35.64" x2="316.5" y2="35.64" stroke="#333" stroke-width="1"/>
<line x1="313" y1="26.97" x2="316.5" y2="26.97" stroke="#222" stroke-width="1"/>
<line x1="314.5" y1="18.3" x2="316.5" y2="18.3" stroke="#333" stroke-width="1"/>
<text x="310.9" y="202.5" font-size="7.0" text-anchor="end" textLength="20.4" lengthAdjust="spacingAndGlyphs">-40,0m</text>
<text x="310.9" y="185.16" font-size="7.0" text-anchor="end" textLength="20.4" lengthAdjust="spacingAndGlyphs">-30,0m</text>
<text x="310.9" y="167.81" font-size="7.0" text-anchor="end" textLength="20.4" lengthAdjust="spacingAndGlyphs">-20,0m</text>
<text x="310.9" y="150.47" font-size="7.0" text-anchor="end" textLength="20.4" lengthAdjust="spacingAndGlyphs">-10,0m</text>
<text x="310.9" y="133.13" font-size="7.0" text-anchor="end" textLength="8.6" lengthAdjust="spacingAndGlyphs">0,0</text>
<text x="310.9" y="115.79" font-size="7.0" text-anchor="end" textLength="18" lengthAdjust="spacingAndGlyphs">10,0m</text>
<text x="310.9" y="98.44" font-size="7.0" text-anchor="end" textLength="18" lengthAdjust="spacingAndGlyphs">20,0m</text>
<text x="310.9" y="81.1" font-size="7.0" text-anchor="end" textLength="18" lengthAdjust="spacingAndGlyphs">30,0m</text>
<text x="310.9" y="63.76" font-size="7.0" text-anchor="end" textLength="18" lengthAdjust="spacingAndGlyphs">40,0m</text>
<text x="310.9" y="46.41" font-size="7.0" text-anchor="end" textLength="18" lengthAdjust="spacingAndGlyphs">50,0m</text>
<text x="310.9" y="29.07" font-size="7.0" text-anchor="end" textLength="18" lengthAdjust="spacingAndGlyphs">60,0m</text>
<line x1="316.5" y1="200.4" x2="316.5" y2="202.4" stroke="#333" stroke-width="1"/>
<line x1="331.41" y1="200.4" x2="331.41" y2="203.9" stroke="#222" stroke-width="1"/>
<line x1="346.33" y1="200.4" x2="346.33" y2="202.4" stroke="#333" stroke-width="1"/>
<line x1="361.24" y1="200.4" x2="361.24" y2="203.9" stroke="#222" stroke-width="1"/>
<line x1="376.15" y1="200.4" x2="376.15" y2="202.4" stroke="#333" stroke-width="1"/>
<line x1="391.07" y1="200.4" x2="391.07" y2="203.9" stroke="#222" stroke-width="1"/>
<line x1="405.98" y1="200.4" x2="405.98" y2="202.4" stroke="#333" stroke-width="1"/>
<line x1="420.89" y1="200.4" x2="420.89" y2="203.9" stroke="#222" stroke-width="1"/>
<line x1="435.81" y1="200.4" x2="435.81" y2="202.4" stroke="#333" stroke-width="1"/>
<line x1="450.72" y1="200.4" x2="450.72" y2="203.9" stroke="#222" stroke-width="1"/>
<line x1="465.63" y1="200.4" x2="465.63" y2="202.4" stroke="#333" stroke-width="1"/>
<line x1="480.55" y1="200.4" x2="480.55" y2="203.9" stroke="#222" stroke-width="1"/>
<line x1="495.46" y1="200.4" x2="495.46" y2="202.4" stroke="#333" stroke-width="1"/>
<line x1="510.37" y1="200.4" x2="510.37" y2="203.9" stroke="#222" stroke-width="1"/>
<line x1="525.29" y1="200.4" x2="525.29" y2="202.4" stroke="#333" stroke-width="1"/>
<line x1="540.2" y1="200.4" x2="540.2" y2="203.9" stroke="#222" stroke-width="1"/>
<text x="331.41" y="212.4" font-size="7.4" text-anchor="middle">-4</text>
<text x="361.24" y="212.4" font-size="7.4" text-anchor="middle">0</text>
<text x="391.07" y="212.4" font-size="7.4" text-anchor="middle">4</text>
<text x="420.89" y="212.4" font-size="7.4" text-anchor="middle">8</text>
<text x="450.72" y="212.4" font-size="7.4" text-anchor="middle">12</text>
<text x="480.55" y="212.4" font-size="7.4" text-anchor="middle">16</text>
<text x="510.37" y="212.4" font-size="7.4" text-anchor="middle">20</text>
<text x="540.2" y="212.4" font-size="7.4" text-anchor="middle">24</text>
<text x="428.6" y="226.6" font-size="8.7" text-anchor="middle" textLength="53.6" lengthAdjust="spacingAndGlyphs">Distance [nm]</text>
<text x="283" y="120.3" font-size="8.7" text-anchor="middle" textLength="20.6" lengthAdjust="spacingAndGlyphs" transform="rotate(-90 283 120.3)">U [V]</text>
<polyline points="338.87,108.7 346.33,112.5 353.78,118 361.24,124.6 368.7,129 376.15,130.7 383.61,130.1 391.07,129 398.52,128.1 405.98,129.6 413.44,132.3 420.89,134.7 428.35,135.6 435.81,133.8 443.26,132.7 450.72,132.7 458.18,132.7 465.63,132.5 473.09,131.4 480.55,131 488,131.4 495.46,132.5 502.92,133.2" fill="none" stroke="#000" stroke-width="1.2"/>
<circle cx="338.87" cy="108.7" r="1.95" fill="#000"/>
<circle cx="346.33" cy="112.5" r="1.95" fill="#000"/>
<circle cx="353.78" cy="118" r="1.95" fill="#000"/>
<circle cx="361.24" cy="124.6" r="1.95" fill="#000"/>
<circle cx="368.7" cy="129" r="1.95" fill="#000"/>
<circle cx="376.15" cy="130.7" r="1.95" fill="#000"/>
<circle cx="383.61" cy="130.1" r="1.95" fill="#000"/>
<circle cx="391.07" cy="129" r="1.95" fill="#000"/>
<circle cx="398.52" cy="128.1" r="1.95" fill="#000"/>
<circle cx="405.98" cy="129.6" r="1.95" fill="#000"/>
<circle cx="413.44" cy="132.3" r="1.95" fill="#000"/>
<circle cx="420.89" cy="134.7" r="1.95" fill="#000"/>
<circle cx="428.35" cy="135.6" r="1.95" fill="#000"/>
<circle cx="435.81" cy="133.8" r="1.95" fill="#000"/>
<circle cx="443.26" cy="132.7" r="1.95" fill="#000"/>
<circle cx="450.72" cy="132.7" r="1.95" fill="#000"/>
<circle cx="458.18" cy="132.7" r="1.95" fill="#000"/>
<circle cx="465.63" cy="132.5" r="1.95" fill="#000"/>
<circle cx="473.09" cy="131.4" r="1.95" fill="#000"/>
<circle cx="480.55" cy="131" r="1.95" fill="#000"/>
<circle cx="488" cy="131.4" r="1.95" fill="#000"/>
<circle cx="495.46" cy="132.5" r="1.95" fill="#000"/>
<circle cx="502.92" cy="133.2" r="1.95" fill="#000"/>
<polyline points="338.87,108.7 346.33,116 353.78,130.7 361.24,146.8 368.7,155 376.15,155.4 383.61,153.9 391.07,150.8 398.52,144.6 405.98,136.9 413.44,131.9 420.89,130.3 428.35,129 435.81,125.7 443.26,124.6 450.72,124.6 458.18,124.4 465.63,123.7 473.09,124.6 480.55,126.8 488,127.9 495.46,128.5 502.92,128.5 510.37,128.5 517.83,127.9" fill="none" stroke="#8a8a8a" stroke-width="1.0"/>
<rect x="337.17" y="107" width="3.4" height="3.4" fill="#7f7f7f"/>
<rect x="344.63" y="114.3" width="3.4" height="3.4" fill="#7f7f7f"/>
<rect x="352.08" y="129" width="3.4" height="3.4" fill="#7f7f7f"/>
<rect x="359.54" y="145.1" width="3.4" height="3.4" fill="#7f7f7f"/>
<rect x="367" y="153.3" width="3.4" height="3.4" fill="#7f7f7f"/>
<rect x="374.45" y="153.7" width="3.4" height="3.4" fill="#7f7f7f"/>
<rect x="381.91" y="152.2" width="3.4" height="3.4" fill="#7f7f7f"/>
<rect x="389.37" y="149.1" width="3.4" height="3.4" fill="#7f7f7f"/>
<rect x="396.82" y="142.9" width="3.4" height="3.4" fill="#7f7f7f"/>
<rect x="404.28" y="135.2" width="3.4" height="3.4" fill="#7f7f7f"/>
<rect x="411.74" y="130.2" width="3.4" height="3.4" fill="#7f7f7f"/>
<rect x="419.19" y="128.6" width="3.4" height="3.4" fill="#7f7f7f"/>
<rect x="426.65" y="127.3" width="3.4" height="3.4" fill="#7f7f7f"/>
<rect x="434.11" y="124" width="3.4" height="3.4" fill="#7f7f7f"/>
<rect x="441.56" y="122.9" width="3.4" height="3.4" fill="#7f7f7f"/>
<rect x="449.02" y="122.9" width="3.4" height="3.4" fill="#7f7f7f"/>
<rect x="456.48" y="122.7" width="3.4" height="3.4" fill="#7f7f7f"/>
<rect x="463.93" y="122" width="3.4" height="3.4" fill="#7f7f7f"/>
<rect x="471.39" y="122.9" width="3.4" height="3.4" fill="#7f7f7f"/>
<rect x="478.85" y="125.1" width="3.4" height="3.4" fill="#7f7f7f"/>
<rect x="486.3" y="126.2" width="3.4" height="3.4" fill="#7f7f7f"/>
<rect x="493.76" y="126.8" width="3.4" height="3.4" fill="#7f7f7f"/>
<rect x="501.22" y="126.8" width="3.4" height="3.4" fill="#7f7f7f"/>
<rect x="508.67" y="126.8" width="3.4" height="3.4" fill="#7f7f7f"/>
<rect x="516.13" y="126.2" width="3.4" height="3.4" fill="#7f7f7f"/>
<line x1="465.2" y1="31.9" x2="485.2" y2="31.9" stroke="#000" stroke-width="1.3"/>
<circle cx="475.2" cy="31.9" r="2.2" fill="#000"/>
<text x="488.2" y="34.9" font-size="8.4" text-anchor="start">approach</text>
<line x1="465.2" y1="42.4" x2="485.2" y2="42.4" stroke="#8a8a8a" stroke-width="1.0"/>
<rect x="473.5" y="40.7" width="3.4" height="3.4" fill="#7f7f7f"/>
<text x="488.2" y="45.4" font-size="8.4" text-anchor="start">retract</text>
<text x="265.0" y="13.4" font-size="17.8" font-weight="bold" textLength="22.2" lengthAdjust="spacingAndGlyphs" style="stroke-width:0.1px">(b)</text>
<line x1="316.5" y1="256.5" x2="540.2" y2="256.5" stroke="#333" stroke-width="1"/>
<line x1="540.2" y1="256.5" x2="540.2" y2="438.4" stroke="#555" stroke-width="1"/>
<line x1="312.5" y1="438.4" x2="540.2" y2="438.4" stroke="#222" stroke-width="1"/>
<line x1="316.5" y1="256.5" x2="316.5" y2="438.4" stroke="#666" stroke-width="1.6"/>
<line x1="313" y1="438.4" x2="316.5" y2="438.4" stroke="#222" stroke-width="1"/>
<line x1="314.5" y1="429.74" x2="316.5" y2="429.74" stroke="#333" stroke-width="1"/>
<line x1="313" y1="421.08" x2="316.5" y2="421.08" stroke="#222" stroke-width="1"/>
<line x1="314.5" y1="412.41" x2="316.5" y2="412.41" stroke="#333" stroke-width="1"/>
<line x1="313" y1="403.75" x2="316.5" y2="403.75" stroke="#222" stroke-width="1"/>
<line x1="314.5" y1="395.09" x2="316.5" y2="395.09" stroke="#333" stroke-width="1"/>
<line x1="313" y1="386.43" x2="316.5" y2="386.43" stroke="#222" stroke-width="1"/>
<line x1="314.5" y1="377.77" x2="316.5" y2="377.77" stroke="#333" stroke-width="1"/>
<line x1="313" y1="369.1" x2="316.5" y2="369.1" stroke="#222" stroke-width="1"/>
<line x1="314.5" y1="360.44" x2="316.5" y2="360.44" stroke="#333" stroke-width="1"/>
<line x1="313" y1="351.78" x2="316.5" y2="351.78" stroke="#222" stroke-width="1"/>
<line x1="314.5" y1="343.12" x2="316.5" y2="343.12" stroke="#333" stroke-width="1"/>
<line x1="313" y1="334.46" x2="316.5" y2="334.46" stroke="#222" stroke-width="1"/>
<line x1="314.5" y1="325.8" x2="316.5" y2="325.8" stroke="#333" stroke-width="1"/>
<line x1="313" y1="317.13" x2="316.5" y2="317.13" stroke="#222" stroke-width="1"/>
<line x1="314.5" y1="308.47" x2="316.5" y2="308.47" stroke="#333" stroke-width="1"/>
<line x1="313" y1="299.81" x2="316.5" y2="299.81" stroke="#222" stroke-width="1"/>
<line x1="314.5" y1="291.15" x2="316.5" y2="291.15" stroke="#333" stroke-width="1"/>
<line x1="313" y1="282.49" x2="316.5" y2="282.49" stroke="#222" stroke-width="1"/>
<line x1="314.5" y1="273.82" x2="316.5" y2="273.82" stroke="#333" stroke-width="1"/>
<line x1="313" y1="265.16" x2="316.5" y2="265.16" stroke="#222" stroke-width="1"/>
<line x1="314.5" y1="256.5" x2="316.5" y2="256.5" stroke="#333" stroke-width="1"/>
<text x="310.9" y="440.5" font-size="7.0" text-anchor="end" textLength="20.4" lengthAdjust="spacingAndGlyphs">-40,0m</text>
<text x="310.9" y="423.18" font-size="7.0" text-anchor="end" textLength="20.4" lengthAdjust="spacingAndGlyphs">-30,0m</text>
<text x="310.9" y="405.85" font-size="7.0" text-anchor="end" textLength="20.4" lengthAdjust="spacingAndGlyphs">-20,0m</text>
<text x="310.9" y="388.53" font-size="7.0" text-anchor="end" textLength="20.4" lengthAdjust="spacingAndGlyphs">-10,0m</text>
<text x="310.9" y="371.2" font-size="7.0" text-anchor="end" textLength="8.6" lengthAdjust="spacingAndGlyphs">0,0</text>
<text x="310.9" y="353.88" font-size="7.0" text-anchor="end" textLength="18" lengthAdjust="spacingAndGlyphs">10,0m</text>
<text x="310.9" y="336.56" font-size="7.0" text-anchor="end" textLength="18" lengthAdjust="spacingAndGlyphs">20,0m</text>
<text x="310.9" y="319.23" font-size="7.0" text-anchor="end" textLength="18" lengthAdjust="spacingAndGlyphs">30,0m</text>
<text x="310.9" y="301.91" font-size="7.0" text-anchor="end" textLength="18" lengthAdjust="spacingAndGlyphs">40,0m</text>
<text x="310.9" y="284.59" font-size="7.0" text-anchor="end" textLength="18" lengthAdjust="spacingAndGlyphs">50,0m</text>
<text x="310.9" y="267.26" font-size="7.0" text-anchor="end" textLength="18" lengthAdjust="spacingAndGlyphs">60,0m</text>
<line x1="316.5" y1="438.4" x2="316.5" y2="440.4" stroke="#333" stroke-width="1"/>
<line x1="327.15" y1="438.4" x2="327.15" y2="441.9" stroke="#222" stroke-width="1"/>
<line x1="337.8" y1="438.4" x2="337.8" y2="440.4" stroke="#333" stroke-width="1"/>
<line x1="348.46" y1="438.4" x2="348.46" y2="441.9" stroke="#222" stroke-width="1"/>
<line x1="359.11" y1="438.4" x2="359.11" y2="440.4" stroke="#333" stroke-width="1"/>
<line x1="369.76" y1="438.4" x2="369.76" y2="441.9" stroke="#222" stroke-width="1"/>
<line x1="380.41" y1="438.4" x2="380.41" y2="440.4" stroke="#333" stroke-width="1"/>
<line x1="391.07" y1="438.4" x2="391.07" y2="441.9" stroke="#222" stroke-width="1"/>
<line x1="401.72" y1="438.4" x2="401.72" y2="440.4" stroke="#333" stroke-width="1"/>
<line x1="412.37" y1="438.4" x2="412.37" y2="441.9" stroke="#222" stroke-width="1"/>
<line x1="423.02" y1="438.4" x2="423.02" y2="440.4" stroke="#333" stroke-width="1"/>
<line x1="433.68" y1="438.4" x2="433.68" y2="441.9" stroke="#222" stroke-width="1"/>
<line x1="444.33" y1="438.4" x2="444.33" y2="440.4" stroke="#333" stroke-width="1"/>
<line x1="454.98" y1="438.4" x2="454.98" y2="441.9" stroke="#222" stroke-width="1"/>
<line x1="465.63" y1="438.4" x2="465.63" y2="440.4" stroke="#333" stroke-width="1"/>
<line x1="476.29" y1="438.4" x2="476.29" y2="441.9" stroke="#222" stroke-width="1"/>
<line x1="486.94" y1="438.4" x2="486.94" y2="440.4" stroke="#333" stroke-width="1"/>
<line x1="497.59" y1="438.4" x2="497.59" y2="441.9" stroke="#222" stroke-width="1"/>
<line x1="508.24" y1="438.4" x2="508.24" y2="440.4" stroke="#333" stroke-width="1"/>
<line x1="518.9" y1="438.4" x2="518.9" y2="441.9" stroke="#222" stroke-width="1"/>
<line x1="529.55" y1="438.4" x2="529.55" y2="440.4" stroke="#333" stroke-width="1"/>
<line x1="540.2" y1="438.4" x2="540.2" y2="441.9" stroke="#222" stroke-width="1"/>
<text x="327.15" y="450.4" font-size="7.4" text-anchor="middle">-4</text>
<text x="348.46" y="450.4" font-size="7.4" text-anchor="middle">0</text>
<text x="369.76" y="450.4" font-size="7.4" text-anchor="middle">4</text>
<text x="391.07" y="450.4" font-size="7.4" text-anchor="middle">8</text>
<text x="412.37" y="450.4" font-size="7.4" text-anchor="middle">12</text>
<text x="433.68" y="450.4" font-size="7.4" text-anchor="middle">16</text>
<text x="454.98" y="450.4" font-size="7.4" text-anchor="middle">20</text>
<text x="476.29" y="450.4" font-size="7.4" text-anchor="middle">24</text>
<text x="497.59" y="450.4" font-size="7.4" text-anchor="middle">28</text>
<text x="518.9" y="450.4" font-size="7.4" text-anchor="middle">32</text>
<text x="540.2" y="450.4" font-size="7.4" text-anchor="middle">36</text>
<text x="428.6" y="464.6" font-size="8.7" text-anchor="middle" textLength="53.6" lengthAdjust="spacingAndGlyphs">Distance [nm]</text>
<text x="283" y="353.3" font-size="8.7" text-anchor="middle" textLength="20.6" lengthAdjust="spacingAndGlyphs" transform="rotate(-90 283 353.3)">U [V]</text>
<polyline points="332.48,288.9 337.8,310.6 343.13,340.1 348.46,369.2 353.78,392.6 359.11,407.8 364.44,415.1 369.76,414.6 375.09,411 380.41,407.1 385.74,404.2 391.07,403 396.39,402.2 401.72,397.8 407.05,390.9 412.37,386.2 417.7,384 423.02,382.7 428.35,379.4 433.68,376.6 439,377.2 444.33,376.6 449.65,375 454.98,375 460.31,376.2 465.63,375.6 470.96,373.8 476.29,373.8 481.61,374.1 486.94,372.6 492.26,369.4 497.59,369.4 502.92,372.3 508.24,375.6 513.57,377" fill="none" stroke="#000" stroke-width="1.2"/>
<circle cx="332.48" cy="288.9" r="1.95" fill="#000"/>
<circle cx="337.8" cy="310.6" r="1.95" fill="#000"/>
<circle cx="343.13" cy="340.1" r="1.95" fill="#000"/>
<circle cx="348.46" cy="369.2" r="1.95" fill="#000"/>
<circle cx="353.78" cy="392.6" r="1.95" fill="#000"/>
<circle cx="359.11" cy="407.8" r="1.95" fill="#000"/>
<circle cx="364.44" cy="415.1" r="1.95" fill="#000"/>
<circle cx="369.76" cy="414.6" r="1.95" fill="#000"/>
<circle cx="375.09" cy="411" r="1.95" fill="#000"/>
<circle cx="380.41" cy="407.1" r="1.95" fill="#000"/>
<circle cx="385.74" cy="404.2" r="1.95" fill="#000"/>
<circle cx="391.07" cy="403" r="1.95" fill="#000"/>
<circle cx="396.39" cy="402.2" r="1.95" fill="#000"/>
<circle cx="401.72" cy="397.8" r="1.95" fill="#000"/>
<circle cx="407.05" cy="390.9" r="1.95" fill="#000"/>
<circle cx="412.37" cy="386.2" r="1.95" fill="#000"/>
<circle cx="417.7" cy="384" r="1.95" fill="#000"/>
<circle cx="423.02" cy="382.7" r="1.95" fill="#000"/>
<circle cx="428.35" cy="379.4" r="1.95" fill="#000"/>
<circle cx="433.68" cy="376.6" r="1.95" fill="#000"/>
<circle cx="439" cy="377.2" r="1.95" fill="#000"/>
<circle cx="444.33" cy="376.6" r="1.95" fill="#000"/>
<circle cx="449.65" cy="375" r="1.95" fill="#000"/>
<circle cx="454.98" cy="375" r="1.95" fill="#000"/>
<circle cx="460.31" cy="376.2" r="1.95" fill="#000"/>
<circle cx="465.63" cy="375.6" r="1.95" fill="#000"/>
<circle cx="470.96" cy="373.8" r="1.95" fill="#000"/>
<circle cx="476.29" cy="373.8" r="1.95" fill="#000"/>
<circle cx="481.61" cy="374.1" r="1.95" fill="#000"/>
<circle cx="486.94" cy="372.6" r="1.95" fill="#000"/>
<circle cx="492.26" cy="369.4" r="1.95" fill="#000"/>
<circle cx="497.59" cy="369.4" r="1.95" fill="#000"/>
<circle cx="502.92" cy="372.3" r="1.95" fill="#000"/>
<circle cx="508.24" cy="375.6" r="1.95" fill="#000"/>
<circle cx="513.57" cy="377" r="1.95" fill="#000"/>
<polyline points="332.48,287.4 337.8,304.6 343.13,335.3 348.46,372.3 353.78,403.7 359.11,424.8 364.44,432.5 369.76,428.4 375.09,417.5 380.41,406.6 385.74,398.2 391.07,391.7 396.39,388.7 401.72,386.8 407.05,384.6 412.37,382.1 417.7,380.5 423.02,379.1 428.35,378.5 433.68,379.4 439,379.4 444.33,379.9 449.65,380.2 454.98,380.2 460.31,378.3 465.63,377 470.96,375.3 476.29,373.8 481.61,370.4 486.94,369.2 492.26,371.4 497.59,373.6 502.92,373.6 508.24,373.3 513.57,374.8 518.9,376.7" fill="none" stroke="#8a8a8a" stroke-width="1.0"/>
<rect x="330.78" y="285.7" width="3.4" height="3.4" fill="#7f7f7f"/>
<rect x="336.1" y="302.9" width="3.4" height="3.4" fill="#7f7f7f"/>
<rect x="341.43" y="333.6" width="3.4" height="3.4" fill="#7f7f7f"/>
<rect x="346.76" y="370.6" width="3.4" height="3.4" fill="#7f7f7f"/>
<rect x="352.08" y="402" width="3.4" height="3.4" fill="#7f7f7f"/>
<rect x="357.41" y="423.1" width="3.4" height="3.4" fill="#7f7f7f"/>
<rect x="362.74" y="430.8" width="3.4" height="3.4" fill="#7f7f7f"/>
<rect x="368.06" y="426.7" width="3.4" height="3.4" fill="#7f7f7f"/>
<rect x="373.39" y="415.8" width="3.4" height="3.4" fill="#7f7f7f"/>
<rect x="378.71" y="404.9" width="3.4" height="3.4" fill="#7f7f7f"/>
<rect x="384.04" y="396.5" width="3.4" height="3.4" fill="#7f7f7f"/>
<rect x="389.37" y="390" width="3.4" height="3.4" fill="#7f7f7f"/>
<rect x="394.69" y="387" width="3.4" height="3.4" fill="#7f7f7f"/>
<rect x="400.02" y="385.1" width="3.4" height="3.4" fill="#7f7f7f"/>
<rect x="405.35" y="382.9" width="3.4" height="3.4" fill="#7f7f7f"/>
<rect x="410.67" y="380.4" width="3.4" height="3.4" fill="#7f7f7f"/>
<rect x="416" y="378.8" width="3.4" height="3.4" fill="#7f7f7f"/>
<rect x="421.32" y="377.4" width="3.4" height="3.4" fill="#7f7f7f"/>
<rect x="426.65" y="376.8" width="3.4" height="3.4" fill="#7f7f7f"/>
<rect x="431.98" y="377.7" width="3.4" height="3.4" fill="#7f7f7f"/>
<rect x="437.3" y="377.7" width="3.4" height="3.4" fill="#7f7f7f"/>
<rect x="442.63" y="378.2" width="3.4" height="3.4" fill="#7f7f7f"/>
<rect x="447.95" y="378.5" width="3.4" height="3.4" fill="#7f7f7f"/>
<rect x="453.28" y="378.5" width="3.4" height="3.4" fill="#7f7f7f"/>
<rect x="458.61" y="376.6" width="3.4" height="3.4" fill="#7f7f7f"/>
<rect x="463.93" y="375.3" width="3.4" height="3.4" fill="#7f7f7f"/>
<rect x="469.26" y="373.6" width="3.4" height="3.4" fill="#7f7f7f"/>
<rect x="474.59" y="372.1" width="3.4" height="3.4" fill="#7f7f7f"/>
<rect x="479.91" y="368.7" width="3.4" height="3.4" fill="#7f7f7f"/>
<rect x="485.24" y="367.5" width="3.4" height="3.4" fill="#7f7f7f"/>
<rect x="490.56" y="369.7" width="3.4" height="3.4" fill="#7f7f7f"/>
<rect x="495.89" y="371.9" width="3.4" height="3.4" fill="#7f7f7f"/>
<rect x="501.22" y="371.9" width="3.4" height="3.4" fill="#7f7f7f"/>
<rect x="506.54" y="371.6" width="3.4" height="3.4" fill="#7f7f7f"/>
<rect x="511.87" y="373.1" width="3.4" height="3.4" fill="#7f7f7f"/>
<rect x="517.2" y="375" width="3.4" height="3.4" fill="#7f7f7f"/>
<line x1="468.3" y1="271" x2="488.3" y2="271" stroke="#000" stroke-width="1.3"/>
<circle cx="478.3" cy="271" r="2.2" fill="#000"/>
<text x="491.3" y="274" font-size="8.4" text-anchor="start">approach</text>
<line x1="468.3" y1="281.5" x2="488.3" y2="281.5" stroke="#8a8a8a" stroke-width="1.0"/>
<rect x="476.6" y="279.8" width="3.4" height="3.4" fill="#7f7f7f"/>
<text x="491.3" y="284.5" font-size="8.4" text-anchor="start">retract</text>
<text x="265.0" y="244.8" font-size="17.8" font-weight="bold" textLength="22.2" lengthAdjust="spacingAndGlyphs" style="stroke-width:0.1px">(d)</text>
<line x1="316.5" y1="493.4" x2="540.2" y2="493.4" stroke="#333" stroke-width="1"/>
<line x1="540.2" y1="493.4" x2="540.2" y2="675.3" stroke="#555" stroke-width="1"/>
<line x1="312.5" y1="675.3" x2="540.2" y2="675.3" stroke="#222" stroke-width="1"/>
<line x1="316.5" y1="493.4" x2="316.5" y2="675.3" stroke="#666" stroke-width="1.6"/>
<line x1="313" y1="675.3" x2="316.5" y2="675.3" stroke="#222" stroke-width="1"/>
<line x1="314.5" y1="666.2" x2="316.5" y2="666.2" stroke="#333" stroke-width="1"/>
<line x1="313" y1="657.11" x2="316.5" y2="657.11" stroke="#222" stroke-width="1"/>
<line x1="314.5" y1="648.01" x2="316.5" y2="648.01" stroke="#333" stroke-width="1"/>
<line x1="313" y1="638.92" x2="316.5" y2="638.92" stroke="#222" stroke-width="1"/>
<line x1="314.5" y1="629.82" x2="316.5" y2="629.82" stroke="#333" stroke-width="1"/>
<line x1="313" y1="620.73" x2="316.5" y2="620.73" stroke="#222" stroke-width="1"/>
<line x1="314.5" y1="611.63" x2="316.5" y2="611.63" stroke="#333" stroke-width="1"/>
<line x1="313" y1="602.54" x2="316.5" y2="602.54" stroke="#222" stroke-width="1"/>
<line x1="314.5" y1="593.44" x2="316.5" y2="593.44" stroke="#333" stroke-width="1"/>
<line x1="313" y1="584.35" x2="316.5" y2="584.35" stroke="#222" stroke-width="1"/>
<line x1="314.5" y1="575.25" x2="316.5" y2="575.25" stroke="#333" stroke-width="1"/>
<line x1="313" y1="566.16" x2="316.5" y2="566.16" stroke="#222" stroke-width="1"/>
<line x1="314.5" y1="557.06" x2="316.5" y2="557.06" stroke="#333" stroke-width="1"/>
<line x1="313" y1="547.97" x2="316.5" y2="547.97" stroke="#222" stroke-width="1"/>
<line x1="314.5" y1="538.88" x2="316.5" y2="538.88" stroke="#333" stroke-width="1"/>
<line x1="313" y1="529.78" x2="316.5" y2="529.78" stroke="#222" stroke-width="1"/>
<line x1="314.5" y1="520.68" x2="316.5" y2="520.68" stroke="#333" stroke-width="1"/>
<line x1="313" y1="511.59" x2="316.5" y2="511.59" stroke="#222" stroke-width="1"/>
<line x1="314.5" y1="502.5" x2="316.5" y2="502.5" stroke="#333" stroke-width="1"/>
<line x1="313" y1="493.4" x2="316.5" y2="493.4" stroke="#222" stroke-width="1"/>
<text x="310.9" y="677.4" font-size="7.0" text-anchor="end" textLength="20.4" lengthAdjust="spacingAndGlyphs">-40,0m</text>
<text x="310.9" y="659.21" font-size="7.0" text-anchor="end" textLength="20.4" lengthAdjust="spacingAndGlyphs">-30,0m</text>
<text x="310.9" y="641.02" font-size="7.0" text-anchor="end" textLength="20.4" lengthAdjust="spacingAndGlyphs">-20,0m</text>
<text x="310.9" y="622.83" font-size="7.0" text-anchor="end" textLength="20.4" lengthAdjust="spacingAndGlyphs">-10,0m</text>
<text x="310.9" y="604.64" font-size="7.0" text-anchor="end" textLength="8.6" lengthAdjust="spacingAndGlyphs">0,0</text>
<text x="310.9" y="586.45" font-size="7.0" text-anchor="end" textLength="18" lengthAdjust="spacingAndGlyphs">10,0m</text>
<text x="310.9" y="568.26" font-size="7.0" text-anchor="end" textLength="18" lengthAdjust="spacingAndGlyphs">20,0m</text>
<text x="310.9" y="550.07" font-size="7.0" text-anchor="end" textLength="18" lengthAdjust="spacingAndGlyphs">30,0m</text>
<text x="310.9" y="531.88" font-size="7.0" text-anchor="end" textLength="18" lengthAdjust="spacingAndGlyphs">40,0m</text>
<text x="310.9" y="513.69" font-size="7.0" text-anchor="end" textLength="18" lengthAdjust="spacingAndGlyphs">50,0m</text>
<text x="310.9" y="495.5" font-size="7.0" text-anchor="end" textLength="18" lengthAdjust="spacingAndGlyphs">60,0m</text>
<line x1="316.5" y1="675.3" x2="316.5" y2="678.8" stroke="#222" stroke-width="1"/>
<line x1="327.69" y1="675.3" x2="327.69" y2="677.3" stroke="#333" stroke-width="1"/>
<line x1="338.87" y1="675.3" x2="338.87" y2="678.8" stroke="#222" stroke-width="1"/>
<line x1="350.06" y1="675.3" x2="350.06" y2="677.3" stroke="#333" stroke-width="1"/>
<line x1="361.24" y1="675.3" x2="361.24" y2="678.8" stroke="#222" stroke-width="1"/>
<line x1="372.43" y1="675.3" x2="372.43" y2="677.3" stroke="#333" stroke-width="1"/>
<line x1="383.61" y1="675.3" x2="383.61" y2="678.8" stroke="#222" stroke-width="1"/>
<line x1="394.8" y1="675.3" x2="394.8" y2="677.3" stroke="#333" stroke-width="1"/>
<line x1="405.98" y1="675.3" x2="405.98" y2="678.8" stroke="#222" stroke-width="1"/>
<line x1="417.17" y1="675.3" x2="417.17" y2="677.3" stroke="#333" stroke-width="1"/>
<line x1="428.35" y1="675.3" x2="428.35" y2="678.8" stroke="#222" stroke-width="1"/>
<line x1="439.54" y1="675.3" x2="439.54" y2="677.3" stroke="#333" stroke-width="1"/>
<line x1="450.72" y1="675.3" x2="450.72" y2="678.8" stroke="#222" stroke-width="1"/>
<line x1="461.91" y1="675.3" x2="461.91" y2="677.3" stroke="#333" stroke-width="1"/>
<line x1="473.09" y1="675.3" x2="473.09" y2="678.8" stroke="#222" stroke-width="1"/>
<line x1="484.28" y1="675.3" x2="484.28" y2="677.3" stroke="#333" stroke-width="1"/>
<line x1="495.46" y1="675.3" x2="495.46" y2="678.8" stroke="#222" stroke-width="1"/>
<line x1="506.65" y1="675.3" x2="506.65" y2="677.3" stroke="#333" stroke-width="1"/>
<line x1="517.83" y1="675.3" x2="517.83" y2="678.8" stroke="#222" stroke-width="1"/>
<line x1="529.02" y1="675.3" x2="529.02" y2="677.3" stroke="#333" stroke-width="1"/>
<line x1="540.2" y1="675.3" x2="540.2" y2="678.8" stroke="#222" stroke-width="1"/>
<text x="316.5" y="687.3" font-size="7.4" text-anchor="middle">0</text>
<text x="338.87" y="687.3" font-size="7.4" text-anchor="middle">4</text>
<text x="361.24" y="687.3" font-size="7.4" text-anchor="middle">8</text>
<text x="383.61" y="687.3" font-size="7.4" text-anchor="middle">12</text>
<text x="405.98" y="687.3" font-size="7.4" text-anchor="middle">16</text>
<text x="428.35" y="687.3" font-size="7.4" text-anchor="middle">20</text>
<text x="450.72" y="687.3" font-size="7.4" text-anchor="middle">24</text>
<text x="473.09" y="687.3" font-size="7.4" text-anchor="middle">28</text>
<text x="495.46" y="687.3" font-size="7.4" text-anchor="middle">32</text>
<text x="517.83" y="687.3" font-size="7.4" text-anchor="middle">36</text>
<text x="540.2" y="687.3" font-size="7.4" text-anchor="middle">40</text>
<text x="428.6" y="700.4" font-size="8.7" text-anchor="middle" textLength="53.6" lengthAdjust="spacingAndGlyphs">Distance [nm]</text>
<text x="283" y="589.6" font-size="8.7" text-anchor="middle" textLength="20.6" lengthAdjust="spacingAndGlyphs" transform="rotate(-90 283 589.6)">U [V]</text>
<polyline points="322.09,607.7 327.69,606.3 333.28,602.3 338.87,600.7 344.46,600.3 350.06,599.1 355.65,596.6 361.24,595.2 366.83,595.6 372.43,596 378.02,596 383.61,597.3 389.2,600.6 394.8,601.5 400.39,601.1 405.98,602.3 411.57,604 417.17,603.6 422.76,602 428.35,602 433.94,603.6 439.54,604.3 445.13,603.9 450.72,603.7 456.31,604.4 461.91,605.3 467.5,606.1 473.09,605.3 478.68,603.9 484.28,603.2 489.87,602.7 495.46,602.3 501.05,601.8 506.65,602.7 512.24,603.9 517.83,604.4 523.42,603.9 529.02,603.2 534.61,602.3 540.2,600.6" fill="none" stroke="#000" stroke-width="1.2"/>
<circle cx="322.09" cy="607.7" r="1.95" fill="#000"/>
<circle cx="327.69" cy="606.3" r="1.95" fill="#000"/>
<circle cx="333.28" cy="602.3" r="1.95" fill="#000"/>
<circle cx="338.87" cy="600.7" r="1.95" fill="#000"/>
<circle cx="344.46" cy="600.3" r="1.95" fill="#000"/>
<circle cx="350.06" cy="599.1" r="1.95" fill="#000"/>
<circle cx="355.65" cy="596.6" r="1.95" fill="#000"/>
<circle cx="361.24" cy="595.2" r="1.95" fill="#000"/>
<circle cx="366.83" cy="595.6" r="1.95" fill="#000"/>
<circle cx="372.43" cy="596" r="1.95" fill="#000"/>
<circle cx="378.02" cy="596" r="1.95" fill="#000"/>
<circle cx="383.61" cy="597.3" r="1.95" fill="#000"/>
<circle cx="389.2" cy="600.6" r="1.95" fill="#000"/>
<circle cx="394.8" cy="601.5" r="1.95" fill="#000"/>
<circle cx="400.39" cy="601.1" r="1.95" fill="#000"/>
<circle cx="405.98" cy="602.3" r="1.95" fill="#000"/>
<circle cx="411.57" cy="604" r="1.95" fill="#000"/>
<circle cx="417.17" cy="603.6" r="1.95" fill="#000"/>
<circle cx="422.76" cy="602" r="1.95" fill="#000"/>
<circle cx="428.35" cy="602" r="1.95" fill="#000"/>
<circle cx="433.94" cy="603.6" r="1.95" fill="#000"/>
<circle cx="439.54" cy="604.3" r="1.95" fill="#000"/>
<circle cx="445.13" cy="603.9" r="1.95" fill="#000"/>
<circle cx="450.72" cy="603.7" r="1.95" fill="#000"/>
<circle cx="456.31" cy="604.4" r="1.95" fill="#000"/>
<circle cx="461.91" cy="605.3" r="1.95" fill="#000"/>
<circle cx="467.5" cy="606.1" r="1.95" fill="#000"/>
<circle cx="473.09" cy="605.3" r="1.95" fill="#000"/>
<circle cx="478.68" cy="603.9" r="1.95" fill="#000"/>
<circle cx="484.28" cy="603.2" r="1.95" fill="#000"/>
<circle cx="489.87" cy="602.7" r="1.95" fill="#000"/>
<circle cx="495.46" cy="602.3" r="1.95" fill="#000"/>
<circle cx="501.05" cy="601.8" r="1.95" fill="#000"/>
<circle cx="506.65" cy="602.7" r="1.95" fill="#000"/>
<circle cx="512.24" cy="603.9" r="1.95" fill="#000"/>
<circle cx="517.83" cy="604.4" r="1.95" fill="#000"/>
<circle cx="523.42" cy="603.9" r="1.95" fill="#000"/>
<circle cx="529.02" cy="603.2" r="1.95" fill="#000"/>
<circle cx="534.61" cy="602.3" r="1.95" fill="#000"/>
<circle cx="540.2" cy="600.6" r="1.95" fill="#000"/>
<polyline points="322.09,601.3 327.69,600.7 333.28,598.9 338.87,600.3 344.46,604.7 350.06,606.9 355.65,607.7 361.24,610.4 366.83,612.8 372.43,611.4 378.02,608.4 383.61,607.2 389.2,606.4 394.8,603.6 400.39,600.6 405.98,599.8 411.57,599 417.17,597.3 422.76,595.4 428.35,595.4 433.94,596 439.54,596 445.13,597.3 450.72,600 456.31,600.9 461.91,601.3 467.5,601.8 473.09,603.5 478.68,603.2 484.28,602.7 489.87,601.8 495.46,602.1 501.05,603.2 506.65,603.5 512.24,603.9 517.83,604.4 523.42,604.9 529.02,605.8 534.61,605.8 540.2,604.5" fill="none" stroke="#8a8a8a" stroke-width="1.0"/>
<rect x="320.39" y="599.6" width="3.4" height="3.4" fill="#7f7f7f"/>
<rect x="325.99" y="599" width="3.4" height="3.4" fill="#7f7f7f"/>
<rect x="331.58" y="597.2" width="3.4" height="3.4" fill="#7f7f7f"/>
<rect x="337.17" y="598.6" width="3.4" height="3.4" fill="#7f7f7f"/>
<rect x="342.76" y="603" width="3.4" height="3.4" fill="#7f7f7f"/>
<rect x="348.36" y="605.2" width="3.4" height="3.4" fill="#7f7f7f"/>
<rect x="353.95" y="606" width="3.4" height="3.4" fill="#7f7f7f"/>
<rect x="359.54" y="608.7" width="3.4" height="3.4" fill="#7f7f7f"/>
<rect x="365.13" y="611.1" width="3.4" height="3.4" fill="#7f7f7f"/>
<rect x="370.73" y="609.7" width="3.4" height="3.4" fill="#7f7f7f"/>
<rect x="376.32" y="606.7" width="3.4" height="3.4" fill="#7f7f7f"/>
<rect x="381.91" y="605.5" width="3.4" height="3.4" fill="#7f7f7f"/>
<rect x="387.5" y="604.7" width="3.4" height="3.4" fill="#7f7f7f"/>
<rect x="393.1" y="601.9" width="3.4" height="3.4" fill="#7f7f7f"/>
<rect x="398.69" y="598.9" width="3.4" height="3.4" fill="#7f7f7f"/>
<rect x="404.28" y="598.1" width="3.4" height="3.4" fill="#7f7f7f"/>
<rect x="409.87" y="597.3" width="3.4" height="3.4" fill="#7f7f7f"/>
<rect x="415.47" y="595.6" width="3.4" height="3.4" fill="#7f7f7f"/>
<rect x="421.06" y="593.7" width="3.4" height="3.4" fill="#7f7f7f"/>
<rect x="426.65" y="593.7" width="3.4" height="3.4" fill="#7f7f7f"/>
<rect x="432.24" y="594.3" width="3.4" height="3.4" fill="#7f7f7f"/>
<rect x="437.84" y="594.3" width="3.4" height="3.4" fill="#7f7f7f"/>
<rect x="443.43" y="595.6" width="3.4" height="3.4" fill="#7f7f7f"/>
<rect x="449.02" y="598.3" width="3.4" height="3.4" fill="#7f7f7f"/>
<rect x="454.61" y="599.2" width="3.4" height="3.4" fill="#7f7f7f"/>
<rect x="460.21" y="599.6" width="3.4" height="3.4" fill="#7f7f7f"/>
<rect x="465.8" y="600.1" width="3.4" height="3.4" fill="#7f7f7f"/>
<rect x="471.39" y="601.8" width="3.4" height="3.4" fill="#7f7f7f"/>
<rect x="476.98" y="601.5" width="3.4" height="3.4" fill="#7f7f7f"/>
<rect x="482.58" y="601" width="3.4" height="3.4" fill="#7f7f7f"/>
<rect x="488.17" y="600.1" width="3.4" height="3.4" fill="#7f7f7f"/>
<rect x="493.76" y="600.4" width="3.4" height="3.4" fill="#7f7f7f"/>
<rect x="499.35" y="601.5" width="3.4" height="3.4" fill="#7f7f7f"/>
<rect x="504.95" y="601.8" width="3.4" height="3.4" fill="#7f7f7f"/>
<rect x="510.54" y="602.2" width="3.4" height="3.4" fill="#7f7f7f"/>
<rect x="516.13" y="602.7" width="3.4" height="3.4" fill="#7f7f7f"/>
<rect x="521.72" y="603.2" width="3.4" height="3.4" fill="#7f7f7f"/>
<rect x="527.32" y="604.1" width="3.4" height="3.4" fill="#7f7f7f"/>
<rect x="532.91" y="604.1" width="3.4" height="3.4" fill="#7f7f7f"/>
<rect x="538.5" y="602.8" width="3.4" height="3.4" fill="#7f7f7f"/>
<line x1="481" y1="501.9" x2="501" y2="501.9" stroke="#000" stroke-width="1.3"/>
<circle cx="491" cy="501.9" r="2.2" fill="#000"/>
<text x="504" y="504.9" font-size="8.4" text-anchor="start">approach</text>
<line x1="481" y1="512.4" x2="501" y2="512.4" stroke="#8a8a8a" stroke-width="1.0"/>
<rect x="489.3" y="510.7" width="3.4" height="3.4" fill="#7f7f7f"/>
<text x="504" y="515.4" font-size="8.4" text-anchor="start">retract</text>
<text x="267.4" y="483.2" font-size="17.8" font-weight="bold" textLength="17.6" lengthAdjust="spacingAndGlyphs" style="stroke-width:0.1px">(f)</text>
</svg>
</body></html>
